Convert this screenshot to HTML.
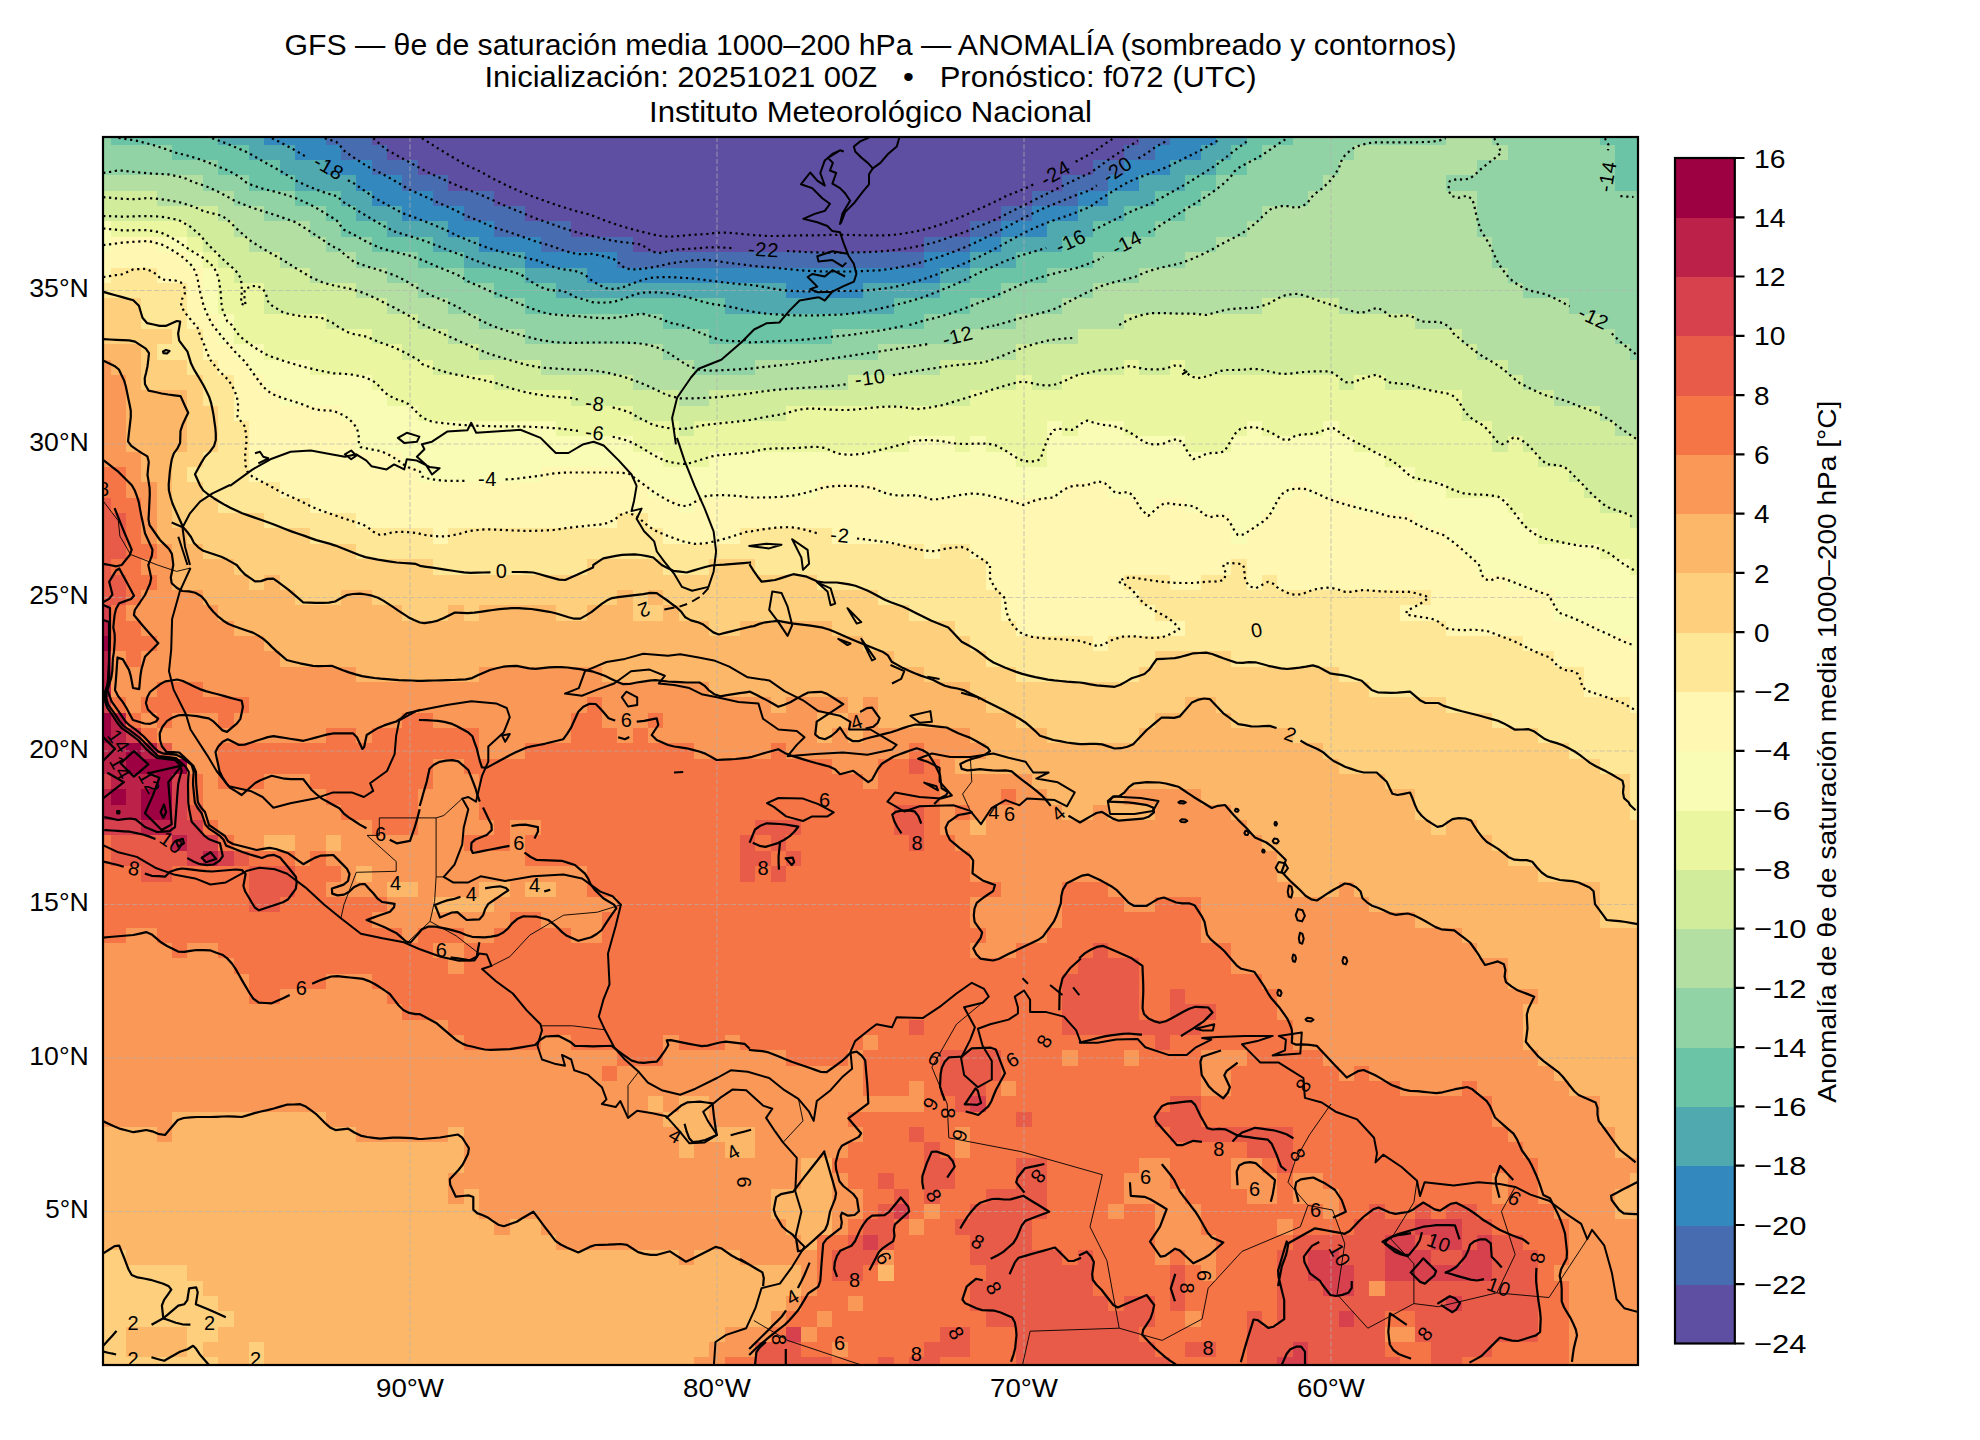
<!DOCTYPE html>
<html lang="es"><head><meta charset="utf-8"><title>GFS θe anomalía</title>
<style>html,body{margin:0;padding:0;background:#fff}body{width:1980px;height:1440px;overflow:hidden}svg{display:block}text{font-family:"Liberation Sans",sans-serif;fill:#000}</style></head><body>
<svg width="1980" height="1440" viewBox="0 0 1980 1440">
<rect width="1980" height="1440" fill="#fff"/>
<defs><clipPath id="ax"><rect x="103.0" y="137.0" width="1535.0" height="1228.0"/></clipPath></defs>
<g clip-path="url(#ax)">
<g shape-rendering="crispEdges"><path fill="#5e4fa2" d="M371.6 137H1139.1V144.7H371.6ZM387 144.7H1123.8V160H387ZM417.7 160H1093.1V175.4H417.7ZM448.4 175.4H1062.4V190.7H448.4ZM494.4 190.7H1031.7V206.1H494.4ZM525.1 206.1H1001V221.4H525.1ZM571.2 221.4H970.3V236.8H571.2ZM632.6 236.8H924.2V252.1H632.6Z"/>
<path fill="#486cb0" d="M325.6 137H371.6V144.7H325.6ZM1139.1 137H1169.8V144.7H1139.1ZM340.9 144.7H387V160H340.9ZM1123.8 144.7H1154.5V160H1123.8ZM371.6 160H417.7V175.4H371.6ZM1093.1 160H1123.8V175.4H1093.1ZM402.3 175.4H448.4V190.7H402.3ZM1062.4 175.4H1108.4V190.7H1062.4ZM433 190.7H494.4V206.1H433ZM1031.7 190.7H1077.7V206.1H1031.7ZM463.7 206.1H525.1V221.4H463.7ZM1001 206.1H1031.7V221.4H1001ZM494.4 221.4H571.2V236.8H494.4ZM970.3 221.4H1001V236.8H970.3ZM540.5 236.8H632.6V252.1H540.5ZM924.2 236.8H970.3V252.1H924.2ZM617.2 252.1H924.2V267.5H617.2Z"/>
<path fill="#3389bd" d="M264.2 137H325.6V144.7H264.2ZM1169.8 137H1215.9V144.7H1169.8ZM294.9 144.7H340.9V160H294.9ZM1154.5 144.7H1200.5V160H1154.5ZM325.6 160H371.6V175.4H325.6ZM1123.8 160H1169.8V175.4H1123.8ZM356.3 175.4H402.3V190.7H356.3ZM1108.4 175.4H1139.1V190.7H1108.4ZM371.6 190.7H433V206.1H371.6ZM1077.7 190.7H1108.4V206.1H1077.7ZM402.3 206.1H463.7V221.4H402.3ZM1031.7 206.1H1077.7V221.4H1031.7ZM448.4 221.4H494.4V236.8H448.4ZM1001 221.4H1047V236.8H1001ZM479.1 236.8H540.5V252.1H479.1ZM970.3 236.8H1001V252.1H970.3ZM525.1 252.1H617.2V267.5H525.1ZM924.2 252.1H970.3V267.5H924.2ZM586.5 267.5H939.6V282.8H586.5ZM786.1 282.8H862.8V298.2H786.1Z"/>
<path fill="#50a9af" d="M218.1 137H264.2V144.7H218.1ZM1215.9 137H1246.6V144.7H1215.9ZM248.8 144.7H294.9V160H248.8ZM1200.5 144.7H1231.2V160H1200.5ZM279.5 160H325.6V175.4H279.5ZM1169.8 160H1215.9V175.4H1169.8ZM294.9 175.4H356.3V190.7H294.9ZM1139.1 175.4H1185.2V190.7H1139.1ZM340.9 190.7H371.6V206.1H340.9ZM1108.4 190.7H1154.5V206.1H1108.4ZM356.3 206.1H402.3V221.4H356.3ZM1077.7 206.1H1123.8V221.4H1077.7ZM387 221.4H448.4V236.8H387ZM1047 221.4H1093.1V236.8H1047ZM433 236.8H479.1V252.1H433ZM1001 236.8H1062.4V252.1H1001ZM463.7 252.1H525.1V267.5H463.7ZM970.3 252.1H1016.3V267.5H970.3ZM525.1 267.5H586.5V282.8H525.1ZM939.6 267.5H970.3V282.8H939.6ZM555.8 282.8H786.1V298.2H555.8ZM862.8 282.8H939.6V298.2H862.8ZM724.7 298.2H893.5V313.5H724.7Z"/>
<path fill="#6bc4a5" d="M110.7 137H218.1V144.7H110.7ZM1246.6 137H1292.6V144.7H1246.6ZM1599.6 137H1638V144.7H1599.6ZM172.1 144.7H248.8V160H172.1ZM1231.2 144.7H1261.9V160H1231.2ZM218.1 160H279.5V175.4H218.1ZM1215.9 160H1246.6V175.4H1215.9ZM1615 144.7H1638V190.7H1615ZM248.8 175.4H294.9V190.7H248.8ZM1185.2 175.4H1215.9V190.7H1185.2ZM294.9 190.7H340.9V206.1H294.9ZM1154.5 190.7H1200.5V206.1H1154.5ZM325.6 206.1H356.3V221.4H325.6ZM1123.8 206.1H1185.2V221.4H1123.8ZM340.9 221.4H387V236.8H340.9ZM1093.1 221.4H1154.5V236.8H1093.1ZM371.6 236.8H433V252.1H371.6ZM1062.4 236.8H1123.8V252.1H1062.4ZM417.7 252.1H463.7V267.5H417.7ZM1016.3 252.1H1093.1V267.5H1016.3ZM463.7 267.5H525.1V282.8H463.7ZM970.3 267.5H1047V282.8H970.3ZM494.4 282.8H555.8V298.2H494.4ZM939.6 282.8H1001V298.2H939.6ZM525.1 298.2H724.7V313.5H525.1ZM893.5 298.2H970.3V313.5H893.5ZM663.3 313.5H924.2V328.9H663.3ZM709.3 328.9H832.1V344.2H709.3Z"/>
<path fill="#91d3a4" d="M103 137H110.7V144.7H103ZM1292.6 137H1446.1V144.7H1292.6ZM1492.2 137H1599.6V144.7H1492.2ZM103 144.7H172.1V160H103ZM1261.9 144.7H1354V160H1261.9ZM1507.5 144.7H1615V160H1507.5ZM103 160H218.1V175.4H103ZM1246.6 160H1338.7V175.4H1246.6ZM1476.8 160H1615V175.4H1476.8ZM202.8 175.4H248.8V190.7H202.8ZM1215.9 175.4H1323.3V190.7H1215.9ZM1446.1 175.4H1615V190.7H1446.1ZM233.5 190.7H294.9V206.1H233.5ZM1200.5 190.7H1308V206.1H1200.5ZM264.2 206.1H325.6V221.4H264.2ZM1185.2 206.1H1261.9V221.4H1185.2ZM1476.8 190.7H1638V236.8H1476.8ZM310.2 221.4H340.9V236.8H310.2ZM1154.5 221.4H1246.6V236.8H1154.5ZM325.6 236.8H371.6V252.1H325.6ZM1123.8 236.8H1215.9V252.1H1123.8ZM1492.2 236.8H1638V267.5H1492.2ZM356.3 252.1H417.7V267.5H356.3ZM1093.1 252.1H1185.2V267.5H1093.1ZM387 267.5H463.7V282.8H387ZM1047 267.5H1139.1V282.8H1047ZM1507.5 267.5H1638V282.8H1507.5ZM417.7 282.8H494.4V298.2H417.7ZM1001 282.8H1093.1V298.2H1001ZM1522.9 282.8H1638V298.2H1522.9ZM448.4 298.2H525.1V313.5H448.4ZM970.3 298.2H1062.4V313.5H970.3ZM1568.9 298.2H1638V313.5H1568.9ZM479.1 313.5H663.3V328.9H479.1ZM924.2 313.5H1016.3V328.9H924.2ZM1599.6 313.5H1638V328.9H1599.6ZM525.1 328.9H709.3V344.2H525.1ZM832.1 328.9H954.9V344.2H832.1ZM1615 328.9H1638V344.2H1615ZM663.3 344.2H878.2V359.6H663.3ZM1630.3 344.2H1638V359.6H1630.3ZM694 359.6H755.4V374.9H694Z"/>
<path fill="#b3e0a2" d="M1446.1 137H1492.2V144.7H1446.1ZM1354 144.7H1507.5V160H1354ZM1338.7 160H1476.8V175.4H1338.7ZM103 175.4H202.8V190.7H103ZM1323.3 175.4H1446.1V190.7H1323.3ZM156.7 190.7H233.5V206.1H156.7ZM1308 190.7H1476.8V206.1H1308ZM218.1 206.1H264.2V221.4H218.1ZM1261.9 206.1H1476.8V221.4H1261.9ZM233.5 221.4H310.2V236.8H233.5ZM1246.6 221.4H1476.8V236.8H1246.6ZM248.8 236.8H325.6V252.1H248.8ZM1215.9 236.8H1492.2V252.1H1215.9ZM279.5 252.1H356.3V267.5H279.5ZM1185.2 252.1H1492.2V267.5H1185.2ZM310.2 267.5H387V282.8H310.2ZM1139.1 267.5H1507.5V282.8H1139.1ZM356.3 282.8H417.7V298.2H356.3ZM1093.1 282.8H1522.9V298.2H1093.1ZM387 298.2H448.4V313.5H387ZM1062.4 298.2H1261.9V313.5H1062.4ZM1338.7 298.2H1568.9V313.5H1338.7ZM417.7 313.5H479.1V328.9H417.7ZM1016.3 313.5H1123.8V328.9H1016.3ZM1415.4 313.5H1599.6V328.9H1415.4ZM448.4 328.9H525.1V344.2H448.4ZM954.9 328.9H1077.7V344.2H954.9ZM1461.5 328.9H1615V344.2H1461.5ZM479.1 344.2H663.3V359.6H479.1ZM878.2 344.2H1016.3V359.6H878.2ZM1476.8 344.2H1630.3V359.6H1476.8ZM540.5 359.6H694V374.9H540.5ZM755.4 359.6H939.6V374.9H755.4ZM1507.5 359.6H1638V374.9H1507.5ZM632.6 374.9H847.5V390.3H632.6ZM1522.9 374.9H1638V390.3H1522.9ZM678.6 390.3H709.3V405.6H678.6ZM1553.6 390.3H1638V405.6H1553.6ZM1599.6 405.6H1638V421H1599.6ZM1615 421H1638V436.3H1615Z"/>
<path fill="#d1ed9c" d="M103 190.7H156.7V206.1H103ZM103 206.1H218.1V221.4H103ZM187.4 221.4H233.5V236.8H187.4ZM202.8 236.8H248.8V252.1H202.8ZM218.1 252.1H279.5V267.5H218.1ZM233.5 267.5H310.2V282.8H233.5ZM264.2 282.8H356.3V298.2H264.2ZM264.2 298.2H387V313.5H264.2ZM1261.9 298.2H1338.7V313.5H1261.9ZM325.6 313.5H417.7V328.9H325.6ZM1123.8 313.5H1415.4V328.9H1123.8ZM371.6 328.9H448.4V344.2H371.6ZM1077.7 328.9H1461.5V344.2H1077.7ZM402.3 344.2H479.1V359.6H402.3ZM1016.3 344.2H1476.8V359.6H1016.3ZM433 359.6H540.5V374.9H433ZM939.6 359.6H1123.8V374.9H939.6ZM1139.1 359.6H1169.8V374.9H1139.1ZM1185.2 359.6H1507.5V374.9H1185.2ZM494.4 374.9H632.6V390.3H494.4ZM847.5 374.9H1016.3V390.3H847.5ZM1031.7 374.9H1062.4V390.3H1031.7ZM1338.7 374.9H1354V390.3H1338.7ZM1384.7 374.9H1522.9V390.3H1384.7ZM571.2 390.3H678.6V405.6H571.2ZM709.3 390.3H970.3V405.6H709.3ZM1461.5 390.3H1553.6V405.6H1461.5ZM632.6 405.6H786.1V421H632.6ZM1461.5 405.6H1599.6V421H1461.5ZM678.6 421H694V436.3H678.6ZM1492.2 421H1615V436.3H1492.2ZM1492.2 436.3H1507.5V451.7H1492.2ZM1522.9 436.3H1638V451.7H1522.9ZM1538.2 451.7H1638V467H1538.2ZM1568.9 467H1638V482.4H1568.9ZM1584.3 482.4H1638V497.7H1584.3ZM1599.6 497.7H1638V513.1H1599.6ZM1630.3 513.1H1638V528.4H1630.3Z"/>
<path fill="#ebf7a0" d="M110.7 221.4H187.4V236.8H110.7ZM187.4 236.8H202.8V252.1H187.4ZM202.8 252.1H218.1V267.5H202.8ZM218.1 267.5H233.5V282.8H218.1ZM218.1 282.8H264.2V313.5H218.1ZM233.5 313.5H325.6V328.9H233.5ZM233.5 328.9H371.6V344.2H233.5ZM264.2 344.2H402.3V359.6H264.2ZM310.2 359.6H433V374.9H310.2ZM1123.8 359.6H1139.1V374.9H1123.8ZM1169.8 359.6H1185.2V374.9H1169.8ZM371.6 374.9H494.4V390.3H371.6ZM1016.3 374.9H1031.7V390.3H1016.3ZM1062.4 374.9H1338.7V390.3H1062.4ZM1354 374.9H1384.7V390.3H1354ZM387 390.3H571.2V405.6H387ZM970.3 390.3H1461.5V405.6H970.3ZM417.7 405.6H632.6V421H417.7ZM786.1 405.6H1461.5V421H786.1ZM555.8 421H678.6V436.3H555.8ZM694 421H1047V436.3H694ZM1062.4 421H1077.7V436.3H1062.4ZM1123.8 421H1246.6V436.3H1123.8ZM1261.9 421H1323.3V436.3H1261.9ZM1338.7 421H1492.2V436.3H1338.7ZM632.6 436.3H908.9V451.7H632.6ZM954.9 436.3H970.3V451.7H954.9ZM985.6 436.3H1047V451.7H985.6ZM1185.2 436.3H1231.2V451.7H1185.2ZM1354 436.3H1492.2V451.7H1354ZM1507.5 436.3H1522.9V451.7H1507.5ZM663.3 451.7H709.3V467H663.3ZM1016.3 451.7H1047V467H1016.3ZM1384.7 451.7H1538.2V467H1384.7ZM1415.4 467H1568.9V482.4H1415.4ZM1446.1 482.4H1584.3V497.7H1446.1ZM1507.5 497.7H1599.6V513.1H1507.5ZM1522.9 513.1H1630.3V528.4H1522.9ZM1538.2 528.4H1638V543.8H1538.2ZM1599.6 543.8H1638V559.1H1599.6ZM1630.3 559.1H1638V574.5H1630.3Z"/>
<path fill="#f8fcb4" d="M103 221.4H110.7V252.1H103ZM156.7 236.8H187.4V252.1H156.7ZM187.4 252.1H202.8V267.5H187.4ZM202.8 267.5H218.1V313.5H202.8ZM218.1 313.5H233.5V344.2H218.1ZM233.5 344.2H264.2V359.6H233.5ZM248.8 359.6H310.2V374.9H248.8ZM264.2 374.9H371.6V390.3H264.2ZM279.5 390.3H387V405.6H279.5ZM340.9 405.6H417.7V421H340.9ZM356.3 421H555.8V436.3H356.3ZM1047 421H1062.4V436.3H1047ZM1077.7 421H1123.8V436.3H1077.7ZM1246.6 421H1261.9V436.3H1246.6ZM1323.3 421H1338.7V436.3H1323.3ZM356.3 436.3H632.6V451.7H356.3ZM908.9 436.3H954.9V451.7H908.9ZM970.3 436.3H985.6V451.7H970.3ZM1047 436.3H1185.2V451.7H1047ZM1231.2 436.3H1354V451.7H1231.2ZM402.3 451.7H663.3V467H402.3ZM709.3 451.7H1016.3V467H709.3ZM1047 451.7H1384.7V467H1047ZM417.7 467H540.5V482.4H417.7ZM632.6 467H1415.4V482.4H632.6ZM647.9 482.4H816.8V497.7H647.9ZM878.2 482.4H1062.4V497.7H878.2ZM1108.4 482.4H1292.6V497.7H1108.4ZM1308 482.4H1446.1V497.7H1308ZM678.6 497.7H694V513.1H678.6ZM1139.1 497.7H1154.5V513.1H1139.1ZM1185.2 497.7H1277.3V513.1H1185.2ZM1354 497.7H1507.5V513.1H1354ZM1231.2 513.1H1261.9V528.4H1231.2ZM1415.4 513.1H1522.9V528.4H1415.4ZM1231.2 528.4H1246.6V543.8H1231.2ZM1446.1 528.4H1538.2V543.8H1446.1ZM1461.5 543.8H1599.6V559.1H1461.5ZM1476.8 559.1H1630.3V574.5H1476.8ZM1507.5 574.5H1638V589.8H1507.5ZM1553.6 589.8H1638V620.5H1553.6ZM1599.6 620.5H1638V635.9H1599.6ZM1630.3 635.9H1638V651.2H1630.3Z"/>
<path fill="#fff7b2" d="M110.7 236.8H156.7V252.1H110.7ZM103 252.1H187.4V267.5H103ZM103 267.5H110.7V282.8H103ZM156.7 267.5H202.8V282.8H156.7ZM187.4 282.8H202.8V313.5H187.4ZM187.4 313.5H218.1V328.9H187.4ZM202.8 328.9H218.1V344.2H202.8ZM202.8 344.2H233.5V359.6H202.8ZM218.1 359.6H248.8V374.9H218.1ZM233.5 374.9H264.2V390.3H233.5ZM233.5 390.3H279.5V405.6H233.5ZM233.5 405.6H340.9V421H233.5ZM248.8 421H356.3V451.7H248.8ZM248.8 451.7H402.3V467H248.8ZM248.8 467H417.7V482.4H248.8ZM540.5 467H632.6V482.4H540.5ZM279.5 482.4H647.9V497.7H279.5ZM816.8 482.4H878.2V497.7H816.8ZM1062.4 482.4H1108.4V497.7H1062.4ZM1292.6 482.4H1308V497.7H1292.6ZM310.2 497.7H678.6V513.1H310.2ZM694 497.7H1139.1V513.1H694ZM1154.5 497.7H1185.2V513.1H1154.5ZM1277.3 497.7H1354V513.1H1277.3ZM356.3 513.1H617.2V528.4H356.3ZM647.9 513.1H1231.2V528.4H647.9ZM1261.9 513.1H1415.4V528.4H1261.9ZM433 528.4H448.4V543.8H433ZM663.3 528.4H740V543.8H663.3ZM832.1 528.4H1231.2V543.8H832.1ZM1246.6 528.4H1446.1V543.8H1246.6ZM924.2 543.8H939.6V559.1H924.2ZM970.3 543.8H1461.5V559.1H970.3ZM985.6 559.1H1231.2V574.5H985.6ZM1246.6 559.1H1476.8V574.5H1246.6ZM985.6 574.5H1123.8V589.8H985.6ZM1169.8 574.5H1200.5V589.8H1169.8ZM1246.6 574.5H1261.9V589.8H1246.6ZM1277.3 574.5H1507.5V589.8H1277.3ZM1001 589.8H1139.1V605.2H1001ZM1430.8 589.8H1553.6V605.2H1430.8ZM1001 605.2H1154.5V620.5H1001ZM1400.1 605.2H1553.6V620.5H1400.1ZM1016.3 620.5H1185.2V635.9H1016.3ZM1446.1 620.5H1599.6V635.9H1446.1ZM1093.1 635.9H1108.4V651.2H1093.1ZM1522.9 635.9H1630.3V651.2H1522.9ZM1553.6 651.2H1638V666.6H1553.6ZM1584.3 666.6H1638V697.3H1584.3ZM1630.3 697.3H1638V712.6H1630.3Z"/>
<path fill="#fee797" d="M110.7 267.5H156.7V282.8H110.7ZM103 282.8H187.4V298.2H103ZM141.4 298.2H187.4V328.9H141.4ZM172.1 328.9H202.8V344.2H172.1ZM156.7 344.2H202.8V359.6H156.7ZM187.4 359.6H218.1V374.9H187.4ZM202.8 374.9H233.5V405.6H202.8ZM218.1 405.6H233.5V421H218.1ZM218.1 421H248.8V451.7H218.1ZM202.8 451.7H248.8V467H202.8ZM187.4 467H248.8V482.4H187.4ZM202.8 482.4H279.5V497.7H202.8ZM218.1 497.7H310.2V513.1H218.1ZM264.2 513.1H356.3V528.4H264.2ZM617.2 513.1H647.9V528.4H617.2ZM310.2 528.4H433V543.8H310.2ZM448.4 528.4H663.3V543.8H448.4ZM740 528.4H832.1V543.8H740ZM356.3 543.8H924.2V559.1H356.3ZM939.6 543.8H970.3V559.1H939.6ZM433 559.1H586.5V574.5H433ZM663.3 559.1H709.3V574.5H663.3ZM755.4 559.1H985.6V574.5H755.4ZM1231.2 559.1H1246.6V574.5H1231.2ZM816.8 574.5H985.6V589.8H816.8ZM1123.8 574.5H1169.8V589.8H1123.8ZM1200.5 574.5H1246.6V589.8H1200.5ZM1261.9 574.5H1277.3V589.8H1261.9ZM878.2 589.8H1001V605.2H878.2ZM1139.1 589.8H1430.8V605.2H1139.1ZM908.9 605.2H1001V620.5H908.9ZM1154.5 605.2H1400.1V620.5H1154.5ZM954.9 620.5H1016.3V635.9H954.9ZM1185.2 620.5H1446.1V635.9H1185.2ZM970.3 635.9H1093.1V651.2H970.3ZM1108.4 635.9H1522.9V651.2H1108.4ZM985.6 651.2H1154.5V666.6H985.6ZM1231.2 651.2H1553.6V666.6H1231.2ZM1016.3 666.6H1139.1V681.9H1016.3ZM1338.7 666.6H1584.3V681.9H1338.7ZM1369.4 681.9H1584.3V697.3H1369.4ZM1446.1 697.3H1630.3V712.6H1446.1ZM1492.2 712.6H1638V728H1492.2ZM1538.2 728H1638V743.3H1538.2ZM1568.9 743.3H1638V758.7H1568.9ZM1599.6 758.7H1638V774H1599.6ZM1630.3 774H1638V820.1H1630.3Z"/>
<path fill="#fed07e" d="M103 298.2H141.4V328.9H103ZM103 328.9H172.1V344.2H103ZM141.4 344.2H156.7V359.6H141.4ZM141.4 359.6H187.4V374.9H141.4ZM141.4 374.9H202.8V390.3H141.4ZM187.4 390.3H202.8V405.6H187.4ZM187.4 405.6H218.1V451.7H187.4ZM172.1 451.7H202.8V467H172.1ZM172.1 467H187.4V482.4H172.1ZM172.1 482.4H202.8V497.7H172.1ZM172.1 497.7H218.1V513.1H172.1ZM172.1 513.1H264.2V528.4H172.1ZM187.4 528.4H310.2V543.8H187.4ZM202.8 543.8H356.3V559.1H202.8ZM233.5 559.1H433V574.5H233.5ZM586.5 559.1H663.3V574.5H586.5ZM709.3 559.1H755.4V574.5H709.3ZM248.8 574.5H264.2V589.8H248.8ZM279.5 574.5H816.8V589.8H279.5ZM294.9 589.8H340.9V605.2H294.9ZM371.6 589.8H617.2V605.2H371.6ZM632.6 589.8H647.9V605.2H632.6ZM663.3 589.8H878.2V605.2H663.3ZM402.3 605.2H448.4V620.5H402.3ZM463.7 605.2H479.1V620.5H463.7ZM555.8 605.2H586.5V620.5H555.8ZM632.6 605.2H663.3V620.5H632.6ZM678.6 605.2H908.9V620.5H678.6ZM709.3 620.5H740V635.9H709.3ZM832.1 620.5H954.9V635.9H832.1ZM862.8 635.9H970.3V651.2H862.8ZM893.5 651.2H985.6V666.6H893.5ZM1154.5 651.2H1231.2V666.6H1154.5ZM924.2 666.6H1016.3V681.9H924.2ZM1139.1 666.6H1338.7V681.9H1139.1ZM970.3 681.9H1369.4V697.3H970.3ZM985.6 697.3H1185.2V712.6H985.6ZM1215.9 697.3H1446.1V712.6H1215.9ZM1016.3 712.6H1154.5V728H1016.3ZM1231.2 712.6H1492.2V728H1231.2ZM1047 728H1139.1V743.3H1047ZM1292.6 728H1538.2V743.3H1292.6ZM1323.3 743.3H1568.9V758.7H1323.3ZM1338.7 758.7H1599.6V774H1338.7ZM1384.7 774H1630.3V789.4H1384.7ZM1415.4 789.4H1630.3V820.1H1415.4ZM1430.8 820.1H1446.1V835.4H1430.8ZM1476.8 820.1H1638V835.4H1476.8ZM1492.2 835.4H1638V850.8H1492.2ZM1507.5 850.8H1638V866.1H1507.5ZM1538.2 866.1H1638V881.5H1538.2ZM1599.6 881.5H1638V927.5H1599.6ZM103 1249.9H126V1265.2H103ZM103 1265.2H187.4V1280.6H103ZM103 1280.6H202.8V1295.9H103ZM103 1295.9H218.1V1311.3H103ZM103 1311.3H233.5V1326.6H103ZM187.4 1326.6H218.1V1342H187.4ZM103 1326.6H126V1357.3H103ZM187.4 1342H202.8V1357.3H187.4ZM248.8 1342H264.2V1365H248.8ZM103 1357.3H218.1V1365H103Z"/>
<path fill="#fdb768" d="M103 344.2H141.4V359.6H103ZM110.7 359.6H141.4V374.9H110.7ZM126 374.9H141.4V390.3H126ZM126 390.3H187.4V451.7H126ZM141.4 451.7H172.1V482.4H141.4ZM156.7 482.4H172.1V528.4H156.7ZM156.7 528.4H187.4V543.8H156.7ZM172.1 543.8H202.8V559.1H172.1ZM172.1 559.1H233.5V574.5H172.1ZM172.1 574.5H248.8V589.8H172.1ZM264.2 574.5H279.5V589.8H264.2ZM202.8 589.8H294.9V605.2H202.8ZM340.9 589.8H371.6V605.2H340.9ZM617.2 589.8H632.6V605.2H617.2ZM647.9 589.8H663.3V605.2H647.9ZM218.1 605.2H402.3V620.5H218.1ZM448.4 605.2H463.7V620.5H448.4ZM479.1 605.2H555.8V620.5H479.1ZM586.5 605.2H632.6V620.5H586.5ZM663.3 605.2H678.6V620.5H663.3ZM233.5 620.5H709.3V635.9H233.5ZM740 620.5H832.1V635.9H740ZM264.2 635.9H862.8V651.2H264.2ZM279.5 651.2H893.5V666.6H279.5ZM356.3 666.6H479.1V681.9H356.3ZM601.9 666.6H924.2V681.9H601.9ZM709.3 681.9H970.3V697.3H709.3ZM770.7 697.3H786.1V712.6H770.7ZM847.5 697.3H862.8V712.6H847.5ZM878.2 697.3H985.6V712.6H878.2ZM1185.2 697.3H1215.9V712.6H1185.2ZM816.8 712.6H847.5V728H816.8ZM878.2 712.6H1016.3V728H878.2ZM1154.5 712.6H1231.2V728H1154.5ZM816.8 728H832.1V743.3H816.8ZM847.5 728H862.8V743.3H847.5ZM970.3 728H1047V743.3H970.3ZM1139.1 728H1292.6V743.3H1139.1ZM985.6 743.3H1323.3V758.7H985.6ZM954.9 758.7H1338.7V774H954.9ZM1031.7 774H1384.7V789.4H1031.7ZM1047 789.4H1123.8V804.7H1047ZM1200.5 789.4H1415.4V804.7H1200.5ZM1062.4 804.7H1093.1V820.1H1062.4ZM1108.4 804.7H1154.5V820.1H1108.4ZM1231.2 804.7H1415.4V820.1H1231.2ZM970.3 820.1H985.6V835.4H970.3ZM1246.6 820.1H1430.8V835.4H1246.6ZM1446.1 820.1H1476.8V835.4H1446.1ZM264.2 835.4H294.9V850.8H264.2ZM325.6 835.4H340.9V850.8H325.6ZM1261.9 835.4H1492.2V850.8H1261.9ZM1277.3 850.8H1507.5V866.1H1277.3ZM356.3 866.1H371.6V881.5H356.3ZM1277.3 866.1H1538.2V881.5H1277.3ZM387 881.5H417.7V896.8H387ZM479.1 881.5H509.8V896.8H479.1ZM525.1 881.5H555.8V896.8H525.1ZM1292.6 881.5H1338.7V896.8H1292.6ZM1354 881.5H1599.6V896.8H1354ZM433 896.8H494.4V912.2H433ZM1369.4 896.8H1599.6V912.2H1369.4ZM1415.4 912.2H1599.6V927.5H1415.4ZM1461.5 927.5H1638V942.9H1461.5ZM1476.8 942.9H1638V958.2H1476.8ZM1507.5 958.2H1638V988.9H1507.5ZM1538.2 988.9H1638V1004.3H1538.2ZM1522.9 1004.3H1638V1050.3H1522.9ZM1538.2 1050.3H1638V1065.7H1538.2ZM1553.6 1065.7H1638V1081H1553.6ZM1568.9 1081H1638V1096.4H1568.9ZM647.9 1096.4H663.3V1111.7H647.9ZM678.6 1096.4H709.3V1111.7H678.6ZM1599.6 1096.4H1638V1127.1H1599.6ZM172.1 1111.7H325.6V1127.1H172.1ZM663.3 1111.7H709.3V1127.1H663.3ZM103 1127.1H156.7V1142.4H103ZM172.1 1127.1H356.3V1142.4H172.1ZM448.4 1127.1H463.7V1142.4H448.4ZM678.6 1127.1H755.4V1142.4H678.6ZM1615 1127.1H1638V1157.8H1615ZM678.6 1142.4H694V1157.8H678.6ZM724.7 1142.4H755.4V1157.8H724.7ZM103 1142.4H463.7V1173.1H103ZM801.4 1157.8H832.1V1188.5H801.4ZM1630.3 1173.1H1638V1188.5H1630.3ZM103 1173.1H448.4V1203.8H103ZM463.7 1188.5H479.1V1203.8H463.7ZM770.7 1188.5H832.1V1219.2H770.7ZM1615 1188.5H1638V1219.2H1615ZM103 1203.8H479.1V1219.2H103ZM103 1219.2H494.4V1234.5H103ZM509.8 1219.2H540.5V1234.5H509.8ZM786.1 1219.2H832.1V1234.5H786.1ZM103 1234.5H555.8V1249.9H103ZM801.4 1234.5H816.8V1249.9H801.4ZM126 1249.9H678.6V1265.2H126ZM694 1249.9H740V1265.2H694ZM187.4 1265.2H801.4V1280.6H187.4ZM878.2 1265.2H893.5V1280.6H878.2ZM202.8 1280.6H801.4V1295.9H202.8ZM218.1 1295.9H786.1V1311.3H218.1ZM233.5 1311.3H770.7V1326.6H233.5ZM218.1 1326.6H724.7V1342H218.1ZM126 1326.6H187.4V1357.3H126ZM202.8 1342H248.8V1357.3H202.8ZM264.2 1342H709.3V1357.3H264.2ZM218.1 1357.3H248.8V1365H218.1ZM264.2 1357.3H694V1365H264.2Z"/>
<path fill="#fa9857" d="M103 359.6H110.7V374.9H103ZM103 374.9H126V451.7H103ZM103 451.7H141.4V467H103ZM126 467H141.4V482.4H126ZM126 482.4H156.7V497.7H126ZM141.4 497.7H156.7V543.8H141.4ZM156.7 543.8H172.1V559.1H156.7ZM141.4 559.1H172.1V574.5H141.4ZM156.7 574.5H172.1V589.8H156.7ZM141.4 589.8H202.8V605.2H141.4ZM126 605.2H218.1V620.5H126ZM141.4 620.5H233.5V635.9H141.4ZM156.7 635.9H264.2V651.2H156.7ZM110.7 651.2H126V666.6H110.7ZM141.4 651.2H279.5V666.6H141.4ZM110.7 666.6H356.3V681.9H110.7ZM479.1 666.6H601.9V681.9H479.1ZM110.7 681.9H156.7V697.3H110.7ZM202.8 681.9H709.3V697.3H202.8ZM126 697.3H141.4V712.6H126ZM248.8 697.3H586.5V712.6H248.8ZM601.9 697.3H770.7V712.6H601.9ZM786.1 697.3H847.5V712.6H786.1ZM862.8 697.3H878.2V712.6H862.8ZM141.4 712.6H156.7V728H141.4ZM172.1 712.6H218.1V728H172.1ZM233.5 712.6H402.3V728H233.5ZM433 712.6H571.2V728H433ZM601.9 712.6H647.9V728H601.9ZM663.3 712.6H816.8V728H663.3ZM847.5 712.6H878.2V728H847.5ZM156.7 728H325.6V743.3H156.7ZM356.3 728H371.6V743.3H356.3ZM479.1 728H571.2V743.3H479.1ZM617.2 728H632.6V743.3H617.2ZM647.9 728H816.8V743.3H647.9ZM832.1 728H847.5V743.3H832.1ZM862.8 728H970.3V743.3H862.8ZM172.1 743.3H218.1V758.7H172.1ZM479.1 743.3H525.1V758.7H479.1ZM694 743.3H770.7V758.7H694ZM786.1 743.3H908.9V758.7H786.1ZM924.2 743.3H985.6V758.7H924.2ZM187.4 758.7H218.1V774H187.4ZM433 758.7H463.7V774H433ZM832.1 758.7H878.2V774H832.1ZM939.6 758.7H954.9V774H939.6ZM202.8 774H218.1V789.4H202.8ZM264.2 774H310.2V789.4H264.2ZM433 774H479.1V789.4H433ZM862.8 774H878.2V789.4H862.8ZM939.6 774H1031.7V789.4H939.6ZM202.8 789.4H325.6V804.7H202.8ZM939.6 789.4H1001V804.7H939.6ZM1016.3 789.4H1047V804.7H1016.3ZM1123.8 789.4H1200.5V804.7H1123.8ZM417.7 789.4H479.1V820.1H417.7ZM202.8 804.7H340.9V820.1H202.8ZM939.6 804.7H954.9V820.1H939.6ZM970.3 804.7H1062.4V820.1H970.3ZM1093.1 804.7H1108.4V820.1H1093.1ZM1154.5 804.7H1231.2V820.1H1154.5ZM218.1 820.1H371.6V835.4H218.1ZM417.7 820.1H494.4V835.4H417.7ZM509.8 820.1H540.5V835.4H509.8ZM939.6 820.1H970.3V835.4H939.6ZM985.6 820.1H1246.6V835.4H985.6ZM233.5 835.4H264.2V850.8H233.5ZM294.9 835.4H325.6V850.8H294.9ZM340.9 835.4H463.7V850.8H340.9ZM509.8 835.4H525.1V850.8H509.8ZM954.9 835.4H1261.9V850.8H954.9ZM294.9 850.8H310.2V866.1H294.9ZM325.6 850.8H525.1V866.1H325.6ZM970.3 850.8H1277.3V881.5H970.3ZM340.9 866.1H356.3V881.5H340.9ZM371.6 866.1H586.5V881.5H371.6ZM325.6 881.5H387V896.8H325.6ZM417.7 881.5H479.1V896.8H417.7ZM509.8 881.5H525.1V896.8H509.8ZM555.8 881.5H586.5V896.8H555.8ZM1001 881.5H1062.4V896.8H1001ZM1108.4 881.5H1292.6V896.8H1108.4ZM1338.7 881.5H1354V896.8H1338.7ZM387 896.8H433V912.2H387ZM494.4 896.8H617.2V912.2H494.4ZM1123.8 896.8H1154.5V912.2H1123.8ZM1200.5 896.8H1369.4V912.2H1200.5ZM970.3 896.8H1062.4V927.5H970.3ZM371.6 912.2H509.8V927.5H371.6ZM540.5 912.2H601.9V927.5H540.5ZM1200.5 912.2H1415.4V927.5H1200.5ZM126 927.5H156.7V942.9H126ZM402.3 927.5H417.7V942.9H402.3ZM463.7 927.5H494.4V942.9H463.7ZM571.2 927.5H601.9V942.9H571.2ZM985.6 927.5H1047V942.9H985.6ZM1200.5 927.5H1461.5V942.9H1200.5ZM103 942.9H172.1V958.2H103ZM187.4 942.9H218.1V958.2H187.4ZM433 942.9H463.7V958.2H433ZM970.3 942.9H1016.3V958.2H970.3ZM1231.2 942.9H1476.8V958.2H1231.2ZM103 958.2H233.5V973.6H103ZM448.4 958.2H463.7V973.6H448.4ZM1231.2 958.2H1507.5V973.6H1231.2ZM325.6 973.6H371.6V988.9H325.6ZM1261.9 973.6H1507.5V988.9H1261.9ZM103 973.6H248.8V1004.3H103ZM279.5 988.9H387V1004.3H279.5ZM1277.3 988.9H1538.2V1004.3H1277.3ZM103 1004.3H402.3V1019.6H103ZM1277.3 1004.3H1522.9V1019.6H1277.3ZM103 1019.6H448.4V1035H103ZM1292.6 1019.6H1522.9V1050.3H1292.6ZM103 1035H463.7V1050.3H103ZM540.5 1035H571.2V1050.3H540.5ZM663.3 1035H678.6V1050.3H663.3ZM724.7 1035H740V1050.3H724.7ZM862.8 1035H878.2V1050.3H862.8ZM103 1050.3H617.2V1065.7H103ZM663.3 1050.3H786.1V1065.7H663.3ZM847.5 1050.3H862.8V1065.7H847.5ZM1062.4 1050.3H1077.7V1065.7H1062.4ZM1123.8 1050.3H1139.1V1065.7H1123.8ZM1200.5 1050.3H1246.6V1065.7H1200.5ZM1323.3 1050.3H1538.2V1065.7H1323.3ZM103 1065.7H601.9V1081H103ZM617.2 1065.7H862.8V1081H617.2ZM1338.7 1065.7H1354V1081H1338.7ZM1369.4 1065.7H1553.6V1081H1369.4ZM1200.5 1065.7H1231.2V1096.4H1200.5ZM103 1081H862.8V1096.4H103ZM908.9 1081H924.2V1096.4H908.9ZM1001 1081H1016.3V1096.4H1001ZM1400.1 1081H1461.5V1096.4H1400.1ZM1476.8 1081H1568.9V1096.4H1476.8ZM103 1096.4H647.9V1111.7H103ZM663.3 1096.4H678.6V1111.7H663.3ZM709.3 1096.4H924.2V1111.7H709.3ZM1492.2 1096.4H1599.6V1127.1H1492.2ZM103 1111.7H172.1V1127.1H103ZM325.6 1111.7H663.3V1127.1H325.6ZM709.3 1111.7H847.5V1127.1H709.3ZM156.7 1127.1H172.1V1142.4H156.7ZM356.3 1127.1H448.4V1142.4H356.3ZM755.4 1127.1H862.8V1142.4H755.4ZM1507.5 1127.1H1615V1142.4H1507.5ZM463.7 1127.1H678.6V1157.8H463.7ZM954.9 1127.1H970.3V1157.8H954.9ZM694 1142.4H724.7V1157.8H694ZM755.4 1142.4H847.5V1157.8H755.4ZM1522.9 1142.4H1615V1157.8H1522.9ZM463.7 1157.8H801.4V1173.1H463.7ZM1139.1 1157.8H1169.8V1173.1H1139.1ZM1231.2 1157.8H1261.9V1173.1H1231.2ZM1538.2 1157.8H1638V1173.1H1538.2ZM448.4 1173.1H801.4V1188.5H448.4ZM832.1 1173.1H847.5V1188.5H832.1ZM1123.8 1173.1H1169.8V1188.5H1123.8ZM1231.2 1173.1H1277.3V1188.5H1231.2ZM1292.6 1173.1H1323.3V1188.5H1292.6ZM1538.2 1173.1H1630.3V1188.5H1538.2ZM1492.2 1173.1H1507.5V1203.8H1492.2ZM448.4 1188.5H463.7V1203.8H448.4ZM1123.8 1188.5H1185.2V1203.8H1123.8ZM1246.6 1188.5H1277.3V1203.8H1246.6ZM1292.6 1188.5H1338.7V1203.8H1292.6ZM1538.2 1188.5H1615V1203.8H1538.2ZM479.1 1188.5H770.7V1219.2H479.1ZM832.1 1188.5H862.8V1219.2H832.1ZM924.2 1203.8H939.6V1219.2H924.2ZM1108.4 1203.8H1123.8V1219.2H1108.4ZM1323.3 1203.8H1338.7V1219.2H1323.3ZM1553.6 1203.8H1615V1219.2H1553.6ZM1154.5 1203.8H1200.5V1234.5H1154.5ZM494.4 1219.2H509.8V1234.5H494.4ZM540.5 1219.2H786.1V1234.5H540.5ZM832.1 1219.2H847.5V1234.5H832.1ZM908.9 1219.2H924.2V1234.5H908.9ZM1277.3 1219.2H1292.6V1234.5H1277.3ZM555.8 1234.5H801.4V1249.9H555.8ZM1154.5 1234.5H1215.9V1249.9H1154.5ZM1568.9 1219.2H1638V1265.2H1568.9ZM678.6 1249.9H694V1265.2H678.6ZM740 1249.9H816.8V1265.2H740ZM878.2 1249.9H893.5V1265.2H878.2ZM1154.5 1249.9H1169.8V1265.2H1154.5ZM1185.2 1249.9H1215.9V1265.2H1185.2ZM1200.5 1265.2H1215.9V1280.6H1200.5ZM1553.6 1265.2H1638V1280.6H1553.6ZM801.4 1265.2H816.8V1295.9H801.4ZM1369.4 1280.6H1384.7V1295.9H1369.4ZM786.1 1295.9H801.4V1311.3H786.1ZM847.5 1295.9H862.8V1311.3H847.5ZM770.7 1311.3H786.1V1326.6H770.7ZM816.8 1311.3H832.1V1326.6H816.8ZM1185.2 1311.3H1200.5V1326.6H1185.2ZM724.7 1326.6H770.7V1342H724.7ZM801.4 1326.6H816.8V1342H801.4ZM1384.7 1326.6H1415.4V1342H1384.7ZM709.3 1342H755.4V1357.3H709.3ZM832.1 1342H847.5V1357.3H832.1ZM1568.9 1280.6H1638V1365H1568.9ZM694 1357.3H724.7V1365H694Z"/>
<path fill="#f57547" d="M103 467H126V497.7H103ZM110.7 497.7H141.4V513.1H110.7ZM126 513.1H141.4V543.8H126ZM126 543.8H156.7V559.1H126ZM110.7 559.1H141.4V574.5H110.7ZM126 574.5H156.7V589.8H126ZM126 589.8H141.4V605.2H126ZM110.7 605.2H126V620.5H110.7ZM110.7 620.5H141.4V635.9H110.7ZM110.7 635.9H156.7V651.2H110.7ZM126 651.2H141.4V666.6H126ZM156.7 681.9H202.8V697.3H156.7ZM110.7 697.3H126V712.6H110.7ZM141.4 697.3H248.8V712.6H141.4ZM586.5 697.3H601.9V712.6H586.5ZM126 712.6H141.4V728H126ZM156.7 712.6H172.1V728H156.7ZM218.1 712.6H233.5V728H218.1ZM402.3 712.6H433V728H402.3ZM571.2 712.6H601.9V728H571.2ZM647.9 712.6H663.3V728H647.9ZM141.4 728H156.7V743.3H141.4ZM325.6 728H356.3V743.3H325.6ZM371.6 728H479.1V743.3H371.6ZM571.2 728H617.2V743.3H571.2ZM632.6 728H647.9V743.3H632.6ZM218.1 743.3H479.1V758.7H218.1ZM525.1 743.3H694V758.7H525.1ZM770.7 743.3H786.1V758.7H770.7ZM908.9 743.3H924.2V758.7H908.9ZM218.1 758.7H433V774H218.1ZM463.7 758.7H832.1V774H463.7ZM878.2 758.7H908.9V774H878.2ZM924.2 758.7H939.6V774H924.2ZM218.1 774H264.2V789.4H218.1ZM310.2 774H433V789.4H310.2ZM479.1 774H862.8V789.4H479.1ZM878.2 774H939.6V789.4H878.2ZM187.4 774H202.8V804.7H187.4ZM325.6 789.4H417.7V804.7H325.6ZM479.1 789.4H939.6V804.7H479.1ZM1001 789.4H1016.3V804.7H1001ZM340.9 804.7H417.7V820.1H340.9ZM479.1 804.7H893.5V820.1H479.1ZM954.9 804.7H970.3V820.1H954.9ZM924.2 804.7H939.6V835.4H924.2ZM202.8 820.1H218.1V835.4H202.8ZM371.6 820.1H417.7V835.4H371.6ZM494.4 820.1H509.8V835.4H494.4ZM540.5 820.1H755.4V835.4H540.5ZM801.4 820.1H893.5V835.4H801.4ZM218.1 835.4H233.5V850.8H218.1ZM463.7 835.4H509.8V850.8H463.7ZM755.4 835.4H770.7V850.8H755.4ZM786.1 835.4H908.9V850.8H786.1ZM924.2 835.4H954.9V850.8H924.2ZM103 835.4H110.7V866.1H103ZM525.1 835.4H740V866.1H525.1ZM248.8 850.8H294.9V866.1H248.8ZM310.2 850.8H325.6V866.1H310.2ZM770.7 850.8H786.1V866.1H770.7ZM801.4 850.8H970.3V866.1H801.4ZM103 866.1H141.4V881.5H103ZM172.1 866.1H248.8V881.5H172.1ZM294.9 866.1H340.9V881.5H294.9ZM586.5 866.1H740V881.5H586.5ZM755.4 866.1H770.7V881.5H755.4ZM786.1 866.1H970.3V881.5H786.1ZM294.9 881.5H325.6V896.8H294.9ZM586.5 881.5H1001V896.8H586.5ZM1062.4 881.5H1108.4V896.8H1062.4ZM103 881.5H248.8V912.2H103ZM279.5 896.8H387V912.2H279.5ZM617.2 896.8H970.3V912.2H617.2ZM1062.4 896.8H1123.8V912.2H1062.4ZM1154.5 896.8H1200.5V912.2H1154.5ZM103 912.2H371.6V927.5H103ZM509.8 912.2H540.5V927.5H509.8ZM601.9 912.2H970.3V927.5H601.9ZM1062.4 912.2H1200.5V927.5H1062.4ZM103 927.5H126V942.9H103ZM156.7 927.5H402.3V942.9H156.7ZM417.7 927.5H463.7V942.9H417.7ZM494.4 927.5H571.2V942.9H494.4ZM601.9 927.5H985.6V942.9H601.9ZM1047 927.5H1200.5V942.9H1047ZM172.1 942.9H187.4V958.2H172.1ZM218.1 942.9H433V958.2H218.1ZM463.7 942.9H970.3V958.2H463.7ZM1016.3 942.9H1093.1V958.2H1016.3ZM1108.4 942.9H1231.2V958.2H1108.4ZM233.5 958.2H448.4V973.6H233.5ZM463.7 958.2H1077.7V973.6H463.7ZM1139.1 958.2H1231.2V973.6H1139.1ZM248.8 973.6H325.6V988.9H248.8ZM371.6 973.6H1062.4V988.9H371.6ZM1139.1 973.6H1261.9V988.9H1139.1ZM248.8 988.9H279.5V1004.3H248.8ZM387 988.9H1062.4V1004.3H387ZM1185.2 988.9H1277.3V1004.3H1185.2ZM1139.1 988.9H1169.8V1019.6H1139.1ZM402.3 1004.3H1062.4V1019.6H402.3ZM1215.9 1004.3H1277.3V1019.6H1215.9ZM448.4 1019.6H908.9V1035H448.4ZM924.2 1019.6H1062.4V1035H924.2ZM1200.5 1019.6H1292.6V1035H1200.5ZM463.7 1035H540.5V1050.3H463.7ZM571.2 1035H663.3V1050.3H571.2ZM678.6 1035H724.7V1050.3H678.6ZM740 1035H862.8V1050.3H740ZM878.2 1035H1154.5V1050.3H878.2ZM1169.8 1035H1292.6V1050.3H1169.8ZM617.2 1050.3H663.3V1065.7H617.2ZM786.1 1050.3H847.5V1065.7H786.1ZM1001 1050.3H1062.4V1065.7H1001ZM1077.7 1050.3H1123.8V1065.7H1077.7ZM1139.1 1050.3H1200.5V1065.7H1139.1ZM1246.6 1050.3H1323.3V1065.7H1246.6ZM862.8 1050.3H939.6V1081H862.8ZM601.9 1065.7H617.2V1081H601.9ZM1001 1065.7H1200.5V1081H1001ZM1231.2 1065.7H1338.7V1081H1231.2ZM1354 1065.7H1369.4V1081H1354ZM862.8 1081H908.9V1096.4H862.8ZM924.2 1081H939.6V1096.4H924.2ZM985.6 1081H1001V1096.4H985.6ZM1016.3 1081H1200.5V1096.4H1016.3ZM1231.2 1081H1400.1V1096.4H1231.2ZM1461.5 1081H1476.8V1096.4H1461.5ZM924.2 1096.4H954.9V1111.7H924.2ZM985.6 1096.4H1169.8V1111.7H985.6ZM1200.5 1096.4H1492.2V1127.1H1200.5ZM847.5 1111.7H1016.3V1127.1H847.5ZM1031.7 1111.7H1154.5V1127.1H1031.7ZM862.8 1127.1H908.9V1142.4H862.8ZM924.2 1127.1H954.9V1142.4H924.2ZM970.3 1127.1H1169.8V1142.4H970.3ZM1292.6 1127.1H1507.5V1142.4H1292.6ZM847.5 1142.4H924.2V1157.8H847.5ZM939.6 1142.4H954.9V1157.8H939.6ZM970.3 1142.4H1246.6V1157.8H970.3ZM1292.6 1142.4H1522.9V1157.8H1292.6ZM832.1 1157.8H924.2V1173.1H832.1ZM1047 1157.8H1139.1V1173.1H1047ZM1261.9 1157.8H1277.3V1173.1H1261.9ZM1292.6 1157.8H1538.2V1173.1H1292.6ZM954.9 1157.8H1016.3V1188.5H954.9ZM1169.8 1157.8H1231.2V1188.5H1169.8ZM847.5 1173.1H878.2V1188.5H847.5ZM893.5 1173.1H924.2V1188.5H893.5ZM1323.3 1173.1H1492.2V1188.5H1323.3ZM1047 1173.1H1123.8V1203.8H1047ZM1277.3 1173.1H1292.6V1203.8H1277.3ZM1507.5 1173.1H1538.2V1203.8H1507.5ZM862.8 1188.5H893.5V1203.8H862.8ZM939.6 1188.5H985.6V1203.8H939.6ZM1185.2 1188.5H1246.6V1203.8H1185.2ZM1338.7 1188.5H1492.2V1203.8H1338.7ZM908.9 1188.5H924.2V1219.2H908.9ZM862.8 1203.8H878.2V1219.2H862.8ZM939.6 1203.8H970.3V1219.2H939.6ZM1047 1203.8H1108.4V1219.2H1047ZM1123.8 1203.8H1154.5V1219.2H1123.8ZM1200.5 1203.8H1323.3V1219.2H1200.5ZM1338.7 1203.8H1369.4V1219.2H1338.7ZM1384.7 1203.8H1415.4V1219.2H1384.7ZM1430.8 1203.8H1446.1V1219.2H1430.8ZM1476.8 1203.8H1553.6V1219.2H1476.8ZM847.5 1219.2H862.8V1234.5H847.5ZM893.5 1219.2H908.9V1234.5H893.5ZM924.2 1219.2H954.9V1234.5H924.2ZM1200.5 1219.2H1277.3V1234.5H1200.5ZM1292.6 1219.2H1354V1234.5H1292.6ZM1492.2 1219.2H1568.9V1234.5H1492.2ZM1031.7 1219.2H1154.5V1249.9H1031.7ZM816.8 1234.5H847.5V1249.9H816.8ZM1215.9 1234.5H1292.6V1249.9H1215.9ZM1522.9 1234.5H1568.9V1249.9H1522.9ZM893.5 1234.5H970.3V1265.2H893.5ZM1062.4 1249.9H1077.7V1265.2H1062.4ZM1093.1 1249.9H1154.5V1265.2H1093.1ZM1169.8 1249.9H1185.2V1265.2H1169.8ZM1538.2 1249.9H1568.9V1265.2H1538.2ZM816.8 1249.9H832.1V1280.6H816.8ZM1215.9 1249.9H1277.3V1280.6H1215.9ZM862.8 1265.2H878.2V1280.6H862.8ZM893.5 1265.2H985.6V1280.6H893.5ZM1185.2 1265.2H1200.5V1280.6H1185.2ZM1538.2 1265.2H1553.6V1280.6H1538.2ZM1093.1 1265.2H1169.8V1295.9H1093.1ZM816.8 1280.6H970.3V1295.9H816.8ZM1185.2 1280.6H1277.3V1311.3H1185.2ZM801.4 1295.9H847.5V1311.3H801.4ZM862.8 1295.9H970.3V1311.3H862.8ZM1108.4 1295.9H1123.8V1311.3H1108.4ZM1154.5 1295.9H1169.8V1311.3H1154.5ZM786.1 1311.3H816.8V1326.6H786.1ZM832.1 1311.3H985.6V1326.6H832.1ZM1154.5 1311.3H1185.2V1326.6H1154.5ZM1200.5 1311.3H1246.6V1326.6H1200.5ZM1261.9 1311.3H1277.3V1326.6H1261.9ZM1384.7 1311.3H1415.4V1326.6H1384.7ZM1538.2 1280.6H1568.9V1342H1538.2ZM770.7 1326.6H786.1V1342H770.7ZM816.8 1326.6H939.6V1342H816.8ZM1139.1 1326.6H1246.6V1342H1139.1ZM970.3 1326.6H1016.3V1357.3H970.3ZM801.4 1342H832.1V1357.3H801.4ZM847.5 1342H924.2V1357.3H847.5ZM1154.5 1342H1185.2V1357.3H1154.5ZM1215.9 1342H1246.6V1357.3H1215.9ZM1384.7 1342H1430.8V1357.3H1384.7ZM1492.2 1342H1568.9V1357.3H1492.2ZM724.7 1357.3H755.4V1365H724.7ZM832.1 1357.3H878.2V1365H832.1ZM893.5 1357.3H908.9V1365H893.5ZM939.6 1357.3H1016.3V1365H939.6ZM1169.8 1357.3H1246.6V1365H1169.8ZM1400.1 1357.3H1430.8V1365H1400.1ZM1461.5 1357.3H1568.9V1365H1461.5Z"/>
<path fill="#e85b48" d="M103 497.7H110.7V513.1H103ZM103 513.1H126V559.1H103ZM103 559.1H110.7V574.5H103ZM103 574.5H126V605.2H103ZM156.7 743.3H172.1V758.7H156.7ZM908.9 758.7H924.2V774H908.9ZM187.4 804.7H202.8V820.1H187.4ZM893.5 804.7H924.2V835.4H893.5ZM755.4 820.1H801.4V835.4H755.4ZM110.7 835.4H172.1V850.8H110.7ZM740 835.4H755.4V850.8H740ZM770.7 835.4H786.1V850.8H770.7ZM908.9 835.4H924.2V850.8H908.9ZM110.7 850.8H187.4V866.1H110.7ZM233.5 850.8H248.8V866.1H233.5ZM740 850.8H770.7V866.1H740ZM786.1 850.8H801.4V866.1H786.1ZM141.4 866.1H172.1V881.5H141.4ZM740 866.1H755.4V881.5H740ZM770.7 866.1H786.1V881.5H770.7ZM248.8 866.1H294.9V896.8H248.8ZM248.8 896.8H279.5V912.2H248.8ZM1093.1 942.9H1108.4V958.2H1093.1ZM1077.7 958.2H1139.1V973.6H1077.7ZM1169.8 988.9H1185.2V1004.3H1169.8ZM1062.4 973.6H1139.1V1019.6H1062.4ZM1169.8 1004.3H1215.9V1019.6H1169.8ZM908.9 1019.6H924.2V1035H908.9ZM1062.4 1019.6H1200.5V1035H1062.4ZM1154.5 1035H1169.8V1050.3H1154.5ZM939.6 1050.3H1001V1081H939.6ZM939.6 1081H985.6V1096.4H939.6ZM954.9 1096.4H970.3V1111.7H954.9ZM1169.8 1096.4H1200.5V1111.7H1169.8ZM1016.3 1111.7H1031.7V1127.1H1016.3ZM1154.5 1111.7H1200.5V1127.1H1154.5ZM908.9 1127.1H924.2V1142.4H908.9ZM1169.8 1127.1H1292.6V1142.4H1169.8ZM924.2 1142.4H939.6V1157.8H924.2ZM1246.6 1142.4H1292.6V1157.8H1246.6ZM1277.3 1157.8H1292.6V1173.1H1277.3ZM924.2 1157.8H954.9V1188.5H924.2ZM1016.3 1157.8H1047V1188.5H1016.3ZM878.2 1173.1H893.5V1188.5H878.2ZM893.5 1188.5H908.9V1203.8H893.5ZM924.2 1188.5H939.6V1203.8H924.2ZM985.6 1188.5H1047V1203.8H985.6ZM878.2 1203.8H893.5V1219.2H878.2ZM970.3 1203.8H1047V1219.2H970.3ZM1369.4 1203.8H1384.7V1219.2H1369.4ZM1415.4 1203.8H1430.8V1219.2H1415.4ZM1446.1 1203.8H1476.8V1219.2H1446.1ZM862.8 1219.2H893.5V1234.5H862.8ZM954.9 1219.2H1031.7V1234.5H954.9ZM1354 1219.2H1415.4V1234.5H1354ZM1461.5 1219.2H1492.2V1234.5H1461.5ZM847.5 1234.5H862.8V1249.9H847.5ZM878.2 1234.5H893.5V1249.9H878.2ZM970.3 1234.5H1031.7V1249.9H970.3ZM1292.6 1234.5H1384.7V1249.9H1292.6ZM1415.4 1234.5H1430.8V1249.9H1415.4ZM1461.5 1234.5H1476.8V1249.9H1461.5ZM1492.2 1234.5H1522.9V1249.9H1492.2ZM832.1 1249.9H878.2V1265.2H832.1ZM970.3 1249.9H1062.4V1265.2H970.3ZM1077.7 1249.9H1093.1V1265.2H1077.7ZM1338.7 1249.9H1384.7V1265.2H1338.7ZM1430.8 1249.9H1461.5V1265.2H1430.8ZM1277.3 1249.9H1308V1280.6H1277.3ZM1492.2 1249.9H1538.2V1280.6H1492.2ZM832.1 1265.2H862.8V1280.6H832.1ZM985.6 1265.2H1093.1V1280.6H985.6ZM1354 1265.2H1384.7V1280.6H1354ZM970.3 1280.6H1093.1V1295.9H970.3ZM1277.3 1280.6H1323.3V1295.9H1277.3ZM1354 1280.6H1369.4V1295.9H1354ZM1384.7 1280.6H1538.2V1295.9H1384.7ZM1169.8 1265.2H1185.2V1311.3H1169.8ZM970.3 1295.9H1108.4V1311.3H970.3ZM1123.8 1295.9H1154.5V1311.3H1123.8ZM1277.3 1295.9H1446.1V1311.3H1277.3ZM1461.5 1295.9H1538.2V1311.3H1461.5ZM985.6 1311.3H1154.5V1326.6H985.6ZM1246.6 1311.3H1261.9V1326.6H1246.6ZM1277.3 1311.3H1338.7V1326.6H1277.3ZM1354 1311.3H1384.7V1326.6H1354ZM1415.4 1311.3H1538.2V1342H1415.4ZM939.6 1326.6H970.3V1342H939.6ZM1016.3 1326.6H1139.1V1342H1016.3ZM1246.6 1326.6H1384.7V1342H1246.6ZM755.4 1342H801.4V1357.3H755.4ZM924.2 1342H970.3V1357.3H924.2ZM1016.3 1342H1154.5V1357.3H1016.3ZM1185.2 1342H1215.9V1357.3H1185.2ZM1246.6 1342H1292.6V1357.3H1246.6ZM1308 1342H1384.7V1357.3H1308ZM1430.8 1342H1492.2V1357.3H1430.8ZM755.4 1357.3H832.1V1365H755.4ZM878.2 1357.3H893.5V1365H878.2ZM908.9 1357.3H939.6V1365H908.9ZM1016.3 1357.3H1169.8V1365H1016.3ZM1246.6 1357.3H1277.3V1365H1246.6ZM1308 1357.3H1400.1V1365H1308ZM1430.8 1357.3H1461.5V1365H1430.8Z"/>
<path fill="#d7414e" d="M103 605.2H110.7V620.5H103ZM103 697.3H110.7V712.6H103ZM126 728H141.4V743.3H126ZM103 774H110.7V789.4H103ZM172.1 774H187.4V820.1H172.1ZM103 820.1H141.4V835.4H103ZM172.1 820.1H202.8V835.4H172.1ZM187.4 835.4H218.1V850.8H187.4ZM187.4 850.8H202.8V866.1H187.4ZM218.1 850.8H233.5V866.1H218.1ZM970.3 1096.4H985.6V1111.7H970.3ZM893.5 1203.8H908.9V1219.2H893.5ZM1415.4 1219.2H1461.5V1234.5H1415.4ZM862.8 1234.5H878.2V1249.9H862.8ZM1384.7 1234.5H1415.4V1249.9H1384.7ZM1430.8 1234.5H1461.5V1249.9H1430.8ZM1476.8 1234.5H1492.2V1249.9H1476.8ZM1308 1249.9H1338.7V1265.2H1308ZM1384.7 1249.9H1430.8V1265.2H1384.7ZM1461.5 1249.9H1492.2V1265.2H1461.5ZM1308 1265.2H1354V1280.6H1308ZM1384.7 1265.2H1492.2V1280.6H1384.7ZM1323.3 1280.6H1354V1295.9H1323.3ZM1446.1 1295.9H1461.5V1311.3H1446.1ZM1338.7 1311.3H1354V1326.6H1338.7ZM786.1 1326.6H801.4V1342H786.1ZM1292.6 1342H1308V1357.3H1292.6ZM1277.3 1357.3H1308V1365H1277.3Z"/>
<path fill="#bc2249" d="M103 620.5H110.7V635.9H103ZM103 651.2H110.7V697.3H103ZM110.7 712.6H126V743.3H110.7ZM141.4 743.3H156.7V758.7H141.4ZM103 743.3H126V774H103ZM110.7 774H156.7V789.4H110.7ZM103 789.4H110.7V804.7H103ZM126 789.4H141.4V804.7H126ZM103 804.7H141.4V820.1H103ZM141.4 820.1H172.1V835.4H141.4ZM172.1 835.4H187.4V850.8H172.1ZM202.8 850.8H218.1V866.1H202.8Z"/>
<path fill="#9e0142" d="M103 635.9H110.7V651.2H103ZM103 712.6H110.7V743.3H103ZM126 743.3H141.4V758.7H126ZM126 758.7H187.4V774H126ZM156.7 774H172.1V789.4H156.7ZM110.7 789.4H126V804.7H110.7ZM141.4 789.4H172.1V820.1H141.4Z"/></g>
<path d="M410 137.0V1365.0M717 137.0V1365.0M1024 137.0V1365.0M1331 137.0V1365.0M103.0 290.5H1638.0M103.0 444H1638.0M103.0 597.5H1638.0M103.0 751H1638.0M103.0 904.5H1638.0M103.0 1058H1638.0M103.0 1211.5H1638.0" fill="none" stroke="#b0b0b0" stroke-opacity="0.6" stroke-width="1.2" stroke-dasharray="5.1 2.2"/>
<path d="M190.5 568 176.7 571.4 158.3 565.3 130.6 554.5 119.9 536.1 118.3 520.8 103 500.8M340.9 918.3 344 904.5 356.3 872.3 396.2 871.3 396.2 861.5 367 835.4 379.3 835.4 379.3 817.9 436.1 817.9 436.1 876.9 443.8 876.9M436.1 817.9 443.8 815.5 462.2 798.6M436.1 876.9 434.6 901.4 430 921.4 406.9 942.9M430 921.4 456.1 935.8 479.1 953.6M491.4 965.9 509.8 956.7 529.7 935.2 563.5 915.2 597.3 912.2 620.9 904.8M542 1025.8 572.7 1025.8 604.9 1029.8M638.7 1071.8 628 1085.6 628 1117.9M798.4 1098.8 803 1120.9 783 1142.4M984.1 1001.2 956.5 1024.2 931.9 1067.2 947.2 1104 948.8 1137.8 1020.9 1151.6 1102.3 1174.7 1090 1226.8 1106.9 1260.6 1119.2 1328.2M753.8 1320.5 787.6 1340.4 861.3 1365M1119.2 1328.2 1030.1 1331.2 1022.5 1365M1119.2 1328.2 1162.1 1340.4 1202.1 1319 1208.2 1288.2 1242 1251.4 1300.3 1226.8 1308 1205.4M1331 1104 1309.5 1134.8 1295.7 1159.3 1288 1182.3 1308 1205.4 1332.5 1210 1344.8 1243.7 1337.1 1294.4 1367.8 1328.2 1413.9 1303.6 1438.5 1306.7 1496.8 1292.9 1549 1297.5 1587.3 1239.1M1417 1180.8 1413.9 1202.3 1390.9 1239.1 1413.9 1263.7 1413.9 1303.6M1515.2 1186.9 1501.4 1211.5 1515.2 1254.5 1496.8 1292.9M970.3 757.1 971.8 781.7 962.6 794 970.3 810.9" fill="none" stroke="#000" stroke-width="0.9" stroke-linejoin="round"/><path d="M190.5 568 179.8 591.4 172.1 619 171.2 649.7 169 671.2 173.6 689.6 185.9 714.2 190.5 729.5 207.4 755.6 216.6 771 228.9 786.3 250.4 790.9 262.6 797 273.4 807.8 290.3 803.2 314.8 798.6 333.2 792.4 351.7 792.4 363.9 797 373.2 790.9 370.1 783.2 387 771 394.6 754.1 396.2 735.6 399.3 720.3 416.1 711.1 446.8 704.9 471.4 701.3 496 703.4 506.7 708 509.8 717.2 503.6 732.6 488.3 746.4 488.3 761.7 482.1 775.6 476 801.7 468.3 797 462.2 798.6 468.3 809.3 463.7 827.8 462.2 844.6 454.5 864.6 443.8 876.9 453 882.4 468.3 882.4 480.6 876.3 505.2 880.9 532.8 876.3 563.5 874.4 581.9 878.4 600.3 891.6 612.6 896.2 620.9 904.8 615.7 926 608 953.6 609.5 984.3 603.4 999.7 598.8 1016.6 604.9 1029.8 614.2 1047.3 624.9 1059.5 638.7 1071.8 647.9 1082.6 661.7 1090.2 680.2 1094.8 695.5 1088.7 717 1078 730.8 1070.3 747.7 1071.8 769.2 1078 784.5 1090.2 798.4 1098.8 809.1 1111.7 813.7 1120.9 816.8 1101 830.6 1090.2 842.9 1076.4 852.1 1068.7 850.5 1051.9 855.1 1041.1 870.5 1028.8 876.6 1024.2 892 1027.3 896.6 1017.2 922.7 1018.1 941.1 1005.8 956.5 993.5 971.8 982.8 984.1 988.9 988.7 996.6 982.6 1002.7 964.1 1007.3 974.9 1027.3 970.3 1039.6 961.1 1058 964.1 1074.9 977.9 1087.2 991.8 1079.5 991.8 1061.1 982.6 1045.7 977.9 1028.8 990.2 1024.2 1008.6 1019.6 1017.9 1013.5 1017.9 1007.3 1014.8 996.6 1024 990.5 1030.1 999.7 1030.1 1011.9 1045.5 1011.9 1063.9 1016.6 1076.2 1030.4 1080.8 1042.7 1097.7 1042.7 1116.1 1039.6 1137.6 1039 1145.3 1047.3 1168.3 1054.9 1186.7 1054.9 1195.9 1047.3 1211.3 1039.6 1202.1 1038 1217.4 1037.1 1245 1035.9 1272.7 1035.9 1257.3 1041.1 1242 1044.2 1251.2 1053.4 1260.4 1062.6 1278.8 1062.6 1291.1 1070.3 1303.4 1078 1304.9 1097.9 1321.8 1102.5 1335.6 1111.7 1357.1 1119.4 1374 1137.8 1377 1153.2 1375.5 1162.4 1383.2 1154.7 1401.6 1167 1417 1180.8 1420 1196.1 1424.6 1182.3 1453.8 1185.4 1478.4 1182.3 1499.8 1183.9 1515.2 1186.9 1530.5 1194.6 1549 1200.8 1567.4 1214.6 1581.2 1223.8 1587.3 1239.1 1592 1229.9 1604.2 1245.3 1611.9 1272.9 1616.5 1299 1624.2 1308.2 1641.1 1312.8M103 845.2 118.3 852.3 136.8 856.9 155.2 867.7 173.6 874.4 195.1 878.4 210.4 884.5 225.8 882.4 247.3 870.7 259.6 867.7 274.9 869.2 287.2 873.8 305.6 887.6 324 904.5 340.9 918.3 360.9 933.7 382.4 938.3 403.9 942.3 419.2 949 440.7 956.7 459.1 960.7 474.5 960.4 479.1 953.6 486.8 954.5 491.4 965.9 482.1 969 496 981.2 512.8 993.5 526.7 1010.4 540.5 1024.2 542 1030.4 537.4 1045.7 542 1059.5 555.8 1064.1 565 1065.7 562 1054.9 571.2 1059.5 574.2 1070.3 588.1 1074.9 601.9 1087.2 606.5 1099.4 601.9 1104 615.7 1107.1 620.3 1101 628 1117.9 637.2 1110.8 652.5 1113.3 666.3 1116.3 678.6 1130.1 689.4 1143.3 704.7 1142.4 717 1134.8 707.8 1120.9 703.2 1111.7 720.1 1097.9 732.4 1089.6 746.2 1090.2 763 1105.6 772.3 1108.7 766.1 1117.9 775.3 1131.7 783 1142.4 796.8 1157.8 795.3 1191.5 801.4 1211.5 795.3 1237.6 804.5 1246.8 792.2 1266.8 779.9 1283.6 761.5 1288.2 755.4 1308.2 746.2 1328.2 726.2 1334.9 715.5 1342 713.9 1365M565 693.6 578.8 688.1 585 671.2 606.5 662 624.9 658.9 643.3 653.7 667.9 655.8 680.2 654.3 698.6 657.4 713.9 660.4 729.3 666.6 747.7 677.3 769.2 680.4 784.5 691.1 803 700.3 818.3 711.1 839.8 715.7 850.5 721.8 849 729.5 870.5 729.5 885.9 738.7 896.6 744.9 892 749.5 867.4 754.7 842.9 752.5 815.2 754.1 787.6 756.2 796.8 744.9 804.5 737.2 796.8 731 778.4 729.5 763 718.8 758.4 703.4 738.5 701.9 717 697.3 701.6 694.2 689.4 688.1 674 685 658.7 683.5 664.8 675.8 649.5 669.6 631 671.2 614.2 683.5 597.3 689.6 581.9 695.7ZM621.8 697.3 626.4 691.7 637.2 697.3 637.2 704.9 628 706.5ZM767 803.2 778.4 798 803 798.6 818.3 804.1 833.7 812.4 827.5 816.4 812.2 816.4 803 821 786.1 816.4 773.8 806.9ZM918.1 758.7 931.9 753.5 950.3 757.1 970.3 757.1 993.3 753.5 1008.6 757.8 1025.5 761.7 1033.2 772.5 1048.6 772.5 1036.3 778.6 1057.8 782.3 1074.7 792.4 1067 806.3 1054.7 800.1 1027.1 798.6 1019.4 805.3 1005.6 800.1 991.8 807.8 981 824.1 970.3 810.9 953.4 805.3 919.6 806.3 904.3 811.5 887.4 801.7 895.1 792.4 919.6 797 941.1 798.6 951.9 795.5 939.6 781.7 939.6 767.9 927.3 761.7ZM924.2 782.6 938 790.3 936.5 786.3ZM1107.8 801 1113 796.4 1140.7 798 1158.5 801 1152.9 810.9 1134.5 813.9 1110 813.9ZM1272.7 1055.5 1285 1050.3 1285.9 1039.6 1278.8 1035.9 1301.8 1032.5 1300.3 1053.4ZM772.3 591.4 781.5 592.9 787.6 606.7 792.2 625.1 787.6 635.9 778.4 622.1 769.2 609.8ZM749.2 545.9 769.2 548.4 781.5 544.7 766.1 543.8ZM792.2 539.2 807.6 549.9 809.1 563.7 803 569.9 801.4 557.6ZM816.8 582.1 830.6 588.3 835.2 603.6 830.6 605.2 827.5 591.4ZM847.5 608.2 861.3 622.1 856.7 623.6ZM838.3 638.9 847.5 645.1 850.5 643.5ZM861.3 638.9 875.1 658.9 872 660.4ZM890.5 665 904.3 671.2 901.2 678.9 892 683.5M927.3 676.7 939.6 678.9M910.4 715.7 930.4 711.1 931.9 721.8 919.6 722.8ZM961.1 692.7 977.9 697.3 979.5 699.4M674 772.5 683.2 771.9M502.1 735.6 509.8 734.1 505.2 741.8ZM1195.9 1028.8 1214.3 1024.2 1212.8 1030.4 1202.1 1030.4ZM1022.5 978.2 1028 983.7M1050.1 984.9 1062.4 995.1M1073.1 987.4 1079.3 995.1M1180 820.7 1181.8 819.2 1185.5 819.5 1187.3 820.8 1185.1 822.2 1181.4 821.9ZM1178.4 802.3 1180.3 801 1183.9 801.3 1185.8 802.4 1183.6 803.5 1179.9 803.3ZM1234.9 810.3 1235.8 808.7 1237.7 809 1238.6 810.4 1237.5 811.8 1235.6 811.5ZM1244.4 833 1245.5 830.8 1247.6 831.2 1248.7 833.2 1247.4 835.1 1245.3 834.7ZM1272.7 841 1274.2 838.5 1277.3 839 1278.8 841.2 1277 843.4 1273.9 842.9ZM1274.5 823.8 1275.1 821.9 1276.4 822.3 1277 823.9 1276.2 825.6 1275 825.2ZM1262.2 851.1 1262.8 849.5 1264.1 849.9 1264.7 851.2 1264 852.6 1262.7 852.3ZM1275.7 867.7 1278.8 862.1 1285 863.2 1288 868.2 1284.3 873.2 1278.2 872.1ZM1287.7 891.6 1288.9 885.5 1291.4 886.7 1292.6 892.2 1291.2 897.7 1288.7 896.5ZM1295.7 915.2 1298 909.1 1302.6 910.3 1304.9 915.9 1302.1 921.4 1297.5 920.2ZM1298.8 938.3 1300 932.7 1302.4 933.8 1303.7 938.8 1302.2 943.8 1299.7 942.7ZM1292.3 958.2 1293.2 954.5 1295.1 955.3 1296 958.6 1294.9 961.9 1293.1 961.2ZM1342.4 960.7 1343.6 957 1346 957.7 1347.3 961 1345.8 964.4 1343.3 963.6ZM1277.3 992.9 1278.3 989.8 1280.5 990.5 1281.6 993.2 1280.3 996 1278.1 995.4ZM1305.5 1019.6 1307.5 1017.8 1311.5 1018.2 1313.5 1019.8 1311.1 1021.5 1307.1 1021.1ZM1182.1 374.3 1187.3 371.2M899.3 137.6 896.8 146.5 888 154 880.4 162.9 872.8 168.4 867.8 162.9 861.5 157.8 855.2 151.5 853.9 146.5 860.2 141.4 869 137.6M872.8 168.4 869 174.2 869 184.3 862.7 191.9 853.9 203.3 845.1 212.1 841.3 222.2 840 224 842.5 213.4 850.1 200.8 845.1 193.2 840 188.1 832.4 183.6 836.2 173 829.9 170.5 832.9 162.9 827.9 157.8 840 150.3 843.8 151.5M840 150.3 832.4 154 824.8 160.4 820.3 173 824.8 185.6 817.3 180.6 810.2 172.5 800.9 184.3 812.2 188.1 822.3 198.2 829.9 203.8 824.8 210.9 814.7 213.9 803.4 218.9 817.3 222.2 827.4 226 832.4 231.1 840 232.3 843.8 243.7 848.8 256.3 853.9 263.9 856.4 274 853.9 281.6 842.5 286.6 832.4 291.7 824.8 300.5 818.5 297.2M847.6 253.8 832.4 251.3 817.3 256.3 818.5 261.4 832.4 260.1 842.5 266.4 846.3 262.6M845.1 276.5 832.4 270.2 824.8 276.5 812.2 274 807.7 277 817.3 286.6 810.2 289.1 817.3 292.2 832.4 291.7M818.5 297.2 799.6 300.5 789.5 310.6 779.4 322.5 766.8 323.2 754.1 329.5 741.5 342.2 721.3 359.8 698.6 368.7 691 377.5 677.1 397.7 672.1 417.9 675.9 444.4M677 437.9 684.5 460.6 694.6 485.9 704.7 508.6 713.6 531.3 716.1 551.5 713.6 571.7 708.5 586.9 692.1 590.7 682 586.9 674.4 574.2 664.3 561.6 656.8 551.5 654.2 541.4 644.1 531.3 636.6 518.7 641.6 508.6 631.5 511.1 634 501 636.6 485.9 631.5 474.5 618.9 460.6 603.7 445.5 593.6 441.7 583.5 444.2 568.4 453 555.8 453 550.7 448 540.6 437.9 520.4 429.8 495.2 431.6 476.2 432.8 471.2 422.7 467.4 430.3 447.2 431.6 432 441.7 421.9 444.2 424.4 449.2 416.9 456.8 425.7 464.4 432 474.5 439.6 468.2 429.5 466.9 416.9 460.6 406.8 459.3 404.2 469.4 394.1 464.4 386.6 469.4 371.4 466.2 366.4 460.6 356.3 454.3 344.9 456.8 331 454.3 310.8 450.5 290.6 451.8 270.4 459.3 252.7 469.4 230 485.9M397.9 437.9 406.8 432.8 419.4 436.6 416.9 441.7 404.2 442.9ZM344.9 454.3 351.2 450.5 356.3 455.6 351.2 459.3ZM664.3 609.6 674.4 607.6M679.5 606.6 687.1 604M692.1 601.5 699.7 597M702.7 594.4 708.5 588.1M230 485 212.5 493.3 200 501.7 190 513.3 182.5 527.5 185 546.7 190 565M255 453.3 260 451.7 263.3 456.7 268.3 458.3 258.3 463.3M171.7 522.5 183.3 527.5M178.3 536.7 187.5 565" fill="none" stroke="#000" stroke-width="2.0" stroke-linejoin="round"/>
<path d="M421.9 138.2 427 141.4 432.1 144.7 437.2 147.9 442.4 151 447.6 154.2 452.8 157.3 458.1 160.4 463.3 163.5 469 166.4 474.9 169 480.9 171.9 486.8 175.2 492.8 178.5 498.7 181.4 504.7 184.4 510.6 187.2 516.6 189.9 522.5 192.5 528.5 194.8 534.4 197.2 540.4 199.3 546.3 201.4 552.3 203.5 558.3 205.6 564.2 207.5 570.2 209.3 576.1 211.1 582.1 212.6 588 214.1 592 215.4 597.9 217.8 603.9 220.1 609.8 222.2 615.8 224.3 621.7 226.2 627.7 228 633.7 229.7 639.6 231.2 645.6 232.6 652.2 234.3 658.9 235.7 665.6 236.5 672.2 236.5 678.9 236.1 685.8 235.4 692.8 234.7 699.7 234.4 706.7 234 713.3 233.2 720 232.6 726.7 232.6 733.5 233.1 740.5 233.8 747.4 234.5 754.4 235.2 761.3 235.6 768.2 236 775.2 236 782.1 235.9 789.1 235.7 796 235.5 803 235.4 809.9 235.4 816.9 235.3 823.8 235.1 830.7 234.9 837.7 234.8 842.3 234.8 849.3 234.9 856.2 235.1 863.1 235.3 870.1 235.4 877 235.4 884 235.3 890.9 235 897.5 234.4 903.5 233.5 909.4 232.6 915.4 231.4 921.3 230.3 927.3 228.7 933.3 226.9 939.2 225 945.2 222.9 951.1 220.8 957.1 218.5 963 216.1 969 213.5 974.9 210.8 980.9 208.1 986.8 205.5 992.8 202.8 998.7 199.8 1004.7 196.8 1010.6 194.2 1016.6 191.9 1022.6 189.4 1028.9 186.8 1034.5 183.8M1075.6 161.7 1081.2 158.7 1087.7 155.3 1091.7 153.1 1096.7 149.7 1102.2 145.8 1108.1 141.7 1113.6 138.2M373.3 138.2 378 142.4 382.7 146.5 387.8 150.4 393.8 153.7 399.7 156.9 405.7 160.2 411.6 163.5 417.6 166.8 423.5 170 429.5 173.1 435.4 175.8 441.4 178.5 447.3 181.2 453.3 183.8 459.2 186.3 465.2 188.7 471.2 191.1 477.1 193.5 483.1 195.8 489 198.5 495 201.2 500.9 203.9 506.9 206.5 512.8 209.1 518.8 211.5 524.7 213.9 530.7 216.3 536.6 218.7 542.6 220.8 548.5 222.9 554.5 225 560.4 227.1 566.4 229.2 572.3 231 578.3 232.7 585.1 234.4 590 235.4 596 236.9 601.9 238.4 607.9 239.7 613.8 240.9 620.1 241.9 627 242.6 633.8 243.4 640 244.4 645.6 247.2 652 251.6 658.9 253.1 665.6 251.8 672.2 250.6 678.9 249.3 685.8 249 692.8 248.6 699.7 248.1 706.7 247.5 713.3 247.3 720 247.4 726.7 247.8 734.4 248.3M787 251 793.4 251.3 800 251.7 806.7 252.1 813.3 252.3 820 252.6 826.7 252.7 833.3 252.8 840 252.8 844.6 252.7 851.6 252.5 858.5 252.4 865.5 252.2 872.4 251.9 879.4 251.5 886.3 250.9 893.2 250.2 899.5 249.4 905.5 248.5 911.4 247.5 917.4 246.3 923.3 245.1 929.3 243.7 935.2 242.2 941.2 240.3 947.1 238.2 953.1 236.1 959 234 965 231.9 971 229.6 976.9 227.2 982.9 224.8 988.8 222.4 994.8 219.8 1000.7 216.9 1006.7 213.9 1012.6 210.9 1018.6 207.9 1024.5 205 1030.5 202 1036.4 199 1042.4 196 1048.3 193.1 1054.3 190.1 1060.2 187.1 1066.2 184.1 1072.1 181.2 1078.1 178.3 1084 175.6 1090 172.9 1093.7 170.4 1099.3 166.6 1104.8 162.5 1110.4 158.3 1115.9 154.6 1121.5 151.2 1127 147.7 1132.6 144.2 1137.9 140.6M324.7 138.2 330.5 140 336.2 141.8 340 145.5 343.5 150.3 348.7 154 353.9 157.6 359.1 161 364.3 164.4 369.8 167.7 375.7 170.6 381.7 173.6 387.6 176.9 393.6 180.2 399 183.3 404.2 186.5 409.4 189.6 415.4 192.3 421.3 194.9 427.3 197.6 433.3 200.3 439.2 203 445.2 205.7 451.1 208.3 457.1 211.3 463 214.3 469 216.9 474.9 219.2 480.9 221.7 486.8 224.4 492.8 227.1 498.7 228.9 504.7 230.7 510.6 232.6 516.6 234.7 522.5 236.8 528.5 238.9 534.4 241 540.4 242.8 546.3 244.5 552.5 246.5 558.9 248.8 565.6 251.2 572.2 252.9 578.9 254.2 585.6 254.2 590 253.5 596 254.7 601.9 255.9 607.8 257.4 613.6 259 619.2 263.2 624.4 267.9 630.6 269.4 637.2 269.4 643.9 268.6 650.6 267.6 657.2 266.4 663.9 264.9 670.6 263.2 677.2 262.4 683.9 261.5 690.6 260.7 697.2 260.1 703.9 259.7 710.6 260.4 717.2 261.2 723.9 262.2 730.6 263.1 737.2 263.9 743.9 264.7 750.6 265.6 757.2 266.4 763.9 266.9 770.6 267.4 777.5 268.1 784.4 268.8 791.4 269.4 798.3 270.1 805.3 270.6 812.2 271.1 819.2 271.3 826.1 271.5 833.1 271.5 840 271.5 844.6 271.5 851.6 271.5 858.5 271.3 865.5 270.9 872.4 270.6 879.4 270.3 885.6 269.5 891.6 268.7 897.5 267.7 903.5 266.5 909.4 265.3 915.4 263.8 921.3 262.3 927.3 260.6 933.3 258.8 939.2 256.9 945.2 254.9 951.1 252.8 957.1 250.4 963 248 969 245.4 974.9 242.8 980.9 240 986.8 237 992.8 234 998.7 231.1 1004.7 228.1 1010.6 224.9 1016.6 221.6 1022.5 218.5 1028.5 215.5 1034.4 212.5 1040.4 209.8 1046.3 207.1 1052.3 204.7 1058.3 202.3 1064.2 199.9 1070.2 197.5 1076.1 195.1 1082.1 193.1 1088 191 1091.7 189.1 1096.8 185.4M1138.4 158.3 1143.8 155.2 1149.4 151.4 1155.3 147.2 1161.1 143.9 1167.3 140.5M271.9 138.2 278.2 141.3 284.4 144.4 290.4 147.7 296.3 151 301.8 154.2 307 157.3M347.9 180.3 353.6 183.2 359 186.9 364.3 190.6 369.5 194.3 374.7 197.9 380.7 201.2 386.6 204.5 392.6 207.7 398.5 211 404.5 213.9 410.4 216 416.4 218.1 422.3 220.4 428.3 222.8 434.2 225.2 440.2 227.6 446.2 230.2 452.1 233.1 458.1 236.1 464 238.5 470 240.9 475.9 243.3 481.9 245.6 487.8 247.8 493.8 249.6 499.7 251.4 505.7 252.9 511.6 254.4 517.6 255.9 523.5 257.3 529.9 258.9 537.2 260.4 542.8 262.8 548.3 265.3 554.3 267.1 560.2 268.8 566.9 269.9 573.8 270.6 580.3 272.6 586.3 275.9 590 279.2 595 282.5 600.3 285.6 606.1 288.1 612.9 288.9 619.9 288.2 626.1 286.1 632.4 283.5 638.6 281.2 644.9 279.3 651.1 277.8 657.4 277.3 663.9 277.1 670.6 277.1 677.2 277.5 683.9 277.9 690.6 278.3 697.2 279 703.9 279.9 710.6 280.7 717.2 281.5 723.9 282.4 730.6 283.2 737.2 284 743.9 284.4 750.6 285 757.2 285.8 763.9 286.9 770.6 288.2 777.2 289.4 783.9 290.4 790.6 290.8 797.4 291.1 804.4 291.3 811.3 291.4 818.2 291.4 824.9 291.3 831.4 291.2 837.8 291 842.3 291 849.3 291 856.2 290.9 863.1 290.5 870.1 290 877 289.4 883.7 288.6 889.6 287.7 895.6 286.8 901.5 285.3 907.5 283.8 913.4 282.1 919.4 280.4 925.3 278.5 931.3 276.4 937.2 274.3 943.2 271.9 949.1 269.5 955.1 267.2 961 264.8 967 262.3 972.9 259.6 978.9 256.9 984.8 254 990.8 251 996.7 247.8 1002.7 244.5 1008.7 241.3 1014.6 238 1020.6 234.7 1026.5 231.7 1032.5 228.8 1038.4 226.2 1044.4 223.8 1050.3 221.5 1056.3 219.4 1062.2 217.4 1068.2 215.3 1074.1 213.2 1080.1 210.9 1086 208.5 1090 206.9 1095.6 202.8 1101.1 198.6 1106.7 195.1 1112.2 191.7 1117.8 188.2 1123.3 184.7 1128.9 181.9 1134.4 179.2 1141.1 176.7 1147.8 174.2 1154.4 171.7 1161.1 169.2 1167.8 166.7 1173.3 163.9 1178.9 161.1 1184.4 158.3 1190 155.6 1195.6 152.8 1201.1 150 1206.7 146.9 1212.2 143.8 1218.1 140.4M212.2 138.2 218.5 140.5 224.7 142.9 230.8 145.3 236.7 147.8 242.5 150.3 248.3 152.8 253.9 156 259.4 159.3 265 162.5 270.7 165.6 276.5 168.8 282 171.9 287.1 175.2 292.2 178.4 297.5 181.4 303.2 184 308.9 186.6 314.7 188.9 320.4 191 326.1 193.1 332.1 194.8 338 196.6 341.7 201 346.9 204.2 352.2 207.3 357.4 210.4 362.6 213.5 367.8 216.7 373 219.8 378.2 222.9 383.7 226 389.6 229 395.6 231.9 401.5 233.7 407.5 235.5 413.4 237.3 419.4 239.1 425.3 241.1 431.3 243.5 437.2 245.8 443.2 248.2 449.1 250.6 455.1 252.8 461 254.9 467 257 472.9 259.4 478.9 261.8 484.8 263.9 490.8 266 496.7 267.7 502.7 269.1 508.7 270.7 514.6 272.5 520.6 274.3 526.1 278.1 531.7 281.9 537.5 285.3 543.7 288.4 550.6 290.3 557.6 290.3 564.2 291.3 570.2 294.2 576.1 297.2 582.1 299 588 300.8 592.2 302.2 598.9 302.6 605.6 302.5 612.2 302.1 618.5 300.5 624.7 298.3 631 295.8 637.2 293.8 643.5 292.7 650 292.4 656.7 292.4 663.3 292.8 670 293.5 676.7 294.7 683.3 296.2 690 297.9 696.7 300 703.3 301.9 710 303.6 716.7 304.7 723.3 305.6 730 306.8 736.7 308.2 743.3 309.9 750 311.2 756.7 312.5 763.3 313.3 770 314 776.7 314.4 783.5 314.8 790.5 315.2 797.4 315.4 804.4 315.5 811.3 315.5 818.2 315.3 824.9 315.1 831.4 314.9 837.8 314.7 842.3 314.4 849.3 313.7 855.9 312.9 861.8 312 867.8 311.1 873.7 309.9 879.7 308.7 885.6 307.3 891.6 305.9 897.5 304.4 903.5 302.9 909.4 301.4 915.4 299.6 921.3 297.8 927.3 295.6 933.3 293.3 939.2 290.9 945.2 288.5 951.1 286.1 957.1 283.4 963 280.8 969 277.9 974.9 274.9 980.9 272 986.8 269.3 992.8 266.7 998.7 264 1004.7 261.3 1010.6 259 1016.6 256.9 1022.5 255 1028.5 253.2 1034.4 251.4 1040.3 249.7 1046.2 248M1092.8 230.4 1098.3 227.8 1103.9 225 1109.4 222.2 1115 219.4 1120.6 216.7 1126.1 213.9 1131.7 211.1 1138.3 208.6 1144.6 206.1 1150.2 203.7 1155.7 201 1161.3 197.9 1166.9 194.8 1172.4 191.7 1178 188.5 1183.5 185.4 1189.1 182.2 1194.6 178.7 1200.2 175.2 1205.7 171.8 1211.3 168.2 1216.9 164.4 1222.1 160.5 1226.9 156.6 1231.7 152.8 1237.2 148.6 1242.8 144.4 1247.8 140.7M118.5 137.8 125 138.8 131.5 139.9 138 141.1 144.6 142.8 151.1 144.4 157.8 146.5 164.2 148.6 170.2 150.7 176.1 152.8 182.1 154.3 188 155.8 194.4 157.6 201.1 159.7 207.1 162.1 213 164.5 219 166.9 224.9 169.2 230.8 171.9 236.7 175.3 241.9 178.9 246.7 182.8 252.2 185.2 257.9 187.1 263.6 188.9 269.9 190.5 276.1 192 282.2 193.7 287.9 195.5 293.6 197.3 299.3 199.6 304.8 202.2 310.4 204.7 315.7 207.6 320.9 210.8 326.1 213.9 331.3 217 336.5 220.1 340 225 344 229.8 349.9 232.7 355.9 235.8 361.8 239.1 367.8 242.4 373.7 245 379.7 247.7 385.6 249.6 391.6 251.1 397.5 252.6 403.5 254.1 409.4 255.6 415.4 257.6 421.3 259.7 427.3 262.2 433.3 264.9 439.2 267.5 445.2 269.8 451.1 272.2 456.9 274.7 462.6 277.6 467.8 281.2 473.3 283.7 478.9 286.1 484.8 288.8 490.8 291.5 496.7 293.9 502.7 296.3 508.7 298.8 514.6 301.5 520.6 304.2 526.5 306.5 532.5 308.9 538.4 310.9 544.4 312.7 550.6 314.1 557.6 314.8 564.5 315.4 571.5 315.7 578.4 316.2 585.4 316.9 590 317.4 596.7 317.8 603.3 318.1 610 318.1 616.7 317.5 623.3 316.7 630 315.4 636.5 314.4 642.8 313.9 649 315.5 655.3 317 661.3 319 667.1 321.5 673.3 323.6 679.6 324.7 683.6 325.8 689.5 328.3 695.5 330.8 701.4 333.3 707.5 335.6 713.8 337.8 720 340 726.2 340.6 732.5 341.2 738.9 341.2 745.6 340 750 342.5 756.2 342.2 762.5 341.9 768.8 341.6 775 341.2 781.2 340.9 787.5 340.6 793.8 340.3 800 340 806.2 339.4 812.5 338.8 818.8 338.1 825 337.5 831.2 336.9 837.5 336.2 843.8 335.6 850 335 856.2 334.1 862.5 333.1 868.8 332.2 875 331.2 881.2 330.3 887.5 329.2 893.8 327.9 900 326.7 906.2 325.4M909.4 325 915.4 323.2 921.3 321.4 927.3 319.8 933.3 318.4 939.2 316.8 945.2 315 951.1 313.2 957.1 311.1 963 309 969 306.7 974.9 304.4 980.9 302 986.8 299.6 992.8 297.2 998.7 294.5 1004.7 291.9 1010.6 289.2 1016.6 286.5 1022.5 283.9 1028.5 281.5 1034.4 279.2 1040.4 277.4 1046.3 275.6 1052.3 274 1058.3 272.5 1064.2 271 1070.2 269.5 1076.1 268.1 1082.1 266 1088 263.9 1091.9 262.4 1097.8 259.9 1103.3 256.9M1148.5 232.5 1153.9 229.9 1159.4 226 1165 222.2 1170.6 218.8 1176.1 215.3 1181.7 211.8 1187.2 208.3 1192.8 204.9 1198.3 201.4 1203.9 197.9 1209.4 194.4 1215 190.3 1220.6 186.1 1225.6 181.9 1230.3 177.2 1234.4 171.4 1239.7 167.2 1245.6 163.9 1251.1 161.1 1256.7 158.3 1262.2 154.9 1267.8 151.4 1273.6 147.2 1279.4 143.2 1285.3 139.4M1604.9 138.2 1608.3 144.4 1608 150.4M1620.4 196.1 1627.1 196.6 1633.5 197M103.2 172.9 110.3 171.8 116.9 170.6 123.3 170.7 129.6 171.4 135.8 172.2 142.1 172.7 148.3 173.3 154.7 173.7 161.2 174 167.8 174.3 174 175.6 180.3 176.9 186.5 178.8 192.8 181.9 198.5 183.8 204.2 185.6 210 187.8 215.7 190.6 221.4 193.5 227 196.5 232.6 199.7 238.3 202.3 244 204.6 249.7 206.9 255.5 208.8 261.2 210.6 266.9 212.4 272.6 214.2 278.4 216.1 284.1 218.1 289.8 220.1 295.6 222.2 301.1 225.7 306.7 229.2 312 232.7 317.4 236.3 322.7 239.9 328.1 243.5 333.8 246.9 340 250 343.5 253.5 348.7 257.6 353.9 261.8 359.8 263.9 365.8 266 371.7 267.9 377.7 269.6 383.7 271.5 389.6 273.6 395.6 275.7 401.4 278.6 407.1 281.7 412.7 285.2 418.4 288.6 424.3 291.9 430.3 295.1 436.2 297.5 442.2 299.9 448.1 302.5 454.1 305.2 460 308.3 465.8 312.5 471.5 315.7 477 318.5 482.6 321.3 488.1 324.1 492.1 325.7 498.3 327.9 504.6 330.1 510.8 332.1 517.1 334 523.3 335.8 529.6 337.4 535.8 339 542.1 340.3 548.3 341.2 554.6 342.2 560.8 342.6 567.1 342.8 573.3 343 579.6 342.8 585.8 342.6 592.1 342.5 598.3 342.5 604.6 342.5 610.8 342.5 617.1 342.5 623.3 342.5 629.6 342.8 635.8 343.1 642.2 343.8 648.9 345 655.2 346.7 661 349.2 666.7 351.7 671.7 355 676.7 358.3 681.7 361.7 686.7 365 692.7 367.5 698.9 369.4 705.6 370.3 712.1 370.7 718.3 370.4 724.6 370.1 730.9 369.8 737.3 369.4 743.6 369 750 368.7 754.2 368.2 760.4 367.4 766.7 366.7 772.9 366 779.2 365.4 785.4 364.8 791.7 364 797.9 363.2 804.2 362.5 810.4 361.6 816.7 360.8 822.9 359.9 829.2 359 835.4 358 841.7 357.1 847.9 356.1 854.2 355.2 860.4 354.3 866.7 353.3 872.9 352.4 879.2 351.5 885.4 350.5 891.7 349.6 897.9 348.6 904.2 347.7 910.4 346.8 916.7 345.8 923.7 344.8 930.3 343.6M981.1 328.7 987.3 327 994.3 325.5M996.9 325 1002.8 323.3 1008.7 321.6 1014.6 319.8 1020.6 318.1 1026.5 316.6 1032.5 315.1 1038.4 313.6 1044.4 312.1 1050.6 310.3 1057.2 307.8 1063.3 304.7 1069.2 301.4 1075 298.5 1080.7 295.6 1086.3 292.8 1090 291 1095.6 288.5 1101.1 286.1 1107.8 284 1114.4 282.1 1121.1 280.4 1127.8 278.8 1134.4 277.1 1140 274.7 1145.6 272.2 1152.2 270.1 1158.9 268.2 1165.6 266.5 1172.2 265.1 1178.9 263.9 1185.6 261.4 1191.9 258.9 1197.4 256.5 1203 253.9 1208.5 251.2 1214.1 248.3 1219.6 245.1 1225.2 242.1 1230.7 239.4 1236.3 236.5 1241.9 233.3 1247.1 230 1251.9 226.1 1256.7 222.2 1261.7 217.2 1266.7 212.5 1271.9 208.3 1278.2 206.9 1284.4 205.6 1290.4 206.7 1296.3 207.9 1302.5 206.2 1307.8 202.5 1311.1 197.5 1315.9 193.1 1321.5 188.9 1326.7 184.2 1331.7 179.2 1335.2 173.8 1338.8 168.5 1341.1 161.4 1344.4 156 1348.9 151.7 1353.9 147.9 1360.1 145.3 1366.7 143.6 1373.3 142.4 1379.6 142.4 1385.8 142.4 1392.1 142.4 1398.3 142.4 1405.3 142.4 1412.2 142.4 1419.2 142.2 1426.1 141.9 1432.8 141.6 1439.3 140.6 1445.6 138.2M1494.2 138.2 1498 144.8 1501.1 152.8 1495.6 157.6 1490.6 161.4 1485.6 165.3 1480.6 169.4 1475.2 174.5 1469.6 178.7 1463.3 179.6 1456.7 179.2 1449.7 181.2 1448.3 189.6 1451.1 195.8 1458.1 197.9 1466.4 195.8 1472.3 199 1474.3 206 1476.1 213.9 1478.2 222.2 1481 230.6 1485.5 237.8 1489.1 244 1491.9 249.5 1494.9 256.2 1497.6 261.8 1501.1 267.4 1506.3 274.7 1512.2 280.6 1518.2 285 1523.8 288 1529.8 290.7 1536.8 292.1 1543.7 293.8 1550.6 296.3 1557.6 299.8 1564.1 303.2 1569.7 306.4M1611.8 333.5 1616.7 338.3 1621.7 343 1626.7 347 1631.6 350.8 1636.4 354.6M103.2 197.2 109.2 197.7 115.2 198.3 121.2 198.7 127.5 199 133.8 199.2 140 198.8 146.2 198.1 153 198.4 159.9 199.1 166.4 200 172.6 201 178.9 202.1 184.8 203.9 190.8 205.7 196.9 208.1 203.2 210.9 209.3 212.7 215.3 214.1 221.3 215.5 226.8 219.1 231.9 223.9 236.9 228.9 241.8 233.3 246.5 237.5 251.4 241.4 256.5 244.6 261.6 247.8 266.9 251 272.6 254.2 278.4 257.3 283.7 260.5 288.8 263.7 293.9 267 299.4 270.3 305.1 273.7 310.8 277.1 316.8 279.8 322.7 282.4 329.1 284.3 335.6 285.8 340 286.8 346 288 351.9 289.2 357.9 291 363.8 293.1 369.8 295.4 375.7 298.4 381.7 301.4 387.6 304.4 393.6 307.3 399.5 310.5 405.5 313.8 411.2 317.1 416.4 320.5 421.6 323.9 425.2 325.8 430.7 328.3 436.3 330.8 441.9 333.3 447.4 335.8 453 338.3 458.5 340.8 464.1 343.3 469.6 345.8 475.4 348.3 481.7 350.8 487.9 353.3 494.2 355.4 500.4 357.3 506.7 359.2 512.9 361 519.2 362.9 525.4 364.6 531.7 365.8 537.9 367.1 544.2 367.8 550.4 368.2 556.7 368.7 562.9 369 569.2 369.4 575.4 369.7 581.7 369.8 587.9 370 594.2 370.6 600.4 371.6 606.7 372.5 612.9 374.1 619.2 375.6 625.4 377.4 631.7 379.6 637.9 381.8 643.8 384.2 649.5 386.7 655.2 389.3 661 392.1 666.7 395 673.3 396.7 680 398.3 686.2 398.3 692.5 398.3 698.8 398.2 705 397.9 711.2 397.6 717.5 397.1 723.8 396.5 730 395.8 736 395.1 742 394.3 748 393.6 752.1 393 758.3 392.1 764.6 391.1 770.8 390.4 777.1 389.8 783.3 389.2 789.6 388.7 795.8 388.3 802.1 387.9 808.3 387.5 814.6 387.1 820.8 386.7 827.1 386.3 833.3 385.8 840.2 385.2 846.4 384.2M892.9 375.2 899.2 374.2 905.7 372.9 912.3 371.7 918.8 370.5 925 369.6 931.2 368.6 937.5 367.7 943.8 366.8 950 365.8 956.2 365.2 962.5 364.6 968.8 364 975 363.3 981.2 362.7 987.8 361.1 994.4 359 1000.5 356.7 1006.2 354.2 1011.9 351.8 1017.6 349.6 1023.3 347.5 1030 345.4 1036.7 343.3 1043.3 341.7 1050 340 1056.2 339.4 1062.5 338.8 1068.9 338.2 1075.6 337.8M1119.2 325 1125 321.7 1131.1 318.6 1137.8 316.1 1144.4 314.4 1151.1 313.2 1158.1 313.2 1165 313.2 1171.9 313.4 1178.9 313.6 1185.8 313.6 1192.8 313.6 1199.7 314.3 1206.7 315 1213.3 313.1 1220 311.2 1226.7 309.6 1233.5 308.8 1240.5 308.4 1247.4 308.1 1254.4 307.8 1261.1 306.2 1267.8 304.2 1273.3 301 1278.9 297.9 1285.1 295.3 1291.7 294.2 1298.3 293.8 1305 295.8 1311.7 298.1 1318.3 300.6 1325 302.8 1331.7 304.9 1337.9 306.4 1342.1 308.2 1348.3 309.7 1354.2 311.8 1360.1 312.8 1366.4 311.8 1372.2 308.9 1378.4 308.1 1384.8 311.8 1390 316 1396.2 316.5 1403.2 315.6 1409.9 315.5 1415.5 318.5 1421.9 321.5 1429.6 321.9 1436.5 321.9 1442.8 322.9 1449.6 327.1 1453.3 333.3 1458.3 337.5 1463.3 341.7 1468.3 345.8 1473.3 350 1478.3 353.3 1483.3 356.7 1489.3 360.2 1495 363.6 1500 366.9 1505 370.7 1510 375.2 1515 379.3 1520 383.3 1526 386.3 1532 389.3 1538 392.3 1544 394.7 1550 396.7 1556.5 398.2 1563.1 400 1570 402.5 1576 405 1582 407.3 1588 409.3 1594 411.7 1600 414.2 1606 417.7 1611.7 421.3 1616.7 425.3 1621.7 429 1626.7 432.5 1632.3 436.2 1638 440M103.2 216 109.7 216.2 116.1 216.4 122.6 216.6 128.9 216.5 135.1 216.3 141.4 216.1 147.6 216.1 153.9 216.3 160.1 216.6 166.4 217.5 172.6 218.8 178.9 220.1 184.4 223.3 190 226.4 194.9 230.6 199.7 234.7 203.9 239.7 208.3 244.7 213.3 249.7 218.3 254.7 223.3 259.7 228.1 263.9 232.9 268.1 237.6 272.9 240.9 278.5 241.6 284.7 241.9 291 241.4 297.2 240.9 303.5 245.6 305.6 244.8 299.6 244 293.6 245.4 288.8 251.3 286.3 257.2 285.8 263.1 289.2 266.2 294.7 267.9 301.3 272 305.6 277.3 308.9 282.7 312.1 288.8 314 295.2 315.1 301.7 316.3 308.1 316.8 314.3 317.1 320.6 317.4 326.5 320 332.5 322.7 336.9 326 342.5 329.2 348.1 332.3 354.2 334.2 360.4 335.4 366.7 336.7 372.4 339.2 378.1 341.7 384 343.8 390 345.8 395.7 348.3 401.4 350.8 407 353.7 412.6 356.8 418.1 359.8 421.9 364 427.6 366.2 433.3 368.3 439.6 370.2 445.8 372.1 452.1 373.8 458.3 375 464.6 376.2 470.8 377.5 477.1 378.8 483.3 380 490 381.7 496.7 383.3 502.9 385.5 509.2 387.7 515.4 389.7 521.7 391.2 527.9 392.8 534.2 394 540.4 394.9 546.7 395.8 552.9 396.5 559.2 397.1 565.4 397.6 571.7 398 578 399.5M612.7 407.4 618.6 408.9 624.4 410.6 630.3 412.8 636.1 416.1 641.9 419.3 647.6 422.1 653.3 425 660.3 426.5 667.3 427.8 674.3 428.8 681.1 428.9 687.8 428.5 694.4 427.2 701.1 425.6 707.5 424.6 713.8 424 720 423.3 726.2 422.7 732.5 422.1 738.9 421.4 745.6 420.6 750 420 756.2 418.8 762.5 417.5 768.8 416.4 775 415.4 781.2 414.5 787.8 412.8 794.4 410.7 801.1 409.4 807.8 408.6 814.4 408.6 821.1 409 827.8 409.4 834.4 409.9 841.1 410 847.8 410 854.2 409.6 860.4 409 866.7 408.3 872.9 407.7 879.2 407.1 885.4 406.7 891.7 406.7 897.9 406.7 904.2 407.3 910.4 408.2 916.7 409.2 923.3 408.3 930 407.5 936.7 406.2 943.3 405 950 402.9 956.7 400.8 963.3 398.8 970 396.7 976.7 394.6 983.3 392.5 990 390.4 996.7 388.3 1003.3 386.2 1010 384.2 1016 382.7 1022 381.8 1028 382.3 1034 383.5 1040 385 1046 385.5 1052 385.3 1058 383.8 1064 381.3 1070 378.3 1076 375.8 1080 374.2 1086 373.2 1091.9 372 1097.8 370.6 1104 369.6 1111 369.3 1117.3 368.5 1123.3 367.5 1129.6 366.2 1135.8 367.1 1142 368.6 1148 369.4 1154.7 369.5 1161.7 369.2 1167.9 367.9 1174.2 365.6 1180 365.5 1185 370.8 1190 375.8 1196.7 378.3 1202.7 377.3 1208.8 375.8 1215 373.3 1221.2 370.8 1227.3 370 1233.3 370 1239.3 369.8 1245.3 369.5 1251.3 368.9 1257.3 369.2 1263.3 370 1269.3 371.5 1275.3 372.8 1281.3 373.8 1287.3 373.8 1293.3 373.3 1299.3 372.5 1305.3 371.9 1311.3 371.5 1317.3 371.3 1323.3 371.3 1329.6 371.3 1335 374 1340 378.3 1345.6 382.2 1352.2 382.5 1358.7 380.1 1364.7 377.8 1370.7 376.1 1376.7 374.7 1383.3 378.3 1390 382.5 1396 383.2 1402 383.8 1408 384.1 1415.3 386.4 1421.1 388.1 1427.3 389.7 1434.3 391.2 1440.7 392.3 1446.7 393.3 1452.9 395.8 1457.5 400 1461.2 405.4 1465 411.7 1469 416.2 1473.8 420.2 1480 423.3 1485 427.1 1489.3 431.7 1493.3 436.7 1497.3 441.7 1502.2 444.2 1508.3 441.3 1513.3 437.6 1519.4 438.8 1525 442.5 1529.7 446.5 1533.7 451 1537.7 455.5 1541.7 460 1546.7 464.2 1552.9 464.8 1559.2 465.4 1565 467.3 1570 471.7 1575 476.7 1580 481.7 1584.7 486.5 1588.7 491 1593.3 495.4 1598.3 499.8 1603.3 504.2 1610 508.3 1616.2 510.2 1622.3 512.2 1628.3 514.2 1634.1 518.2M103.2 228.5 109.7 229.1 116.1 229.7 122.6 230.3 128.9 230.4 135.1 230.2 141.4 230 147.6 230.2 153.9 231.2 160.1 232.3 166.2 234.8 172.1 238.1 177.8 241.5 183.1 245.1 188.3 248.8 193.5 252.1 198.7 255.2 203.9 258.3 208.8 262.5 213.6 266.7 216.5 272.5 218.8 278.6 219.7 285.1 220.6 291.7 221.1 297.9 221.6 304.2 222.7 310.2 225 315.7 227.3 321.3 231.7 325 235.2 330 238.8 335 243.3 339.2 248.3 342.9 253.3 346.7 259 350.2 264.8 353.8 270.8 356.5 277.1 358.6 283.3 360.8 289.6 362.7 295.8 364.6 302.1 366.4 308.3 367.9 314.6 369.5 320.8 370.8 327.1 372.1 333.3 373.3 339.6 373.6 345.8 374 352.1 374.6 358.3 375.8 364.6 377.1 370.7 379.8 376.7 383.3 380.7 388.3 385 392.8 390 396.1 395.6 399 402.2 401.1 408.3 404 413.3 408.5 418.3 413.9 422 417 428 420.5 434.3 422.1 440.7 422.9 447.1 423.5 453.3 424.2 459.6 424.8 465.8 425.2 472.1 425.5 478.3 425.8 484.6 426 490.8 426.2 497.1 426.3 503.3 426.3 509.6 426.3 515.8 426.4 522.1 426.5 528.3 426.7 534.6 427 540.8 427.3 547.1 427.6 553.3 428.1 559.6 428.5 565.7 429.2 571.7 430 578 430.9M612.7 436.7 618.6 438.1 624.4 439.7 630.3 441.8 636.1 444.7 641.9 447.9 647.6 451.4 653.3 455 659.2 457.9 665 460.8 672 462.3 678.7 463.5 684.7 464 691.1 462.8 697.8 460.7 704.4 458.6 711.1 456.5 717.5 455.4 723.8 454.8 730 454.2 736 453.7 742 453.2 748 452.7 752.2 451.9 758.9 450.3 765.6 449 772.2 448.6 778.9 448.3 785.6 448.3 792.2 448.2 798.9 447.8 805.6 447.4 812.2 446.9 818.7 447 824.7 448 830.7 450.3 836.7 453.3 842.7 454.3 848.9 454.9 855.6 454.4 862.2 453.8 868.9 452.5 875.6 451.1 882.2 449.4 888.9 447.8 895.6 446.1 902.2 444.3 908.9 442.2 915.6 440.7 922.2 440.3 928.9 440.1 935.6 440.6 942.2 441.2 948.9 442.5 955.6 443.5 962.2 443.9 968.9 444 975.6 443.6 982.2 443.5 988.9 443.9 995.3 445.2 1001.3 448.2 1006.7 451.4 1011.7 454.7 1017.5 458.3 1023.7 461 1029.7 461.5 1035.8 461.2 1040.6 458.9 1042.5 452.9 1044.4 447 1047 441 1050 435 1053.8 430 1059.2 428.8 1065.4 429.4 1071.7 430 1077.9 426.2 1081.7 423.3 1087.1 420.6 1093.3 422.5 1099.3 424 1105.3 425.2 1111.3 425.7 1117.3 427.2 1123.3 429.2 1129.6 432.3 1135 435.7 1140 439.2 1145 442.5 1150.8 444.2 1157.1 444.4 1163.3 443.7 1169.6 440.9 1176.7 439.1 1181.9 441.8 1185.3 447.3 1188.3 453.3 1193.3 459.2 1200 456.7 1206.2 453.9 1212.5 452.8 1218.9 452.8 1224.6 451.2 1228.3 445 1232.1 438.8 1235.8 432.9 1240.4 428.8 1246.7 427.5 1252.7 427.2 1258.8 427.8 1265 430 1271.2 432.5 1276.7 435.7 1281.7 439.2 1288.3 440 1294.6 436.2 1300.8 434.6 1307.3 434.1 1314.3 433.8 1320.8 431.4 1327.1 428.9 1333.3 428 1338.3 431.4 1343.3 434.8 1348.3 438.3 1354.6 441.5 1360.7 444.5 1366.7 447.5 1372.7 451 1378.7 454.2 1384.7 456.7 1390.8 460 1396.7 464 1401.7 468.3 1406.7 473.3 1413.3 477.5 1419.3 479 1425.7 480.5 1432.7 482 1439 483.8 1445 485.8 1451.2 489 1457.3 491.3 1463.3 493.3 1470.3 494.1 1477.3 494.7 1484.3 494.7 1491.3 495.5 1498.3 496.7 1503.3 500.4 1507.7 504.7 1511.7 509.2 1515.7 514.7 1519.7 520 1523.7 525 1528.3 529.3 1533.3 533.3 1539.3 536.3 1545.7 538.8 1552.7 540.3 1559.7 541.8 1566.7 543.3 1573.3 544.6 1580 545.8 1586.7 546.2 1593.3 546.7 1599.3 548.7 1605.3 551.2 1611.3 554.7 1616.7 558.8 1621.7 562.8 1625 565 1630.6 568.2 1636.1 571.4M103.2 245.1 109.7 244.3 116.1 243.5 122.6 242.6 129 242.1 135.5 241.7 141.9 241.4 148.3 241 154.3 242.5 160.2 243.9 165.9 246.5 171.5 249.7 177 253.2 182.6 257.1 187.8 261.7 192.8 266.7 195.9 272.9 197.7 279.4 198.9 285.9 200.2 292.4 201.8 298.6 203.4 304.9 205.7 311 208.5 317 211.3 323 213.9 326.7 217.9 331.7 222 336.7 226.2 341.7 230.6 346.7 235 351.7 239.3 356 243.6 360.2 247.4 365 251 370 254.5 375 258.1 380 261.7 385 266.7 390 271.9 394 277.6 396.2 283.3 398.3 289.6 400.2 295.8 402.1 302.1 404.2 308.3 406.7 314.6 409.2 320.8 410.2 327.1 410.5 333.3 410.8 339 413.3 344.8 415.8 349.5 419.5 353.8 423.8 357.2 429 358.7 436 358.8 442.5 360.7 447.2 367.7 448.7 374.4 450 381.1 451.2 387.2 453.9 393.1 457.2 398.3 460.7 403.3 464.3 408.6 467.4 414.3 469.5 420 471.7 422 476.5 428 478.5 434.3 479.6 440.7 480.4 447 480.8 453.1 480.8 459.3 480.8 465.3 480.8M505.6 479.4 511.7 479.2 518.1 478.5 524.5 477.7 531.1 476.9 537.8 476.1 544.4 475 551.1 473.8 557.8 473.1 564.4 472.6 570.8 472.5 577.1 472.5 583.3 472.5 589.6 472.5 595.8 472.5 602.1 472.5 608.3 472.5 614.6 472.5 621.3 472.8 628.3 473.3 633.3 476.9 638.3 480.5 643.3 484.2 648.3 487.9 653.3 491.7 659 495.2 664.8 498.8 670.5 501.7 676.2 504.2 682.2 506.1 688.7 505.5 694.7 502 700.7 498.8 706.7 495.8 713.3 495.4 720 495 726.2 495.3 732.5 495.6 738.9 496.1 745.6 496.9 750 497.5 756.2 497.5 762.5 497.5 768.8 497.4 775 497.1 781.2 496.8 787.8 496.1 794.4 495.3 801.1 493.9 807.8 492.2 814.4 490.3 821.1 488.2 827.8 486.9 834.4 486.1 841.1 485.8 847.8 485.8 854.4 486 861.1 486.3 867.3 487.1 873.3 488.3 879.3 490.8 885.6 493.1 892.2 494.7 898.9 495.7 905.6 495.3 912 495.2 918 495.7 924.4 497.2 931.1 499.3 937.8 499.2 944.4 497.9 951.1 496.7 957.8 495.4 964.4 494.4 971.1 493.6 977.8 493.9 984.4 494.7 991.1 496.1 997.8 497.8 1004.4 499.4 1011.1 501.1 1017.3 503 1023.3 505 1029.3 502.5 1035.3 500.3 1041.3 498.8 1047.3 498 1053.3 497.5 1058.3 493.8 1063.3 490 1069.6 486.9 1075.8 485.4 1080 485.8 1086.2 485.2 1092.3 483.5 1098.3 481.3 1105 483.3 1110 487.7 1115 492.5 1121.1 493.1 1127.8 491.9 1132.5 495 1136 500.3 1139 506.3 1143.3 511.3 1148.3 515.8 1153.3 511.5 1158.3 507.1 1164.2 503.3 1170.7 503.4 1176.7 504.7 1182.7 504.9 1188.8 505.4 1195 506.7 1200 511 1205 515 1210.4 517.1 1216.7 515.8 1222.9 515.8 1227.5 519.2 1231 524.3 1234 529.8 1237.8 535 1242.9 534.6 1248.3 531.4 1253.3 528.1 1258.3 524.7 1263.3 521.4 1267.9 517.3 1271.7 511.7 1274.7 505.7 1277.9 499.8 1281.7 494.2 1288.3 490 1294.6 488.8 1300.7 488.7 1306.7 489.2 1312.7 491.7 1318.7 494.3 1324.7 497.3 1330.7 499.7 1336.7 501.7 1343.3 503.8 1350 505.8 1356.7 507.5 1363.3 509.2 1370 510.8 1376.7 512.5 1383.3 514.6 1390 516.7 1396 517.2 1402 517.8 1408 518.8 1413.3 522.5 1419.3 525.5 1425.3 528.3 1431.3 530.8 1437.3 533 1443.3 535 1448.3 538.5 1453.3 542.2 1458.3 546.2 1463.3 550.5 1468.3 555 1473.3 559.5 1478.3 563.8 1480.3 567.3 1481.3 574.3 1485 579.2 1490.3 580.7 1496.3 577.7 1502.2 578.1 1508.1 580.1 1513.8 582.3 1519.4 584.5 1525 586.7 1530.7 588.8 1536.4 591 1542.3 593 1548.3 595 1552.1 601.2 1555.3 607 1558.3 612.5 1564.2 614.6 1570 616.7 1575.7 619.2 1581.4 621.7 1587.1 624.4 1592.9 627.3 1598.6 630 1604.3 632.5 1610 635 1615.7 637.9 1621.4 640.7 1627.5 643.1 1633.8 645.2M103.2 277.1 109.4 276.2 115.7 275.2 121.9 274.3 127.5 271.9 133.1 269.4 139.3 269.1 145.6 268.8 151.4 271.2 156.7 274.4 160.8 279 166.9 280.3 173.8 280 180.7 282.2 184.4 287.5 184.9 293.5 182.1 299.1 181 305.6 184.4 311.8 188.6 317 192.8 322.2 197.3 327 199.3 333 201.7 338.9 204.2 344.7 206.4 350.5 208.6 356.2 211.4 361.7 215.7 366.7 220 371.7 224.3 376 228.6 380.2 231.9 385.5 234.8 391.2 237 397.3 238 404.3 238 410.7 237.5 416.7 241.2 421.7 245 426.7 245.8 433.3 246.7 440 246 446.4 245.2 452.9 245.2 459.3 245.6 465.7 247.5 471.7 252.5 476.7 257.8 479.5 263.1 482.3 268.5 485.2 274.2 488.3 279.8 491.5 285.4 494.2 290.9 496.7 296.5 499.2 302 501.9 307.6 504.6 313.1 507.4 319.2 509.8 325.4 512 331.7 514.2 337.9 516.4 344.2 518.5 350.4 520.6 356.7 522.5 362.9 524.4 368.3 527.7 373.3 531.7 379.6 534.8 385.8 534.2 392.2 532.4 398.9 531.9 405.4 531.9 411.7 532.5 417.9 533.1 422 534.5 428 535.5 434.3 536.1 440.7 536.4 447.2 536.2 453.9 535 460.3 533.6 466.1 531.9 472.1 530.6 478.3 530 484.6 529.4 490.8 529.4 497.1 529.7 503.3 530 509.6 530.3 515.8 530.6 522.1 530.8 528.3 530.8 534.6 530.8 540.8 530.6 547.1 530.3 553.3 530 559.6 529.1 565.8 528.1 572.1 527.3 578.3 526.7 584.6 526 590.8 525.4 597.1 524.8 603.3 524.2 609.3 522.2 615 519.4 620 515 626.7 512.5 632.7 514.5 638.3 517.4 643.3 521.9 648.3 526.1 653.3 529.4 658.6 532.4 664.3 534.5 670 536.7 675.7 538.8 681.4 541 687.8 542.5 694.4 543.8 701.1 543.6 707.8 542.8 714.4 541.4 721.1 539.7 727.8 537.8 734.4 535.7 741.1 533.6 747.8 531.5 752.2 531.2 758.9 530 765.6 528.9 772.2 528.1 778.9 527.4 785.6 527.2 792.2 527.4 798.9 528.4 805.6 529.9 812.2 531.9 818.8 533.6M857 538.5 863.3 539.2 870 540 876.7 540.8 883.3 541.7 890 542.5 896.7 544.2 903.3 545.8 910 547.5 916.7 549.2 922.9 550.1 929.2 551 935.6 551.1 942.2 549.4 948.8 548.1 955 547.5 961.2 546.9 966.7 548.9 971.7 552.2 976.7 555.6 981.7 558.9 986.7 562.5 990 565 990 571.7 990 578.3 993 584.3 996.4 589.8 1000.7 594 1005 598.3 1005.5 605.3 1006.5 611.9 1008.6 617.8 1011.4 623.3 1015.6 628.3 1020.3 632.5 1026.1 635 1032.2 636.9 1038.9 637.8 1045.4 638.4 1051.7 638.8 1057.9 639.1 1064 639.5 1070 640 1076 640.5 1080 640.8 1086 642.8 1092 644.7 1098 646.2 1104 644.3 1110 640.8 1115.8 638.8 1121.7 636.7 1128.3 636.5 1135 636.3 1141.4 637 1147.9 637.8 1154.4 637.8 1161.1 637.6 1167.3 635.5 1173.3 632.5 1179.2 629.2 1174.8 623.5 1170 619.4 1165 616.1 1159.4 613.1 1153.6 610.1 1148.3 606.7 1143.3 602.9 1139 598.3 1135 593.3 1131 588.8 1126.4 585.1 1120.6 583.1 1118.6 580.9 1124.4 578.6 1130.5 577.3 1136.9 578.2 1143.3 579.2 1149.6 580.1 1155.8 581 1162.1 581.8 1168.3 582.3 1174.6 582.8 1180.8 583 1187.1 583 1193.3 583 1199.6 582.4 1205.8 581.8 1212.2 581.4 1218.9 581.6 1224.4 579.4 1225.8 573 1223.3 567 1223.8 563.9 1230 563 1236 563.4 1242.5 564.3 1244.7 569 1244.2 575 1246 581.9 1250.4 586.7 1256 588.2 1261.5 585.2 1267.8 581.9 1273.3 583.8 1278.3 588.3 1284.2 591.2 1290 594.2 1296 594.7 1301.9 594.2 1307.8 591.7 1313.9 589.6 1320.6 588.3 1327 587.7 1333 588.2 1338.9 589.7 1344.7 591.8 1350.8 591.9 1357.1 590.9 1363.3 590 1369.6 590.5 1375.8 591 1382.1 591.4 1388.3 591.7 1394.6 591.9 1401.1 591.9 1407.8 591.7 1413.9 592.8 1419.7 594.4 1425.8 596 1428.3 598.2 1423.3 601.8 1418.1 605.1 1412.5 607.9 1406.9 610.7 1406.2 614.5 1412.3 615.6 1418.3 616.7 1424.6 617.6 1430.8 618.5 1436.7 620.5 1441.7 624.4 1446.7 628.3 1453.7 629.5 1460.5 630.2 1466.9 630 1473.3 629.7 1480 630.2 1486.7 630.8 1492.4 633 1498.1 635.1 1503.8 637.3 1509.5 639.4 1515.3 641.8 1521.1 644.7 1526.9 647.6 1532.8 650.6 1538.6 653.2 1544.3 655.4 1550 657.5 1554.2 662.1 1558.3 666.7 1565 670 1572 671 1577.7 673.8 1580.8 680 1582.1 686.9 1586.7 690.6 1592.9 692.6 1599.3 694.8 1605.7 696.9 1611.9 699 1617.6 701.2 1623.3 703.3 1628.8 706.5 1634.3 709.6" fill="none" stroke="#000" stroke-width="2.2" stroke-dasharray="2.2 3.67" stroke-linejoin="round"/>
<path d="M103.5 291.9 109.4 293.6 115.4 295.3 121.4 296.9 127.4 298.6 133.3 300.3 138.9 305.8 140.7 311.8 142.5 317.7 147.2 323.2 153.5 324.5 159.7 325.8 165.7 325.9 171.3 323.5 176.9 321 180.2 321.5 179.2 327.6 178.1 333.7 179.2 340.6 183.3 346.1 187.5 351.7 189.3 357.6 191.1 363.6 193.8 369.1 197 374.4 200.2 379.7 203.3 385 206.2 390.7 209 396.4 211 402.6 212.4 409 213.6 415.4 214.4 421.5 215.3 427.6 215.8 433.8 215.8 440 214 446.2 210 451.7 205 456.7 201.2 462.9 198 468.7 195 474.2 197.5 479.8 200 485.4 203.3 490.5 208.3 494.5 213.8 498.2 219.5 501.8 225.2 505.1 230.7 507.9 236.3 510.6 242.1 513.2 248.3 515.4 254.6 517.6 260.8 519.8 267.1 522 273.3 524.2 279.6 526.7 285.8 529.2 292.1 531.6 298.3 533.8 304.6 535.9 310.6 538.1 316.4 540.1 322.8 541.9 329.4 543.6 335.4 545.6 341 547.8 346.7 550 352.9 552.5 359.2 555 365.4 557.1 371.7 558.3 377.9 559.6 384.2 560.6 390.4 561.6 396.7 562.5 403 563 409.4 563.4 415.8 563.9 420 565.8 426.2 566.8 432.5 567.7 438.8 568.6 445 569.6 451.2 570.5 457.6 571.5 464 572.4 470.5 572.9 476.9 572.7 483.3 572.5 489.4 572.3M512.8 572 519.4 572 526.3 572.2 533.3 572.5 539.8 574.3 546.2 576.1 552.6 577.9 559 579.6 565.2 580 570.8 577.5 576.5 575 582 572.5 587.5 570 593 567.5 593.3 565 598.3 561.7 603.3 558.3 609.6 557.1 615.8 555.8 622.1 554.9 628.3 554.6 634.6 554.3 640.8 555 647.1 556.2 653.3 557.5 658.3 562 661.7 565 667.5 567.9 673.3 570.8 680 571.7 686.7 572.5 692.9 570.6 699.2 568.8 705.3 567 711.3 565.5 717.8 565 724.2 564.7 730.4 564.2 736.7 563.7 743.3 563.1 750 562.5M750 565 753.8 571.2 757.7 576.7 761.7 581.7 768.3 580.8 775 580 781.1 578.1 787.2 576.1 793.3 574.2 800 575.4 806.7 576.7 812.4 579.2 818.1 581.7 824.2 582.5 830.4 582.5 836.7 582.5 842.9 583.4 849.2 584.4 855.4 585.8 861.7 588.3 867.9 590.8 873.7 593.7 879.3 596.8 884.8 599.8 890.8 602.3 897.1 604.5 903.3 606.7 909 609.5 914.8 612.4 920.4 615.2 925.9 618 931.5 620.7 937.1 623.1 942.7 625.3 948.3 627.5 952.8 632.2 957.2 636.9 961.7 641.7 967.3 644.8 972.9 647.9 978.3 651.3 983.3 655.2 988.3 659.1 993.5 662.5 999.2 665 1004.8 667.5 1010.5 669.8 1016.2 671.9 1022.2 673.9 1028.9 675.6 1035.4 677.1 1041.7 678.3 1047.9 679.6 1054.2 680.4 1060.4 681 1066.7 681.7 1073.3 682.1 1080 682.5 1084.2 683.2 1090.4 684.3 1096.7 685.3 1102.7 685.8 1108.7 686.3 1114.7 686.8 1120.4 684.8 1126 681.6 1131.7 678.3 1138.1 676.2 1144.5 674 1149.2 669.8 1152.9 664.5 1156.7 659.2 1162.7 658.8 1168.7 658.5 1174.7 658.1 1180.8 656.8 1187.1 655.1 1193.3 653.3 1199.8 653 1206.2 652.6 1212.1 654 1217.7 656.1 1223.3 658.3 1229.8 660.5 1236.2 662.6 1242.6 662.9 1249 662.1 1255.5 662.3 1261.9 664 1268.3 665.8 1274.6 667.1 1280.8 668.3 1287.1 669 1293.3 668.3 1299.6 667.7 1306.1 666.7 1312.8 665.4 1318.8 667.1 1324.4 670.2 1330 673.3 1336.2 674.3 1342.5 675.2 1348.8 676.5 1355.2 678.7 1361.7 680.8 1366.7 685.4 1371.7 690 1378.3 692.5 1384.8 692.7 1391.2 692.9 1397.5 692.7 1403.8 692.2 1410 691.7 1415 695.9 1420 700.2 1425.5 703 1431.9 703 1438.3 703 1443.7 705.9 1449.8 707.8 1455.9 709.6 1462 711.3 1468 712.8 1474 714.3 1480 715.8 1486 717.5 1492 719.1 1498 720.8 1503.8 723.4 1509.4 726.5 1515 729.7 1521.8 729.5 1528.6 729.2 1534.4 731.6 1539.6 735.4 1544.9 739.1 1550.7 741.4 1556.8 743.1 1562.8 745.2 1568.8 748.3 1574.7 751.5 1580 755.1 1585 759 1590 762.9 1595.4 766 1600.9 768.8 1606.5 771.6 1611.9 774.5 1617.1 777.6 1622.4 780.6 1623.7 786 1623 792.4 1624 798.1 1628.6 802.2 1630 805 1634.8 809.5M103.5 339.2 109.9 339.5 116.3 339.8 122.7 340.1 129.1 340.4 135.1 341.7 140.4 345.2 145.8 348.7 149 353.1 148.3 359.7 147.5 366.2 146.2 372.3 144.7 378.3 145 384.3 148.6 390.6 155.2 392 161.7 393.5 168.1 394.5 174.3 395.3 180.6 396.1 183.1 401.7 185.6 407.2 188.2 412.8 185.3 418.8 182.5 424.8 180.5 430.8 180.3 436.9 180.1 443 177.5 448.3 173.8 453.3 171.8 459.3 170.7 465.7 169.8 472 169.3 478.1 168.7 484.3 168.9 490.6 170.6 497.2 172.5 503.5 175 509.2 177.5 514.8 180.3 521 183.3 527.5 187.3 532 191 537 194 543 198.3 547.3 203.3 550.8 209.3 552.8 215.3 554.8 221.3 556.8 227.1 559.6 232.9 562.9 236.7 565 240.7 570 245 574.5 250 577.9 255 581.4 261 581.1 267.4 578.9 273.3 578.7 278.3 582.2 283.3 585.8 288.3 589.6 293.3 593.8 298.3 598.1 303.3 602.5 309.6 602.7 315.8 602.9 322.2 602.9 328.9 602.7 335.2 601.5 340.8 598.3 346.5 595.2 353 594 360 593.7 366 594.5 372 595.7 378 597.7 383.3 600.6 388.3 603.9 393.3 607.2 398.3 610.6 403.3 613.9 408.3 617.2 414 620 420 622.5 424.4 623.1 431.1 622.2 437.8 620.6 443.8 618.1 449.4 615.3 455 612.5 461.4 612.9 467.9 613.2 474.2 612.7 480.4 611.8 486.7 610.8 492.9 610 499.2 609.2 505.6 608.6 512.2 608.2 518.8 608.1 525 608.6 531.2 609 537.3 609.8 543.3 610.8 549.3 611.8 555.6 613.2 562.2 615.3 568.6 617.2 574.4 618.7 580.3 618.6 586.1 615.4 591.7 611.9 596.7 607.8 601.7 603.9 606.7 600.6 612 598.1 618.1 597.2 624.3 596.4 630.5 595.6 636.9 594.9 643.3 594.2 650.3 592.9 656.7 593.1 661.7 596.6 666.7 600 671.7 603.8 676.7 607.5 681.3 611.8 685.3 617.3 691 620.4 697.4 622.1 703.3 624.6 708.3 628.5 713.3 632.4 718.8 634.5 725 632.9 731.2 631.4 737.5 629.8 743.8 628.2 750 626.7 753.8 626.1 759.5 623.9 765.5 622.3 771.9 621.5 778.3 620.8 785 622.1 791.7 623.3 797.9 624.1 804.2 624.8 810.4 625.7 816.7 626.7 822.9 627.7 828.8 629.5 834.5 631.8 840.2 634.2 845.8 636.7 851.5 639.2 857.5 641.7 863.8 644.2 870 646.7 876.2 649.2 882.5 651.7 887.9 655.4 891.7 661.7 897.4 664.9 903.1 668.1 908.9 670.8 914.7 673.3 920.8 675.6 927.1 677.8 933.3 680 939 682.9 944.8 685.7 951 687.4 957.4 688.5 963.6 690.1 969.3 693 975 695.8 980.6 698.6 986.2 701.5 991.9 704.3 997.4 707 1003 709.8 1008.5 712.7 1014.1 715.7 1019.6 718.8 1025 722.2 1030 726.4 1035 730.8 1040 735.8 1046.7 737.9 1053.3 740 1060 741.2 1066.7 742.5 1073.3 743.3 1080 744.2 1084 744.1 1090 743.9 1096 743.8 1102.1 744.4 1108.3 746.4 1114.6 748.5 1121 748.2 1127.4 746.8 1133.2 744.2 1137.7 739.5 1142.2 734.8 1146.7 730 1151.7 725.8 1156.7 721.7 1161.7 717.5 1167.9 717.7 1174.2 717.9 1179.7 716.4 1183.8 711.8 1187.9 707.1 1192 702.4 1197.6 699.9 1204 698.5 1209.8 699.1 1214.3 703.8 1218.8 708.6 1223.3 713.3 1228.3 716.9 1233.3 720.6 1238.3 724.2 1244.8 725.2 1251.2 726.3 1257.4 726.5 1263.5 726.2 1269.6 725.9 1275.5 727.7M1301.4 741.1 1306.7 744.2 1312.3 746.7 1317.9 749.2 1323.3 752.4 1328.3 756.9 1333.6 761 1339.3 763.8 1345 766.7 1351.2 768.9 1357.5 771 1363.8 772.5 1370.2 772.5 1376.7 772.5 1381.7 777.1 1386.7 781.7 1389.5 787.7 1392.4 793.8 1397.5 795 1403.8 793.8 1410 792.5 1412.5 798.3 1415 805 1417.5 810.6 1421.7 815.8 1426.8 820.3 1432.1 823.6 1437.4 826.9 1442.5 825.8 1447.5 822.4 1452.5 819.1 1458.7 818.2 1465.5 818.5 1471.1 820.6 1474.4 826.2 1478.1 831.8 1482.2 837.2 1486.9 842 1492.5 845.4 1498.1 848.9 1503.3 852.8 1508.3 856.9 1514.4 859.7 1520.7 860.2 1526.8 860.1 1532.3 861.8 1536.8 867.3 1541.7 872.5 1547.1 876.4 1553.6 878.2 1560 880 1566.2 880.6 1572.5 881.2 1578.5 882.5 1584.1 885 1589.6 887.5 1593.6 891.3 1594.3 897.7 1595 904.2 1598.9 909.4 1602.8 914.7 1606.7 920 1613.1 920.6 1619.5 921.1 1625.8 922 1631.9 923.1 1638 924.2M103.3 1253.3 109 1249.7 114.6 1246.1 119.2 1245.7 121.7 1251.8 124.2 1258 126.4 1263.8 128.6 1269.5 131.7 1275 137.6 1277.4 144 1278.5 150.5 1279.8 156.9 1281.7 163.3 1283.7 168.8 1286.3 171.3 1289.7 167.7 1294.8 164.1 1299.9 161.9 1305.5 162.6 1311.9 163.3 1318.3 157.9 1321.2 152.5 1324.2M163.3 1318.3 168.3 1314.1 173.3 1309.8 178.3 1305.6 184.4 1304.2 187.3 1300.2 188.2 1294.3 189.2 1288.3 196.2 1287.3 197.7 1292.3 196.8 1298.2 195.8 1304.2 201.9 1306.7 208 1309.2 213.7 1311.7 219.3 1314.2 224.8 1316.7M163.3 1318.3 169.6 1320.5 175.8 1322.7 182.3 1324.3 189.3 1324.6M103.3 1345.8 107.5 1341.1 111.7 1336.4 115.8 1331.7M103.3 1351.7 105.7 1352.2 108 1352.7 110.3 1353.2 112.7 1353.7 115 1354.2M152.5 1357.5 158.3 1359.2 164.2 1360.8 169.4 1357.8 174.7 1354.7 180 1351.7 187.5 1349.2 193.1 1345.8 196.1 1348.8 199.6 1354.2 204 1359.2 208.3 1364.2M103.5 360.7 108.9 363.3 114.4 365.9 118.9 369.5 121.5 374.9 124.1 380.4 125.8 386.3 127.1 392.4 128.3 398.5 129.6 404.6 130.8 410.7 130.8 416.9 130.1 423 129.4 429.1 128.7 435.2 128 441.3 131.3 445.8 136.6 449.6 141.9 453.1 147.4 456.4 148.8 461.9 148.1 468.4 147.5 475 148.6 481.4 149.6 487.9 149.8 494.2 149.5 500.4 149.2 506.7 148.9 512.9 148.5 519.2 149.5 525 153 530 156.5 535 160 540 164.4 544.4 168.8 548.8 171.9 553.9 172.8 560.6 173.3 565 172.1 571.2 170.8 577.5 171.7 583.2 176.7 587.8 182.2 591 188.9 591.4 195.3 592.8 201.3 596.3 205.6 601.1 208.9 606.5 213.3 611.7 218.3 616.7 223.3 620.7 228.6 624 234.3 626.2 240 628.3 246.4 630.5 252.9 632.6 258.3 635.6 263.3 638.9 267.9 642.9 272.1 647.1 276.7 651.4 281.7 655.7 286.7 660 293.3 661.7 300 663.3 306.4 664.6 312.9 665.9 319.2 666.2 325.4 666 331.7 665.8 337.3 668 342.9 670.2 348.9 672.4 355.6 674.4 362.1 676.1 368.3 677.1 374.6 678 380.7 678.7 386.7 679.2 392.7 679.7 398.8 680.1 405.2 680.3 411.5 680.5 417.9 680.8 422.1 680.8 428.3 680.7 434.6 680.5 440.8 680.4 447.1 680.2 453.3 680 459.6 679.7 465.8 679.4 472.1 678.1 478.3 675 484.2 672.5 490 670 496.7 668.3 503.3 666.7 510 666.2 516.7 665.8 522.9 667.1 529.2 668.3 535.6 668.9 542.2 668.1 548.8 667.4 555 667.2 561.2 667.1 567.5 667.5 573.8 668.4 580 669.2 586.7 670.4 593.3 671.7 599.3 673.7 605.3 676 611.3 679 617.2 681.7 623.1 684.2 629.7 684 636.7 682.5 642.9 681.6 649.2 680.6 655.4 680.2 661.7 680.8 667.9 681.5 674.2 681.9 680.4 682.2 686.7 682.5 693.1 682.5 699.5 682.5 704.4 685.6 708.6 690.1 714.2 694.2 720.5 696.3 726.9 695.2 733.3 694.2 739.6 693.2 745.8 692.3 750 691.7 755.7 694.5 761.4 697.4 767.1 700.4 772.7 703.5 778.3 706.7 784.3 704.7 790.3 702.2 796.1 698.9 802.1 695.6 808.3 692.5 814.8 692.1 821.2 691.8 827 693.9 832.4 697.3 837.9 700.8 843.3 704.2 838 707.7 832.7 711.2 827.3 714.7 822 718.2 816.7 721.7 816 728.1 815.2 734.5 819 737.7 825 739.2 831.2 736 836 732 840 727.5 843.3 732.5 846.7 737.5 852.9 741.2 858.9 741.1 864.7 739 871.1 737.2 877.8 735.6 884.4 733.9 891.1 732.2 897.1 730.2 902.9 728.1 908.7 726.2 914.7 724.7 921 724.6 927.4 725.4 933.8 726.1 940.2 726.8 946.7 727.5 952.5 730.4 958.3 733.3 964 735.5 969.8 737.6 975.7 740.7 981.7 744.2 987.7 747.7 990 751.2 985 754.7 979 757 972.6 758.8 966.3 761 960.3 764 961.7 768.9 967.5 770.4 973.8 769.8 980 769.2 986.2 769.8 992.5 770.4 998.9 770.7 1005.6 770.3 1011.7 771.4 1016.7 775.6 1021.7 779.6 1026.7 783.3 1031.7 787.1 1036.7 791.1 1041.7 795.3 1046 800 1050 805M1069.4 816.3 1074.7 819.4 1080 822.5 1085.5 819.3 1090.9 816.1 1096.4 813 1101.9 811.9 1107.4 815.3 1113 818.6 1118.7 820.7 1124.7 820.2 1130.7 819.7 1136.7 819.2 1142.7 818.7 1148.5 816.8 1154 812.3 1153.1 807.5 1147.3 805.2 1140.8 804.2 1134.3 803.2 1127.8 802.4 1121.3 802.2 1114.8 801.9 1108.3 801.7 1113.3 796.7 1119.6 796 1124.5 792.4 1128.8 787.1 1133.8 783.5 1140.2 782.8 1146.7 782.2 1153.1 782.3 1159.5 782.5 1165.8 783.5 1172.1 785.1 1178.3 786.7 1183.3 790 1188.3 793.3 1193.3 796.7 1199 800.2 1204.8 803.8 1211.7 808 1217.9 805.8 1225 805 1229.3 810 1233.6 815 1237.9 819.6 1242.3 824 1246.7 828.3 1250.8 832.9 1255 837.5 1260.7 840 1266.4 842.5 1271.7 846.4 1276.7 851 1281.3 855.5 1285.8 860 1283.8 865.8 1281.7 871.7 1285.8 876.2 1290 880.8 1295 885.4 1300 890 1305.5 895.7 1311.2 899.3 1316.9 900.5 1322.4 896.9 1328 893.2 1333.5 889.8 1339.2 886.7 1344.8 883.5 1350.5 884.4 1356.2 887.3 1360.6 891.5 1362.5 898.3 1367 902.3 1372 905.7 1378 907.7 1383.8 910.2 1389.5 913.1 1395.4 914.8 1401.7 914.2 1407.9 913.5 1413.8 915.2 1419.5 918.1 1425.1 921 1430.4 924.1 1435.6 927.1 1441.3 929.3 1447.7 929.8 1454.2 930.3 1459.4 934.4 1464.7 938.4 1470 942.5 1474 948 1477.9 953.6 1481.4 959.3 1485 965 1491.4 963.2 1497.9 961.4 1503.9 964.2 1505.4 970.1 1504.6 976.5 1506 982.2 1511.4 986.4 1516.9 989.9 1522.7 992.2 1528.4 994.4 1534.2 996.7 1531.4 1002.6 1528.5 1008.5 1526.8 1014.8 1527.1 1021.5 1527.5 1028.3 1526.7 1035 1525.8 1041.7 1529.8 1046.7 1534.2 1051.7 1538.5 1056.7 1543.3 1060.8 1548.3 1064.6 1553.3 1068.3 1558.3 1072.1 1562.6 1076.5 1566.4 1081.3 1570.3 1086.2 1574.1 1091 1578.6 1095 1584.2 1097.5 1589.9 1100 1595.6 1102.5 1597.5 1107.9 1597.5 1114.6 1598.7 1120.8 1602.2 1125.7 1605.8 1130.5 1609.3 1135.4 1612.9 1140.3 1616.4 1145.1 1620 1150 1624.9 1153.9 1629.8 1157.7 1634.7 1161.6M861.1 711.4 866.9 708.1 872.1 707.6 875.8 712.9 879.6 718.2 877.8 722.7 873.3 726.7 866.7 728.3M435 905 437.5 911.2 440 917.5 445.9 915 451.9 912.5 457.4 912.1 462 916.1 466.7 920 473.1 919.6 479.5 919.3 483.1 915.1 485.2 909 488.3 903.9 493.3 900.5 498.3 897.1 503.3 893.7 508.3 890.3 506 888 500 886.3 493 887 486.2 888.2M459.4 897.2 453.3 899.2 447.1 900.4 441 902.5 435 905M545.3 891.1 547.2 890.6 549.2 890M103.3 1121.3 109 1124 114.6 1126.6 120.5 1128.9 126.9 1130.5 133.3 1132.2 139.8 1131.1 146.2 1130 152.2 1131.3 158.1 1133.8 165 1135 169.2 1130 173.5 1125 177.8 1120 183.7 1118 190.5 1117.4 197.1 1117 203.6 1117 210 1117 216.2 1116.8 222.5 1116.5 228.8 1116.4 235.2 1116.7 241.7 1117 248.1 1115.1 254.5 1113.1 261 1111.5 267.4 1110.1 273.8 1108.5 280.2 1106.6 286.7 1104.7 293.5 1104.5 300.2 1104.2 305.8 1106.6 310.8 1110.2 315.8 1113.8 320.3 1118.3 325 1123 330 1127.4 335.5 1130.1 341.9 1129.4 348.3 1128.7 354.3 1132.5 360.6 1135.6 367.1 1137 373.6 1137.8 380 1138.7 386.4 1138.2 392.9 1137.7 399.3 1137.6 405.7 1137.9 412 1138.2 418 1138.9 422 1139 428 1138.5 434 1138 440 1137.5 446 1136.5 452 1135.5 458 1134.5 462.2 1137.7 465.6 1143 468.9 1148.2 468.1 1153.7 465.4 1159.3 462.6 1164.8 458.7 1169.8 454.3 1174.5 449.8 1179.3 450.2 1184.8 453 1190.7 455.8 1196.7 462.4 1196 469 1195.4 473.3 1197.1 473.3 1203.3 473.3 1209.6 477.1 1213.1 482.9 1215.2 488.3 1217.8 493.3 1221.3 498.3 1224.7 503.8 1226.2 510.2 1224 516.7 1221.7 522.2 1218.3 527.8 1215 533.3 1211.7 537.1 1216.7 540.8 1221.7 544.5 1226.6 548.2 1231.4 551.8 1236.1 555.5 1240.9 560.7 1244.5 566.7 1247.5 572.5 1250 578.3 1252.5 584 1249.7 589.6 1246.9 595.4 1245 601.7 1244.8 607.9 1244.7 614.3 1244.4 620.7 1244 626.9 1244.9 632.5 1248.5 638.1 1252.1 644.3 1253.9 650.7 1254.8 657.1 1254.8 663.6 1253 670 1251.3 675.3 1254.8 680.6 1258.2 685.8 1261.7 691.8 1258.9 697.7 1256 703.6 1253.1 709.6 1250 715.5 1246.9 721 1248.2 726.3 1251.9 731.6 1255.5 737 1258.5 742.6 1261.3 748.1 1264.1 748.2 1263.9 742.7 1260.6 740.8 1259.5 746.2 1262.7 751.6 1266 757 1269.2 762.4 1272.4 763.8 1278.1 763.2 1285.1M666.7 1117.5 671.7 1113.4 676.7 1109.3 681.7 1105.2 687.1 1102.4 693.6 1102 700 1101.7 706.2 1102.5 712.5 1103.3 713.2 1109.8 713.9 1116.2 714.8 1122.5 715.7 1128.8 716.7 1135 711 1137.5 705.2 1140 699.2 1141.4 692.9 1142.2 689.2 1138.2 686.7 1131.7 684.8 1124.8M750 1130 743.9 1131.7 737.8 1133.3 731.7 1135M824.2 1151.7 825.9 1157.7 827.7 1163.7 829.4 1169.7 831.1 1175.6 832.8 1181.4 834.4 1187.2 836.1 1193.1 835 1199.2 832.5 1205.4 830 1211.7 828.8 1217.9 827.5 1224.2 825.1 1229.7 820.6 1233.9 816 1238.1 811.4 1242.2 806.7 1246.4 801.7 1250.6 798 1251.2 797.1 1245 796.1 1238.8 792.3 1234.3 786.9 1230.7 782.2 1226.5 778.9 1220.9 775.6 1215.4 773.8 1209.6 775 1203.3 776.2 1197.1 780.8 1194.2 787.1 1192.9 793.3 1191.7 797.1 1186.7 800.8 1181.7 804.6 1176.7 808.5 1171.7 812.4 1166.7 816.4 1161.7 820.3 1156.7 824.2 1151.7M1638 1181.7 1632.6 1184.5 1627.2 1187.3 1621.8 1190.1 1616.4 1192.9 1611 1195.7 1611.7 1200 1615.4 1205 1619.2 1210 1623.7 1213.4 1629.8 1213.8 1636 1214.1M750 1348.3 754.5 1343.8 759.1 1339.2 763.6 1334.7 768.2 1330.2 772.7 1325.6 777.3 1321.1 781.8 1316.5 785.4 1311.3M798.4 1287 801.4 1281.3 804.2 1275.5 806.7 1269.6 809.2 1263.6M103.3 460 108.3 463.9 113.3 467.8 118.3 471.7 122.8 476.2 127.3 480.7 131.8 485.2 134.8 490.5 136.9 496.2 138.8 502.2 140 508.9 141.2 515.3 142.5 521.3 143.8 527.3 145 533.3 147.5 538.8 150 544.3 152.5 549.8 151.9 555.5 149.8 561.2 148.3 565 149.8 571.4 151.2 577.9 150 583.8 147.5 589.4 145 595 141.6 600 138.2 605 134.8 610 133.9 615 138.1 620 142.2 625 146.3 629.8 150.3 634.3 154.3 638.8 158.3 643.3 153.9 647.8 149.4 652.2 145 656.7 143.2 663.1 141.4 669.5 140.4 676 139.8 682.6 139.2 689.2 133 688 131.9 681.9 130.7 675.7 129 669.9 125.9 664.6 122.9 659.4 117.5 657.5 117 664.1 116.6 670.6 116.1 677.1 115.6 683.6 115 690 118.2 696.2 122.5 701.6 126.2 707.5 129.5 713.8 132.9 720 138.7 721.7 144.5 723.5 150.2 723.8 156.1 721.5 158.2 718.6 152.8 714.5 147.9 709.5 145.9 703 147.3 697.2 150 692 155 688.1 160 684.3 165.3 681.4 171.2 680.5 177.2 679.5 182.9 681 188.6 683.7 194.2 686.4 199.8 689.1 205.7 691.1 211.7 692.7 217.7 694.3 223.7 695.9 229.7 697.6 235.7 699.2 241.7 700.8 242.9 706.7 241.7 712.7 240.4 718.8 236.8 723.6 231.9 727.7 227 731.9 222.5 730.4 218.1 726 213.7 721.7 208.8 718.4 202.9 717.3 197 716.2 190.7 715.5 184.3 714.9 178.1 715.4 172.2 717.7 166.9 721.1 162.5 726.7 159.7 733.5 160 740 161.9 746.2 166.3 751.8 172.8 752.2 179.2 752.5 183.9 756.9 188.6 761.4 193.3 765.8 196 772 196 778 196.2 784 196.7 790 197.3 796 197.8 802 200.8 807.2 205 812 207 818.5 209 825 214.3 828.7 219.7 832.3 225 836 228 841.2 233 844 239 845.5 245 847 250.8 848.5 256.7 850 263.1 848.9 269.6 847.9 275.9 849 282.1 851.1 288.3 853.3 293.3 856.9 298.3 860.6 303.3 864.2 308.9 861 314.6 857.9 320.4 855.7 326.9 855.3 333.3 855 337.9 859.6 342.4 864.1 347 868.7 349.5 874 348 881 343.6 884.6 337.8 886.6 331.9 888.5 332.2 893.6 337.6 895.4 344 894.6 349.2 891.7 353.8 887.3 359.5 884.4 364.8 884 369 888.7 373.3 893.3 377.3 898.3 382.1 902 388.3 902.9 394.6 903.9 394 907.2 390 911.7 384.2 913.8 378.3 915.8 372.5 917.9 366.7 920 372.9 922.5 379.2 925 385.2 927.6 391 930.5 396.7 933.3 401.4 937.4 406 941.5 410.5 942.6 414.6 937.9 418.6 933.2 422 929.2 428 926.7 434.3 926.5 440.7 927.6 447.2 928.9 453.9 930.6 460.3 932.5 466.1 935 472.1 936.8 478.3 937.1 484.6 937.4 491.1 936.7 497.8 935.4 503.3 932.5 508.1 928.3 512.2 923.3 517.1 919.1 523.3 916.3 530 916.5 536.7 916.7 542.5 918.3 548.3 920 553.3 923.8 557.9 927.9 562.1 932.1 566.9 935.8 572.6 938.3 578.3 940.8 584.8 939 591.2 937.3 596.7 934 601.7 930 605.4 924.2 609.2 918.3 612.7 913.3 616.3 908.3 614 904.6 608.6 901.5 603.3 898.3 599 894 594.6 889.6 590.8 884.7 588.3 878.9 585 873.6 580 869.3 575 865 568.3 862.9 561.7 860.8 555.4 860.6 549.2 860.4 542.9 860.2 536.7 860 530.7 857 525.3 853.2M508.4 846.1 502.5 847.2 496.6 848.4 490.6 849.5 484.7 850.7 478.8 851.8 472.8 853 471.1 849.2 471.5 842.9 475.4 839.4 481 837.2 486.7 835 491.7 830 491.5 824.7 488.8 819.4 486.2 814 483.5 808.6M103.3 937.5 109.3 937 115.3 936.5 121.3 936 127.3 935.5 133.3 935 139.8 933.6 146.2 932.1 151.7 934.4 156.7 938.6 161.7 942.8 167 946 172.6 948.8 178.1 951.6 184.2 951.9 190.4 950.9 196.7 950 203.3 950.2 210 950.3 216.4 952.7 222.9 955 227.8 958.9 231.9 963.5 235.6 968.9 238.9 974.7 242.2 980.6 245.6 986.4 249.2 992.5 253.3 998.6 258.8 1002.6 265.2 1003 271.7 1003.3 277.4 1000.8 283.1 998.3 288.7 995.5M313.2 983.3 318.9 980.8 325 978.6 331.3 976.5 337.5 976.2 343.8 976.9 350 977.5 356.4 978.2 362.9 978.9 368.9 981.1 374.7 984 380 987.3 385 990.7 390 994.2 394.2 999.6 398.3 1005 403.3 1010 409.2 1012.9 415.6 1014.2 420 1014.2 425.6 1017.2 431.1 1020.3 436.7 1023.3 441.7 1027.6 446.7 1031.9 451.7 1036.1 456.7 1040.3 462.8 1043.9 467 1045.5 472.9 1046.8 478.8 1048.2 484.7 1049.5 490.9 1049.8 497.3 1049.6 503.6 1049.4 510 1049.2 516.2 1048.1 522.5 1047.1 528.8 1046 535 1045 540 1040 545.5 1036.5 551.9 1036.2 558.3 1035.8 564.2 1038.8 570 1041.7 575 1045.8 581 1046 587 1046.1 593 1046.3 599.2 1046.2 605.4 1046 611.7 1045.8 616.7 1049.8 621.7 1053.7 626.7 1057.2 631.7 1060.6 637.5 1062.3 643.8 1062.8 650.2 1062.2 656.7 1061.7 660.7 1056.7 664.6 1051.2 668.3 1045 666.8 1040.3 670.8 1040.2 676.9 1041.4 683.1 1042.6 689.2 1043.8 695.4 1045 701.6 1046.2 707.6 1045.6 713.7 1044 719.8 1042.5 725.9 1041.7 732.1 1042.4 738.3 1043.1 744.5 1043.8 748.9 1048M420 710 413.3 711.7 406.7 713.3 401.7 717.8 396.3 721.5 390.2 723.4 384.1 725.4 378.1 727.9 372.4 731.4 366.7 735 365.4 740.9 364.2 746.9 362.4 748.9 359.6 743.1 356.9 737.2 352.9 733.3 346.5 733.3 340.2 733.3 333.8 733.3 327.6 734.4 321.5 736 315.5 737.6 309.4 739.2 303.3 740.8 297.4 739.9 291.5 739 285.5 738 279.6 737.1 273.6 736.1 267.8 737.1 262 739 256.2 740.8 250.5 742.7 244.7 744.6 239 744.9 233.3 742.1 227.7 739.3 222.7 741.7 218.1 746.7 215.5 752.1 216.8 758.5 218.2 764.8 219.5 771.2 222.4 777.1 226 782.9 230.2 787.9 236 791.4 241.7 795 246.2 791 250.7 787 255.2 783 260.4 780.2 266 778 271.7 775.8 278.1 777.3 284.5 778.7 290.8 779.2 297.1 779.2 303.3 779.2 307.5 784.6 311.7 790 316.7 794.5 321.9 798.6 327.6 801.8 333.3 805 339.4 808.3 343.6 813.3 348.7 817.4 354.3 821 359.8 824.6 365.5 827.7M390.7 840.2 396.7 843.3 403.3 842.1 410 840.8 412.1 834.8 414.3 828.7 416.1 822.6 417.8 816.5 419.4 810.4M420 720 426 720.2 432 720.5 438 720.8 444.4 721.9 451.1 723.6 457 726.2 462.5 729.2 468 732.2 472.4 736.2 474.5 742.3 476.7 748.3 478.2 754.6 479.8 760.8 481.9 767.3 487 767.6 493 764.4 498.7 761.3 504.2 758.3 509.7 755.3 515.2 752.5 521 750 526.7 747.5 532.7 746.2 538.7 745 544.7 743.8 550.8 742.3 557.1 740.7 563.3 739.2 567.3 733.7 570.8 728.2 573.3 722.7 575.8 717.2 578.3 711.7 583.3 706.7 589.6 703.8 595.7 704 600.2 708.5 604.4 713.3 608.6 718.3 614.2 720.2M637.8 721.5 644.2 720.8 650.4 719.6 656.7 718.3 658.3 725 655 730 651.7 735 656.7 740 662.4 742.5 668.1 745 674.2 746.5 680.4 747.4 686.7 748.3 692.9 749.9 699.2 751.5 705.2 753.6 711 756.8 716.7 760 722.9 759.7 729.2 759.4 735.4 759 741.7 758.3 747.9 757.7 752.2 756.8 758.9 754.7 765.5 752.7 771.9 751 778.3 749.2 784.6 752.9 791.1 755.6 797.8 757.6 804.2 759.6 810.4 761.5 816.7 763.3 822.9 764.9 829.2 766.5 835 769.2 840 774.2 846.7 772.5 853.3 770.8 858.3 774.6 863.3 778.3 868.3 782.1 872 779.7 875 774.2 878 768.7 881.9 763.8 887.6 760.2 893.3 756.7 899 754.5 904.8 752.4 910.7 750.3 916.7 748.3 922.7 750.3 927.8 753.3 931.1 758.3 934.3 763.6 937.1 769.3 940 775 940.8 781.7 941.7 788.3 947.9 792.1 946 795.3 940 798.3 935 803.3M420 805 421.7 799.2 423.3 793.3 425 787.5 426.7 781.7 428.1 775.2 429.5 768.8 433.9 764.7 439.7 761.8 446 760.6 452.4 760.2 458.3 761.4 463.3 765.7 468.3 770 470.8 776.2 473.3 782.5 475.6 788.6 477.2 794.4 479.4 800.6M512.5 825.8 519 824.8 525.4 824.6 531.7 825.8 537.9 827.1 538 831.5 535 837.5M451.7 957.5 457.8 958.4 463.9 959.4 470 960.3 476.7 956.7 477.9 950 479.2 943.3M971.7 812.5 965 813.8 958.3 815 953.3 818.6 948.3 822.1 945.6 827.8 947 834 950 840 955 844.2 960 848.3 965 852.1 970 855.8 973.2 860.5 972.9 866.9 972.5 873.3 977.9 877.1 983.3 880.8 989.2 882.9 995 885 993.1 891.2 987.2 895 981.7 898.8 976.7 902.8 974.5 908.7 973.8 915.5 974.6 921.8 978.3 927.1 982.1 932.4 980.8 937.7 977.1 943 973.3 948.3 976.3 954.3 980.4 958.6 986.7 959.6 992.9 960.5 998.6 959 1004 956.3 1009.4 953.6 1014.9 950.9 1020.5 948.2 1026.3 945.5 1032.1 942.8 1037.8 940.1 1042.9 936.7 1046.5 931.7 1050.2 926.7 1053.8 921.7 1056.5 915.8 1058.6 909.6 1060.8 903.3 1061.3 896.3 1062.9 889.6 1066.7 883.3 1072.4 880.5 1078.1 877.6 1081.9 875.7 1087.9 874.6 1093.9 877.3 1100 880 1105.6 883.1 1111.2 886.2 1116.4 889.8 1120.6 894.2 1124.7 898.5 1128.9 902.9 1133.8 905.8 1140.2 905.8 1146.7 905.8 1152.3 902.4 1157.9 899 1163.8 897.5 1170 900 1176.2 902.5 1182.6 903.3 1189 903.3 1194.5 905.2 1198.1 910.7 1201.8 916.3 1204.6 922.1 1205.8 928.3 1207.1 934.6 1210.7 939.3 1215.4 943.3 1220.2 947.3 1224.7 951.5 1228.6 956.1 1232.6 960.7 1236.5 965.3 1241.3 968.8 1247.7 970.2 1254.2 971.7 1257.6 976.7 1261 981.7 1264.4 986.9 1267.8 992.8 1271.4 998.3 1275.7 1003.3 1280 1008.3 1283.6 1013.3 1287.1 1018.3 1289.7 1023.9 1291.8 1029.7 1292.2 1036.1 1291.8 1042.8 1296.1 1044.7 1302.8 1044.3 1309.7 1044.8 1316.7 1045.8 1321.1 1050.6 1325.6 1055.3 1330 1060 1334.2 1064.4 1338.3 1068.8 1342.5 1073.1 1346.7 1077.5 1352.3 1074.4 1357.9 1071.2 1363.5 1070 1369.2 1072.5 1374.8 1075 1380.4 1078.1 1386 1081.6 1391.7 1085 1397.4 1087.1 1403.1 1089.3 1410 1090.8 1417.5 1091.2 1423.8 1091.9 1430 1092.5 1436.2 1093.1 1442.5 1092.3 1448.8 1090.7 1455 1089.2 1461.1 1088.1 1467.1 1087 1472.4 1089.3 1477.2 1093.3 1481.9 1097.2 1486.7 1101.2 1490 1106.2 1492.5 1111.9 1495 1117.5 1499.6 1121.5 1504.2 1125.6 1508.8 1129.6 1513.5 1133.7 1516.7 1138.8 1519.2 1144.4 1521.7 1150 1525.2 1155 1528.8 1160 1531.7 1165.3 1534.2 1170.8 1536.7 1176.3 1539 1182.1 1541.2 1188.6 1543.3 1195 1550 1198.3 1552.7 1203.8 1555.5 1209.2 1558.2 1214.7 1560.7 1220.5 1562.9 1226.9 1565 1233.3 1565.7 1239.7 1566.4 1246.1 1567 1252.4 1566.6 1258.5 1563.8 1264.1 1561 1269.6 1559.7 1275.7 1561.2 1282.7 1561.7 1289.1 1561.7 1295.2 1561.7 1301.3 1563.9 1307 1567.2 1312.6 1570.6 1318.1 1573.3 1323.8 1575.8 1329.5 1577 1335.4 1575.4 1341.7 1573.9 1347.9 1572.9 1354.3 1572.1 1360.7M750 1050 756.2 1050.6 762.5 1051.2 768.6 1052.4 774.4 1054.7 780.1 1057.1 785.9 1059.4 791.7 1061.7 797.5 1063.7 803.4 1065.8 809.3 1067.8 815.2 1069.9 821.1 1072 826.7 1072.1 831.7 1068.5 836.7 1064.8 841.7 1061.2 846.2 1057.1 850.5 1052.9 856.7 1051.7 861.7 1055.7 865.2 1060.4 865.7 1066.4 866.2 1072.5 866.8 1078.6 867.3 1084.6 867.7 1090.8 868 1097.1 868.3 1103.3 863.3 1107.1 858.3 1110.8 853.3 1114.6 848.3 1118.3 852.6 1123.3 856.8 1128.3 861.1 1133.3 858.8 1136.9 853.1 1139.9 847.5 1142.8 841.9 1145.7 838.9 1150.7 837.2 1156.9 835.6 1163 836.1 1169.1 837.8 1175.2 839.4 1181.3 843.3 1186 848.3 1190 853.3 1194 857 1198.8 857.9 1205 858.9 1211.2 854.6 1215 848 1215.7 842 1212.7 840.7 1216 841.8 1222.4 840.9 1227.9 836.1 1231.7 831.3 1235.4 826.5 1239.2 823.2 1243.7 822.7 1249.7 822.2 1255.7 821.7 1261.7 821.2 1268 820.8 1274.4 820.3 1280.8 818.3 1286.7 813.3 1290 808.3 1293.3 805 1298.9 801.7 1304.4 798.3 1310 794 1315 789.6 1320 785 1324.6 780 1328.5 775 1332.4 770 1336.4 765 1340.6 760 1344.7 755 1349.2 750 1354.2M1220 1050.8 1214 1052.8 1208 1054.8 1202 1056.8 1200.4 1061.9 1201 1068.4 1201.7 1075 1205.2 1080.7 1208.8 1086.4 1213.3 1090.8 1218.3 1094.6 1223.3 1098.3 1227.8 1092.8 1229.9 1087.2 1227.1 1081.2 1224.3 1075.3 1226.7 1070.8 1231.7 1067.1 1236.7 1063.3M1237.5 1184.2 1237.1 1177.9 1236.7 1171.7 1239.2 1165.4 1244 1162.9 1250.1 1162.1 1255.7 1163.1 1260.3 1167.2 1265 1171.4 1270 1175.7 1275 1180 1274 1187 1272.8 1193.9 1271.1 1200.6M1130 1183.3 1130.4 1189.6 1130.8 1195.8 1137.6 1196.3 1144.4 1196.8 1150.3 1199.2 1155.8 1202.5 1161.2 1205.8 1166.7 1209.2 1164.4 1215 1162.2 1220.8 1160 1226.7 1156.7 1231.7 1153.3 1236.7 1150 1241.7 1153.5 1246.7 1157 1251.7 1160.5 1256.7 1165 1255.9 1170 1252.3 1175 1248.7 1179.7 1250.4 1184.2 1254.7 1188.8 1259 1193.3 1263.3 1199 1260.5 1204.6 1257.7 1209.8 1254.5 1214.3 1250.5 1218.8 1246.5 1223.3 1242.5 1217.6 1240 1211.9 1237.5 1207.9 1233.1 1204.9 1227.7 1201.8 1222.3 1198.7 1216.9 1195.4 1211.7 1191.5 1206.7 1187.7 1201.7 1183.8 1196.7 1180 1191.7 1177.1 1186 1174.3 1180.2 1170.6 1175 1166.6 1170 1162.5 1165M1298.3 1200.8 1296.7 1194.6 1295 1188.3 1296.2 1182.1 1300.8 1179.4 1307.1 1178.4 1313.3 1177.5 1319.2 1180.4 1325 1183.3 1330 1186.7 1335 1190 1338.3 1195 1341.7 1200 1343.8 1205.8 1345.8 1211.7 1339.9 1214.5 1334 1217.3M1512.5 1179.2 1508.3 1174.7 1504.2 1170.3 1500 1165.8 1497.9 1171.9 1495.7 1178 1496 1184.2 1497.6 1190.4 1499.2 1196.7M115 509.2 117.3 514.8 119.5 520.5 121.8 526.2 124.2 532 126.7 537.9 129.2 543.8 131.7 549.7 129.8 555 125.7 560 121.7 565 116.2 566.3 109.7 565 103.3 563.8M103.3 602.1 109.1 598.9 112.4 594.6 110.8 588.1 109.2 581.7 112.6 576.1 116 570.5 119.3 568.5 122.2 573.9 125.2 579.4 128.1 584.8 131.1 590.3 134 595.7 131.1 599 125.1 601.1 119.2 603.3 116 608.9 114.6 615 113.9 621.2 113.3 627.5 114.6 633.7 114.8 639.9 114.4 645.9 113.9 652.1 112.9 658.3 112.6 664.6 112.3 670.8 111.4 677.1 109.5 683.6 107.5 690 109.6 695.9 111.7 701.7 115.3 706.7 118.8 711.6 122.2 716.6 125.6 721.6 130 725.7 135 729.2 140 733.2 144.7 737.4 149 742 153.3 746.7 158.3 751.6 164.1 753.7 170.2 754.2 176.3 754.8 181.7 757.5 186.7 761.2 191.7 765 193.7 772 193.2 778.1 193 784.2 193.6 790.3 194.2 796.3 194.8 802.4 197.7 808 201.7 813.3 203.6 819 205.5 824.8 209.4 828.9 214.4 832.2 219.5 835.6 223.6 839.8 226.1 845.6 231.8 847.8 237.4 850 243.1 852.3 249.2 854.2 255.6 856.1 262 858 268 855.6 274 854.9 280 857.5 284 862.2 288 867 292 872 296 877 296.6 883 295.8 888.8 292 894 288.2 899.2 283 902.3 277 904.3 271 906.3 265 908.3 259 910.3 254.8 907.5 251.6 902.2 248.4 896.8 245.2 891.5 243.4 886 244.5 880 245.6 874 242 870.1 236 869.5 230 870 224 870.5 218 871 212 871.5 206 871.2 200 870.6 194 869.9 188 869.2 182 868.5 176 869.7 170 871.7 165 876.7 158.3 876.2 151.7 875.8 145.9 873.9M122.7 866.5 116.9 864.8 110.3 863.2 103.3 861.7M750 841.7 752.5 835.6 755 829.5 760.2 825.8 766.7 823.3 772.9 823.6 779.2 824 785.5 824.5 791.9 825.6 798.3 826.7 794.3 831.7 789.7 836.2 783.9 840 777.9 843.1 771.7 845 765.4 846.9 759.5 845.8 753.8 843.3M780 842.5 779.3 849.3 778.6 856.1 778.6 862.4 778.9 868.5M785.8 858.3 792.7 857.7 794.2 862.1 791.8 865 787.3 860M900.8 832.5 897.3 827 894.3 821.2 892.3 814.7 895.7 811.8 901.8 810.7 908 810.3 914.5 811.3 918.3 816 920.8 822.5M1080 959.2 1075 963.8 1070 968.3 1066.2 973.3 1062.5 978.3 1061.1 984.2 1059.7 990 1059.5 996.4 1059.4 1002.7 1059.3 1009.1M1080 957.5 1085 953.1 1090.7 949.8 1096.8 946.9 1102.8 945.8 1108.8 948.3 1114.7 950.8 1120.4 953.3 1126 955.8 1131.7 958.3 1137.1 962.1 1142.5 965.8 1142.7 972 1143 978.1 1143.2 984.2 1143.3 990.3 1143.1 996.4 1142.8 1002.4 1142.6 1008.5 1144 1014 1148.5 1018.5 1153.9 1021.1 1159.7 1022.8 1165.7 1021.3 1171.7 1018.3 1177.5 1015 1183.3 1011.7 1189.3 1008.7 1195.5 1006.8 1201.9 1007.1 1208.3 1007.5 1212.5 1012.5 1207.9 1017.1 1203.3 1021.7 1198.3 1025 1193.3 1028.3 1187.6 1031.9 1181.9 1035.5M1080 1042.5 1086 1041 1092.1 1039.5 1098.3 1037.9 1104.6 1036.4 1110.7 1035.3 1116.7 1034.6 1122.7 1033.8 1128.7 1033.5 1134.8 1034.1 1140.9 1034.6M966.7 1111.7 972.5 1113.3 978.3 1115 983.3 1110.7 988.3 1106.4 991.4 1101.2 993.6 1095.5 996 1089.8 999 1084.3 1002 1078.8 1005 1073.3 1002.7 1067.4 1000.4 1061.4 998.1 1055.4 995.8 1049.5 990.8 1047.7 984.4 1047.9 978 1048.1 971.7 1048.3 966.7 1052.5 961.7 1056.7 955.2 1057 948.8 1057.4 944.7 1061.7 941.8 1067.9 940.6 1074.2 940.3 1080.4 940 1086.7 942.1 1093.1 944.3 1099.5M923.3 1188.3 922.3 1182.3 922.4 1176.2 924.5 1169.8 926.7 1163.3 929.2 1157.6 931.7 1151.9 936.5 1151.5 942.4 1153.6 948.3 1155.8 952.8 1161.3 954.7 1166.7 951.2 1171.7 947.8 1176.7M960.8 1227.5 964 1222.1 967.3 1216.8 971.2 1211.7 975.5 1206.7 980.3 1202.7 986.2 1200.8 992.2 1199 998.2 1198.8 1004.3 1199.5 1010.5 1199.4 1016.9 1197.6 1023.3 1195.8 1028.5 1199 1033.7 1202.2 1038.8 1205.3 1044 1208.5 1049.2 1211.7 1043.2 1214 1037.2 1216.3 1031.3 1218.6 1025.3 1220.9 1021.7 1225.7 1019.2 1231.7 1016.7 1237.7 1013.3 1243.1 1008.3 1247.5 1003.3 1251.9 997.7 1255.3 991.7 1258.3M836.7 1275.8 834.2 1269 834.8 1262.4 836.9 1256 840.2 1250.8 845.8 1248.3 851.5 1245.8 855 1241.3 857.5 1235.8 860 1230.3 863.1 1224.9 867.2 1219.4 872.1 1215.7 878.3 1215.4 884.6 1215.1 889.2 1211.8 893.1 1207 897 1202.3 900.8 1197.5 904.6 1202.2 908.3 1206.9 909.2 1211.4 904.5 1215.8 899.7 1220.1 894.9 1224.4 893.8 1229.9 894.5 1236 893.3 1241.1 888.3 1244.4 883.3 1247.8 879 1251.9 876 1257.7 873 1263.4 870 1269.2M1010 1273.3 1012.5 1267.7 1015 1262.1 1018.6 1257.8 1024.4 1256.1 1030.3 1254.4 1036.1 1252.8 1042.1 1251.1 1048.6 1249.3 1055 1247.5 1059.5 1252 1064 1256.5 1068.5 1261 1074 1260.8 1080 1258.3M1043.3 1164.2 1037.2 1165.6 1031.1 1166.9 1025 1168.3 1021.2 1173 1017.5 1177.7 1016.2 1182.4 1020 1187.1 1023.8 1191.8M1200.8 1141.7 1193.3 1140.8 1187.7 1143 1182.1 1145.2 1176.9 1145.1 1172.8 1140.4 1168.6 1135.6 1164.4 1130.9 1160.3 1126.2 1156.1 1121.5 1154.6 1116.6 1158.3 1111.2 1162.1 1105.9 1167.3 1103.7 1173.3 1103.1 1179.3 1102.4 1185.3 1101.7 1191.3 1101.1 1195.2 1104.9 1198.1 1111 1201 1116.9 1204.2 1122.5 1207.3 1128.1 1212.6 1129.5 1219 1128.8 1225.2 1129.3 1230.8 1132.1 1236.5 1134.9 1242.6 1136.4 1248.9 1137.2 1255.2 1138.1 1261.6 1138.9 1267.9 1139.7 1271.7 1143.8 1274.2 1149.4 1276.7 1155 1278.8 1160.7 1281 1166.4 1285.6 1170M1233.3 1140.8 1237.3 1136.3 1242.1 1132.5 1248.6 1130.2 1255 1127.8 1261.5 1128.7 1268 1129.6 1274.5 1130.5 1280.6 1132.2 1286.4 1134.3 1292.5 1137.8M1278.3 1285 1279.4 1278.9 1280.6 1272.8 1281.7 1266.7 1283.8 1261 1286 1255.2 1287.3 1249.3 1288.3 1243.3 1293.7 1240.3 1299 1237.3 1304.3 1234.3 1309.7 1231.3 1315 1228.3 1320.9 1229.4 1326.9 1230.5 1332.8 1231.6 1338.8 1232.7 1344.7 1233.8 1349.7 1231 1354.2 1226.2 1358.7 1221.5 1363.3 1217 1368.3 1213.1 1373.3 1209.3 1378.5 1207.5 1384.1 1210 1389.6 1212.5 1395.4 1213.9 1401.7 1212.9 1407.9 1212 1413.3 1209.4 1418.3 1205.9 1423.3 1202.5 1429 1205.9 1434.6 1209.4 1440.1 1210.6 1445.4 1207.2 1450.6 1203.9 1456.1 1202.7 1462.1 1205.8 1468 1209 1473.3 1212.5 1478.3 1216.2 1483.3 1220 1488.9 1223.3 1494.4 1226.7 1500 1230 1505.7 1232.5 1511.4 1235 1517.2 1237.2 1523.1 1239.3 1528.3 1243.3M1536.4 1269 1536.1 1275.1 1536.1 1281.2 1536.8 1287.5 1537.6 1293.8 1538.3 1300 1539.3 1306.2 1540.2 1312.5 1540.7 1318.9 1540.4 1325.4 1540.1 1332 1536 1335.4 1529.9 1337.3 1523.9 1339.2 1517.8 1341 1511.9 1340.6 1505.9 1339.1 1500 1337.5 1495.6 1341.9 1491.1 1346.4 1486.7 1350.8 1481.5 1356 1475.9 1359.1 1470.4 1362.1M1080 1255 1086.7 1251.7 1091.2 1256.7 1093.9 1262 1093.1 1268.1 1092.2 1274.3 1092.9 1280 1096.7 1285 1101.7 1290 1105.5 1295 1109.4 1300 1113.3 1305 1117.8 1307.5 1123.5 1305 1129.3 1302.5 1135.1 1300 1140.9 1297.5 1146.7 1295 1150.4 1300 1154.2 1305 1152.7 1312 1150.5 1318.5 1146.9 1324.1 1143.2 1329.6 1142.2 1334.8 1146.4 1339.3 1150.6 1343.7 1155 1348.1 1160 1352.5 1165 1356.9 1170 1360.6 1175 1363.9M981.7 1280 976 1278.8 971.3 1282.7 966.7 1286.7 964.5 1293.1 962.4 1299.5 965.3 1303.3 970.8 1305.8 976.3 1308.3 982.1 1310.1 988.3 1310.4 994.6 1310.7 1000.6 1312.5 1006.4 1315 1012.2 1317.5 1014.9 1322.6 1016 1329 1016.5 1335.4 1015.8 1341.7 1015.2 1347.9 1013.6 1354.3 1011.4 1360.7M755 1365 755.7 1358.6 756.4 1352.1 760 1347.1 765 1342.7M785.8 1350.2 785.8 1356.5 785.8 1362.9M1286.7 1241.7 1284.9 1247.4 1283.2 1253.2 1281.5 1259 1279.8 1264.8 1278.1 1270.6 1278.5 1276.4 1279.9 1282.3 1281.3 1288.2 1282.7 1294.1 1284.2 1300 1284.2 1306.4 1284.2 1312.8 1284.2 1319.2 1278.9 1322.9 1273.5 1326.7 1268.2 1327.9 1263 1324 1257.7 1320.1 1253.5 1319.5 1251.7 1325.6 1249.8 1331.6 1247.9 1337.6 1246.1 1343.6 1244.4 1349.4 1242.8 1355.3 1241.1 1361.1M1405.8 1324.2 1400.6 1320.6 1395.3 1316.9 1390 1313.3 1389.4 1319.4 1388.9 1325.6 1388.3 1331.7 1389 1338.1 1389.8 1344.5 1393.3 1350 1398.6 1354 1404.3 1356.2 1410 1358.3M1175 1275 1172.9 1281.7 1170.8 1288.3 1172.7 1294.3 1174.6 1300.2M103.3 605 110 608 110 614 110 620 110 626 110 632 110 638 109.8 644 109.5 650 109.2 656 108.9 662 108.6 668 108.3 674 108 680 107.1 686.4 106.3 692.9 106.5 699 108.3 704.8 112.3 710.3 116.2 715.8 119.7 721.3 123.8 726.2 129.2 729.8 134.6 733.8 140 738 144.3 742.3 148.6 746.6 153.2 751.2 158 756 164 756.7 170 757.3 176 758 180.9 762.5 185.8 767 188.8 772 188.3 778 188 784.1 188.1 790.4 188.2 796.6 188.3 802.9 189.2 809.2 190.4 815.4 191.7 821.7 195.8 826.2 199.9 830.8 204 835.3 208.6 839 214.3 841.2 220 843.3 221.4 849.7 222.8 856.2 219.4 860.8 213.6 864.5 207 865.2 200 864.2 194 861.7 188.3 858.6M154.5 838.6 148.8 836.4 142.9 834.5 136.4 833.1 130 831.7 123.8 831.3 117.7 830.9 111.5 830.5 105.4 830.1M965 1104.2 968.5 1098.9 972 1093.7 975.5 1088.4 977.8 1090.7 979.4 1096.9 981.1 1103 977.5 1104.8 971.2 1104.5 965 1104.2M1318.3 1242.5 1312 1245.9 1307.9 1251.2 1303.9 1256.6 1304.4 1262.1 1307.2 1267.7 1310 1273.3 1315 1277.1 1320 1280.8 1322.6 1285 1326.5 1290 1330.4 1295 1336 1296 1342.4 1294.9 1348.3 1292.8 1351.7 1288 1351.7 1282M1410 1233.3 1403.8 1234.3 1397.5 1235.2 1391.7 1236.9 1386.7 1240.3 1385 1243.9 1390 1247.9 1395 1252 1401.1 1254.4 1407.8 1256.1M1421.7 1233.3 1419.8 1240.2 1416.6 1245.6 1412.7 1250.4 1408.8 1255.1 1403.9 1254.5 1398.6 1251.3 1393.2 1248.1 1387.9 1244.9 1382.5 1241.7 1387.9 1238.8 1393.2 1236 1399 1233.8 1405.1 1232 1411.2 1230.2 1417.3 1228.5 1423.3 1226.7 1429.8 1226 1436.2 1225.2 1442.5 1225.1 1448.8 1225.2 1455 1225.3 1457.1 1231.8 1459.2 1238.3M1445.8 1272.5 1451.3 1270 1456.5 1266.7 1460.8 1261.7 1465.2 1256.7 1468.1 1250.8 1470.1 1244.6 1474.6 1241.2 1480.4 1239.3 1485.8 1239.3 1490.8 1243.3 1491.2 1250 1491.7 1256.7 1496.7 1261.7 1501.1 1266.7M1482.9 1279.4 1477 1280.5 1470.7 1279.6 1464.3 1277.9 1458 1276.1 1451.9 1274.3 1445.8 1272.5M1410.8 1272.5 1415 1267.8 1419.2 1263.1 1423.3 1258.3 1427.6 1262.6 1431.8 1266.8 1436.1 1271.1 1434.4 1275.3 1429.6 1279.4 1424.9 1283.6 1420.2 1281.9 1415.5 1277.2 1410.8 1272.5M1281.7 1365 1284.2 1359.4 1286.7 1353.8 1290.3 1349.2 1296.1 1346.7 1301.2 1346.7 1305 1351.7 1305 1358.3 1305 1365M1438.3 1303.3 1444 1299.8 1449.8 1296.2 1455 1298.3 1460 1303.3 1456.5 1309.3 1452.4 1312.2 1447.1 1308.9 1441.9 1305.6M103.3 620 109 622 109 628 109 634 109 640 109 646 109 652 109 658 109 664 109 670 109 676 108.3 682.1 106.1 688.6 104 695 105.2 701.6 107.2 707.7 110.7 712.7 114.2 717.8 117.7 723.3 121.8 728.2 127.2 731.8 132.6 735.8 138 740 142.3 744.7 146.6 749.4 151.6 753.8 157 758 163 758.7 169 759.3 175 760 179.8 764.8 181.7 771 179.7 777.6 178.2 784 177.7 790.2 177.2 796.3 176.8 802.5 176.3 808.6 175.9 814.7 175.4 820.9 175 827 169.6 831.1 163.3 831.6 157 832 151 829.5 145 827 140.3 823.1 135.6 819.3 130 818.5 124 819.2 118 820 111.7 818.7 105.4 817.4M120.6 763.3 133.9 751.1 148.3 764.4 133.9 776.7ZM148.3 773.3 181.7 765.6 168.3 782.2 171.7 824.4 161.7 830 145 813.3 152.8 795.6 159.4 777.8ZM160.6 812.2 163.9 804.4 166.1 812.2 163.4 817.8ZM201.7 857.8 210.6 852.2 216.1 858.9 206.1 862.2ZM176.1 841.1 182.8 838.9 183.9 843.3 178.3 846.7ZM117.2 811.1 119.4 811.1 119.4 813.3 117.2 813.3ZM103.9 797.8 123.9 782.2 108.3 773.3M103.9 737.8 115 748.9 103.9 760M619.2 737.5 625 739.2 628.3 737.5M163 351.5 166 350 169.5 351 167 353.5 163.5 353.2Z" fill="none" stroke="#000" stroke-width="2.2" stroke-linejoin="round" stroke-linecap="square"/>
<text transform="translate(328.9 167.2) rotate(30)" y="7.2" font-size="20" text-anchor="middle" letter-spacing="0.7">-18</text>
<text transform="translate(763.6 249.3) rotate(3)" y="7.2" font-size="20" text-anchor="middle" letter-spacing="0.7">-22</text>
<text transform="translate(1055.3 172.9) rotate(-30)" y="7.2" font-size="20" text-anchor="middle" letter-spacing="0.7">-24</text>
<text transform="translate(1070.6 241) rotate(-25)" y="7.2" font-size="20" text-anchor="middle" letter-spacing="0.7">-16</text>
<text transform="translate(1117.1 169.4) rotate(-35)" y="7.2" font-size="20" text-anchor="middle" letter-spacing="0.7">-20</text>
<text transform="translate(1126.8 242.4) rotate(-27)" y="7.2" font-size="20" text-anchor="middle" letter-spacing="0.7">-14</text>
<text transform="translate(1606.9 176.4) rotate(-80)" y="7.2" font-size="20" text-anchor="middle" letter-spacing="0.7">-14</text>
<text transform="translate(1593.8 317.4) rotate(25)" y="7.2" font-size="20" text-anchor="middle" letter-spacing="0.7">-12</text>
<text transform="translate(957.5 335.8) rotate(-15)" y="7.2" font-size="20" text-anchor="middle" letter-spacing="0.7">-12</text>
<text transform="translate(870 377.5) rotate(-8)" y="7.2" font-size="20" text-anchor="middle" letter-spacing="0.7">-10</text>
<text transform="translate(595 403.3) rotate(8)" y="7.2" font-size="20" text-anchor="middle" letter-spacing="0.7">-8</text>
<text transform="translate(595 432.5) rotate(8)" y="7.2" font-size="20" text-anchor="middle" letter-spacing="0.7">-6</text>
<text transform="translate(487.5 479.2) rotate(0)" y="7.2" font-size="20" text-anchor="middle" letter-spacing="0.7">-4</text>
<text transform="translate(840 535) rotate(5)" y="7.2" font-size="20" text-anchor="middle" letter-spacing="0.7">-2</text>
<text transform="translate(501.7 570.8) rotate(0)" y="7.2" font-size="20" text-anchor="middle" letter-spacing="0.7">0</text>
<text transform="translate(644 610) rotate(160)" y="7.2" font-size="20" text-anchor="middle" letter-spacing="0.7">2</text>
<text transform="translate(1256.7 630) rotate(-10)" y="7.2" font-size="20" text-anchor="middle" letter-spacing="0.7">0</text>
<text transform="translate(1290.8 734.2) rotate(20)" y="7.2" font-size="20" text-anchor="middle" letter-spacing="0.7">2</text>
<text transform="translate(626.7 720) rotate(0)" y="7.2" font-size="20" text-anchor="middle" letter-spacing="0.7">6</text>
<text transform="translate(104 489) rotate(0)" y="7.2" font-size="20" text-anchor="middle" letter-spacing="0.7">8</text>
<text transform="translate(134.2 868.3) rotate(10)" y="7.2" font-size="20" text-anchor="middle" letter-spacing="0.7">8</text>
<text transform="translate(171.7 842.5) rotate(35)" y="7.2" font-size="20" text-anchor="middle" letter-spacing="0.7">10</text>
<text transform="translate(149.4 782.2) rotate(60)" y="7.2" font-size="20" text-anchor="middle" letter-spacing="0.7">12</text>
<text transform="translate(120.6 767.8) rotate(60)" y="7.2" font-size="20" text-anchor="middle" letter-spacing="0.7">14</text>
<text transform="translate(119 741) rotate(55)" y="7.2" font-size="20" text-anchor="middle" letter-spacing="0.7">14</text>
<text transform="translate(519.2 842.5) rotate(0)" y="7.2" font-size="20" text-anchor="middle" letter-spacing="0.7">6</text>
<text transform="translate(471.7 894.2) rotate(0)" y="7.2" font-size="20" text-anchor="middle" letter-spacing="0.7">4</text>
<text transform="translate(535 885) rotate(0)" y="7.2" font-size="20" text-anchor="middle" letter-spacing="0.7">4</text>
<text transform="translate(441.7 950) rotate(0)" y="7.2" font-size="20" text-anchor="middle" letter-spacing="0.7">6</text>
<text transform="translate(380.8 834.2) rotate(0)" y="7.2" font-size="20" text-anchor="middle" letter-spacing="0.7">6</text>
<text transform="translate(395.8 882.5) rotate(0)" y="7.2" font-size="20" text-anchor="middle" letter-spacing="0.7">4</text>
<text transform="translate(301.7 987.5) rotate(0)" y="7.2" font-size="20" text-anchor="middle" letter-spacing="0.7">6</text>
<text transform="translate(856.7 721.7) rotate(-20)" y="7.2" font-size="20" text-anchor="middle" letter-spacing="0.7">4</text>
<text transform="translate(825 800) rotate(0)" y="7.2" font-size="20" text-anchor="middle" letter-spacing="0.7">6</text>
<text transform="translate(763.3 867.5) rotate(0)" y="7.2" font-size="20" text-anchor="middle" letter-spacing="0.7">8</text>
<text transform="translate(917.5 842.5) rotate(0)" y="7.2" font-size="20" text-anchor="middle" letter-spacing="0.7">8</text>
<text transform="translate(994.2 811.7) rotate(0)" y="7.2" font-size="20" text-anchor="middle" letter-spacing="0.7">4</text>
<text transform="translate(1010 814.2) rotate(0)" y="7.2" font-size="20" text-anchor="middle" letter-spacing="0.7">6</text>
<text transform="translate(1058.3 813.3) rotate(-40)" y="7.2" font-size="20" text-anchor="middle" letter-spacing="0.7">4</text>
<text transform="translate(1044.2 1040.8) rotate(-60)" y="7.2" font-size="20" text-anchor="middle" letter-spacing="0.7">8</text>
<text transform="translate(675.8 1135.8) rotate(30)" y="7.2" font-size="20" text-anchor="middle" letter-spacing="0.7">4</text>
<text transform="translate(733.3 1151.7) rotate(-30)" y="7.2" font-size="20" text-anchor="middle" letter-spacing="0.7">4</text>
<text transform="translate(744.2 1182.5) rotate(90)" y="7.2" font-size="20" text-anchor="middle" letter-spacing="0.7">6</text>
<text transform="translate(935 1058.3) rotate(30)" y="7.2" font-size="20" text-anchor="middle" letter-spacing="0.7">6</text>
<text transform="translate(1012.5 1059.2) rotate(-30)" y="7.2" font-size="20" text-anchor="middle" letter-spacing="0.7">6</text>
<text transform="translate(930.8 1104.2) rotate(120)" y="7.2" font-size="20" text-anchor="middle" letter-spacing="0.7">6</text>
<text transform="translate(948.3 1113.3) rotate(90)" y="7.2" font-size="20" text-anchor="middle" letter-spacing="0.7">8</text>
<text transform="translate(960 1135.8) rotate(110)" y="7.2" font-size="20" text-anchor="middle" letter-spacing="0.7">6</text>
<text transform="translate(1038.3 1176.7) rotate(130)" y="7.2" font-size="20" text-anchor="middle" letter-spacing="0.7">8</text>
<text transform="translate(934.2 1195.8) rotate(60)" y="7.2" font-size="20" text-anchor="middle" letter-spacing="0.7">8</text>
<text transform="translate(978.3 1241.7) rotate(30)" y="7.2" font-size="20" text-anchor="middle" letter-spacing="0.7">8</text>
<text transform="translate(884.2 1258.3) rotate(60)" y="7.2" font-size="20" text-anchor="middle" letter-spacing="0.7">6</text>
<text transform="translate(855 1280) rotate(0)" y="7.2" font-size="20" text-anchor="middle" letter-spacing="0.7">8</text>
<text transform="translate(994.2 1288.3) rotate(60)" y="7.2" font-size="20" text-anchor="middle" letter-spacing="0.7">8</text>
<text transform="translate(792.5 1296.7) rotate(-30)" y="7.2" font-size="20" text-anchor="middle" letter-spacing="0.7">4</text>
<text transform="translate(779.2 1340) rotate(90)" y="7.2" font-size="20" text-anchor="middle" letter-spacing="0.7">8</text>
<text transform="translate(840 1342.5) rotate(0)" y="7.2" font-size="20" text-anchor="middle" letter-spacing="0.7">6</text>
<text transform="translate(956.7 1333.3) rotate(60)" y="7.2" font-size="20" text-anchor="middle" letter-spacing="0.7">8</text>
<text transform="translate(916.7 1354.2) rotate(0)" y="7.2" font-size="20" text-anchor="middle" letter-spacing="0.7">8</text>
<text transform="translate(1219.2 1148.3) rotate(0)" y="7.2" font-size="20" text-anchor="middle" letter-spacing="0.7">8</text>
<text transform="translate(1298.3 1155) rotate(60)" y="7.2" font-size="20" text-anchor="middle" letter-spacing="0.7">8</text>
<text transform="translate(1145.8 1176.7) rotate(0)" y="7.2" font-size="20" text-anchor="middle" letter-spacing="0.7">6</text>
<text transform="translate(1255 1189.2) rotate(0)" y="7.2" font-size="20" text-anchor="middle" letter-spacing="0.7">6</text>
<text transform="translate(1315.8 1210) rotate(0)" y="7.2" font-size="20" text-anchor="middle" letter-spacing="0.7">6</text>
<text transform="translate(1340 1255) rotate(60)" y="7.2" font-size="20" text-anchor="middle" letter-spacing="0.7">10</text>
<text transform="translate(1204.2 1275.8) rotate(90)" y="7.2" font-size="20" text-anchor="middle" letter-spacing="0.7">6</text>
<text transform="translate(1303.3 1085) rotate(-60)" y="7.2" font-size="20" text-anchor="middle" letter-spacing="0.7">8</text>
<text transform="translate(1187.5 1288.3) rotate(90)" y="7.2" font-size="20" text-anchor="middle" letter-spacing="0.7">8</text>
<text transform="translate(1208.3 1347.5) rotate(0)" y="7.2" font-size="20" text-anchor="middle" letter-spacing="0.7">8</text>
<text transform="translate(1515 1198.3) rotate(30)" y="7.2" font-size="20" text-anchor="middle" letter-spacing="0.7">6</text>
<text transform="translate(1439.2 1242.5) rotate(20)" y="7.2" font-size="20" text-anchor="middle" letter-spacing="0.7">10</text>
<text transform="translate(1537.5 1257.5) rotate(-80)" y="7.2" font-size="20" text-anchor="middle" letter-spacing="0.7">8</text>
<text transform="translate(1499.2 1286.7) rotate(20)" y="7.2" font-size="20" text-anchor="middle" letter-spacing="0.7">10</text>
<text transform="translate(1425 1333.3) rotate(-50)" y="7.2" font-size="20" text-anchor="middle" letter-spacing="0.7">8</text>
<text transform="translate(133.3 1322.5) rotate(0)" y="7.2" font-size="20" text-anchor="middle" letter-spacing="0.7">2</text>
<text transform="translate(210 1322.5) rotate(0)" y="7.2" font-size="20" text-anchor="middle" letter-spacing="0.7">2</text>
<text transform="translate(133.3 1358.3) rotate(0)" y="7.2" font-size="20" text-anchor="middle" letter-spacing="0.7">2</text>
<text transform="translate(255.8 1359.2) rotate(0)" y="7.2" font-size="20" text-anchor="middle" letter-spacing="0.7">2</text>
</g>
<rect x="103.0" y="137.0" width="1535.0" height="1228.0" fill="none" stroke="#000" stroke-width="2.2"/>
<text x="870.5" y="55" font-size="29" text-anchor="middle" textLength="1172" lengthAdjust="spacingAndGlyphs">GFS — θe de saturación media 1000–200 hPa — ANOMALÍA (sombreado y contornos)</text>
<text x="870.5" y="87" font-size="29" text-anchor="middle" textLength="772" lengthAdjust="spacingAndGlyphs" xml:space="preserve">Inicialización: 20251021 00Z   •   Pronóstico: f072 (UTC)</text>
<text x="870.5" y="122" font-size="29" text-anchor="middle" textLength="443" lengthAdjust="spacingAndGlyphs">Instituto Meteorológico Nacional</text>
<text x="88.8" y="297.3" font-size="26" text-anchor="end" textLength="59.5" lengthAdjust="spacingAndGlyphs">35°N</text>
<text x="88.8" y="450.8" font-size="26" text-anchor="end" textLength="59.5" lengthAdjust="spacingAndGlyphs">30°N</text>
<text x="88.8" y="604.3" font-size="26" text-anchor="end" textLength="59.5" lengthAdjust="spacingAndGlyphs">25°N</text>
<text x="88.8" y="757.8" font-size="26" text-anchor="end" textLength="59.5" lengthAdjust="spacingAndGlyphs">20°N</text>
<text x="88.8" y="911.3" font-size="26" text-anchor="end" textLength="59.5" lengthAdjust="spacingAndGlyphs">15°N</text>
<text x="88.8" y="1064.8" font-size="26" text-anchor="end" textLength="59.5" lengthAdjust="spacingAndGlyphs">10°N</text>
<text x="88.8" y="1218.3" font-size="26" text-anchor="end" textLength="43.6" lengthAdjust="spacingAndGlyphs">5°N</text>
<text x="410" y="1396.8" font-size="26" text-anchor="middle" textLength="68" lengthAdjust="spacingAndGlyphs">90°W</text>
<text x="717" y="1396.8" font-size="26" text-anchor="middle" textLength="68" lengthAdjust="spacingAndGlyphs">80°W</text>
<text x="1024" y="1396.8" font-size="26" text-anchor="middle" textLength="68" lengthAdjust="spacingAndGlyphs">70°W</text>
<text x="1331" y="1396.8" font-size="26" text-anchor="middle" textLength="68" lengthAdjust="spacingAndGlyphs">60°W</text>
<g shape-rendering="crispEdges">
<rect x="1675.0" y="1284.2" width="59.8" height="59.8" fill="#5e4fa2"/>
<rect x="1675.0" y="1225" width="59.8" height="59.8" fill="#486cb0"/>
<rect x="1675.0" y="1165.7" width="59.8" height="59.8" fill="#3389bd"/>
<rect x="1675.0" y="1106.4" width="59.8" height="59.8" fill="#50a9af"/>
<rect x="1675.0" y="1047.1" width="59.8" height="59.8" fill="#6bc4a5"/>
<rect x="1675.0" y="987.9" width="59.8" height="59.8" fill="#91d3a4"/>
<rect x="1675.0" y="928.6" width="59.8" height="59.8" fill="#b3e0a2"/>
<rect x="1675.0" y="869.3" width="59.8" height="59.8" fill="#d1ed9c"/>
<rect x="1675.0" y="810" width="59.8" height="59.8" fill="#ebf7a0"/>
<rect x="1675.0" y="750.8" width="59.8" height="59.8" fill="#f8fcb4"/>
<rect x="1675.0" y="691.5" width="59.8" height="59.8" fill="#fff7b2"/>
<rect x="1675.0" y="632.2" width="59.8" height="59.8" fill="#fee797"/>
<rect x="1675.0" y="572.9" width="59.8" height="59.8" fill="#fed07e"/>
<rect x="1675.0" y="513.6" width="59.8" height="59.8" fill="#fdb768"/>
<rect x="1675.0" y="454.4" width="59.8" height="59.8" fill="#fa9857"/>
<rect x="1675.0" y="395.1" width="59.8" height="59.8" fill="#f57547"/>
<rect x="1675.0" y="335.8" width="59.8" height="59.8" fill="#e85b48"/>
<rect x="1675.0" y="276.5" width="59.8" height="59.8" fill="#d7414e"/>
<rect x="1675.0" y="217.3" width="59.8" height="59.8" fill="#bc2249"/>
<rect x="1675.0" y="158" width="59.8" height="59.8" fill="#9e0142"/>
</g>
<rect x="1675.0" y="158.0" width="59.8" height="1185.5" fill="none" stroke="#000" stroke-width="2.2"/>
<text x="1754" y="1353.1" font-size="26" text-anchor="start" textLength="52.5" lengthAdjust="spacingAndGlyphs">−24</text>
<text x="1754" y="1293.8" font-size="26" text-anchor="start" textLength="52.5" lengthAdjust="spacingAndGlyphs">−22</text>
<text x="1754" y="1234.5" font-size="26" text-anchor="start" textLength="52.5" lengthAdjust="spacingAndGlyphs">−20</text>
<text x="1754" y="1175.3" font-size="26" text-anchor="start" textLength="52.5" lengthAdjust="spacingAndGlyphs">−18</text>
<text x="1754" y="1116" font-size="26" text-anchor="start" textLength="52.5" lengthAdjust="spacingAndGlyphs">−16</text>
<text x="1754" y="1056.7" font-size="26" text-anchor="start" textLength="52.5" lengthAdjust="spacingAndGlyphs">−14</text>
<text x="1754" y="997.5" font-size="26" text-anchor="start" textLength="52.5" lengthAdjust="spacingAndGlyphs">−12</text>
<text x="1754" y="938.2" font-size="26" text-anchor="start" textLength="52.5" lengthAdjust="spacingAndGlyphs">−10</text>
<text x="1754" y="878.9" font-size="26" text-anchor="start" textLength="36.5" lengthAdjust="spacingAndGlyphs">−8</text>
<text x="1754" y="819.6" font-size="26" text-anchor="start" textLength="36.5" lengthAdjust="spacingAndGlyphs">−6</text>
<text x="1754" y="760.4" font-size="26" text-anchor="start" textLength="36.5" lengthAdjust="spacingAndGlyphs">−4</text>
<text x="1754" y="701.1" font-size="26" text-anchor="start" textLength="36.5" lengthAdjust="spacingAndGlyphs">−2</text>
<text x="1754" y="641.8" font-size="26" text-anchor="start" textLength="15.5" lengthAdjust="spacingAndGlyphs">0</text>
<text x="1754" y="582.5" font-size="26" text-anchor="start" textLength="15.5" lengthAdjust="spacingAndGlyphs">2</text>
<text x="1754" y="523.2" font-size="26" text-anchor="start" textLength="15.5" lengthAdjust="spacingAndGlyphs">4</text>
<text x="1754" y="464" font-size="26" text-anchor="start" textLength="15.5" lengthAdjust="spacingAndGlyphs">6</text>
<text x="1754" y="404.7" font-size="26" text-anchor="start" textLength="15.5" lengthAdjust="spacingAndGlyphs">8</text>
<text x="1754" y="345.4" font-size="26" text-anchor="start" textLength="31.5" lengthAdjust="spacingAndGlyphs">10</text>
<text x="1754" y="286.1" font-size="26" text-anchor="start" textLength="31.5" lengthAdjust="spacingAndGlyphs">12</text>
<text x="1754" y="226.9" font-size="26" text-anchor="start" textLength="31.5" lengthAdjust="spacingAndGlyphs">14</text>
<text x="1754" y="167.6" font-size="26" text-anchor="start" textLength="31.5" lengthAdjust="spacingAndGlyphs">16</text>
<path d="M1734.8 1343.5h9.7M1734.8 1284.2h9.7M1734.8 1225h9.7M1734.8 1165.7h9.7M1734.8 1106.4h9.7M1734.8 1047.1h9.7M1734.8 987.9h9.7M1734.8 928.6h9.7M1734.8 869.3h9.7M1734.8 810h9.7M1734.8 750.8h9.7M1734.8 691.5h9.7M1734.8 632.2h9.7M1734.8 572.9h9.7M1734.8 513.6h9.7M1734.8 454.4h9.7M1734.8 395.1h9.7M1734.8 335.8h9.7M1734.8 276.5h9.7M1734.8 217.3h9.7M1734.8 158h9.7" stroke="#000" stroke-width="2.2" fill="none"/>
<text x="1836" y="751.8" font-size="26" text-anchor="middle" transform="rotate(-90 1836 751.8)" textLength="702" lengthAdjust="spacingAndGlyphs">Anomalía de θe de saturación media 1000–200 hPa [°C]</text>
</svg></body></html>
